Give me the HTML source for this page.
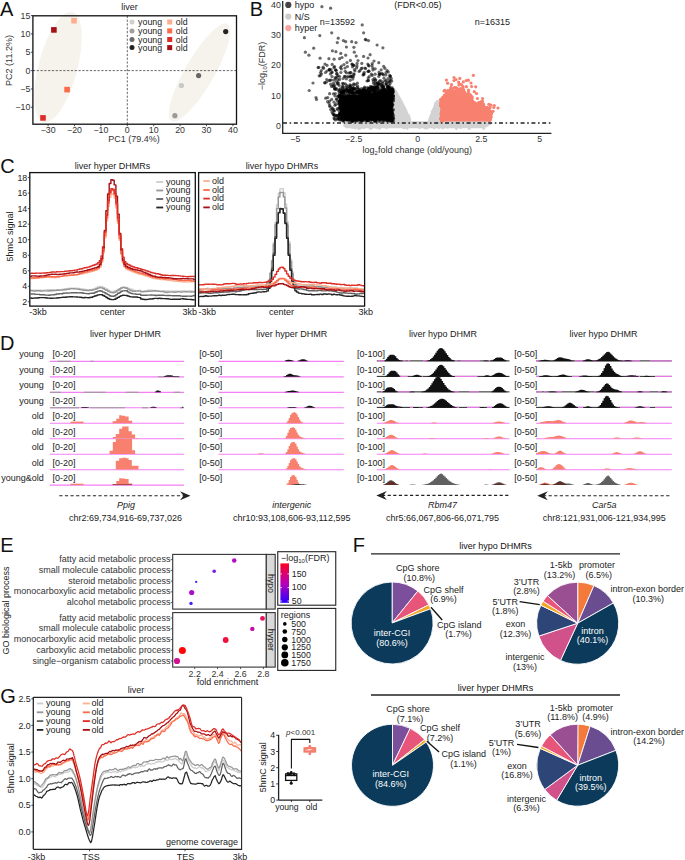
<!DOCTYPE html>
<html><head><meta charset="utf-8"><style>
html,body{margin:0;padding:0;background:#fff;}
svg{display:block;}
text{font-family:"Liberation Sans",sans-serif;}
</style></head><body>
<svg width="685" height="860" viewBox="0 0 685 860" font-family="Liberation Sans, sans-serif">
<rect width="685" height="860" fill="#fff"/>
<text x="0.00" y="15.50" font-size="20" text-anchor="start" fill="#111" >A</text>
<text x="129.60" y="10.10" font-size="9" text-anchor="middle" fill="#222" >liver</text>
<ellipse cx="58" cy="67" rx="19.4" ry="56.9" fill="#F6F2EC" transform="rotate(14.8 58 67)"/>
<ellipse cx="199.5" cy="72.5" rx="14.5" ry="55.9" fill="#F6F2EC" transform="rotate(30 199.5 72.5)"/>
<line x1="32.90" y1="70.60" x2="236.50" y2="70.60" stroke="#555" stroke-width="0.9" stroke-dasharray="2.2,1.6"/>
<line x1="127.30" y1="15.80" x2="127.30" y2="124.20" stroke="#555" stroke-width="0.9" stroke-dasharray="2.2,1.6"/>
<rect x="32.90" y="15.80" width="203.60" height="108.40" fill="none" stroke="#111" stroke-width="1.3" />
<line x1="30.90" y1="15.59" x2="32.90" y2="15.59" stroke="#222" stroke-width="0.8" />
<text x="30.30" y="18.70" font-size="8.8" text-anchor="end" fill="#333" >15</text>
<line x1="30.90" y1="33.93" x2="32.90" y2="33.93" stroke="#222" stroke-width="0.8" />
<text x="30.30" y="37.03" font-size="8.8" text-anchor="end" fill="#333" >10</text>
<line x1="30.90" y1="52.26" x2="32.90" y2="52.26" stroke="#222" stroke-width="0.8" />
<text x="30.30" y="55.36" font-size="8.8" text-anchor="end" fill="#333" >5</text>
<line x1="30.90" y1="70.60" x2="32.90" y2="70.60" stroke="#222" stroke-width="0.8" />
<text x="30.30" y="73.70" font-size="8.8" text-anchor="end" fill="#333" >0</text>
<line x1="30.90" y1="88.94" x2="32.90" y2="88.94" stroke="#222" stroke-width="0.8" />
<text x="30.30" y="92.03" font-size="8.8" text-anchor="end" fill="#333" >−5</text>
<line x1="30.90" y1="107.27" x2="32.90" y2="107.27" stroke="#222" stroke-width="0.8" />
<text x="30.30" y="110.37" font-size="8.8" text-anchor="end" fill="#333" >−10</text>
<line x1="48.10" y1="124.20" x2="48.10" y2="126.20" stroke="#222" stroke-width="0.8" />
<text x="48.10" y="133.00" font-size="8.8" text-anchor="middle" fill="#333" >−30</text>
<line x1="74.50" y1="124.20" x2="74.50" y2="126.20" stroke="#222" stroke-width="0.8" />
<text x="74.50" y="133.00" font-size="8.8" text-anchor="middle" fill="#333" >−20</text>
<line x1="100.90" y1="124.20" x2="100.90" y2="126.20" stroke="#222" stroke-width="0.8" />
<text x="100.90" y="133.00" font-size="8.8" text-anchor="middle" fill="#333" >−10</text>
<line x1="127.30" y1="124.20" x2="127.30" y2="126.20" stroke="#222" stroke-width="0.8" />
<text x="127.30" y="133.00" font-size="8.8" text-anchor="middle" fill="#333" >0</text>
<line x1="153.70" y1="124.20" x2="153.70" y2="126.20" stroke="#222" stroke-width="0.8" />
<text x="153.70" y="133.00" font-size="8.8" text-anchor="middle" fill="#333" >10</text>
<line x1="180.10" y1="124.20" x2="180.10" y2="126.20" stroke="#222" stroke-width="0.8" />
<text x="180.10" y="133.00" font-size="8.8" text-anchor="middle" fill="#333" >20</text>
<line x1="206.50" y1="124.20" x2="206.50" y2="126.20" stroke="#222" stroke-width="0.8" />
<text x="206.50" y="133.00" font-size="8.8" text-anchor="middle" fill="#333" >30</text>
<line x1="232.90" y1="124.20" x2="232.90" y2="126.20" stroke="#222" stroke-width="0.8" />
<text x="232.90" y="133.00" font-size="8.8" text-anchor="middle" fill="#333" >40</text>
<text x="134.00" y="142.20" font-size="9" text-anchor="middle" fill="#333" >PC1 (79.4%)</text>
<text x="0" y="0" font-size="9" text-anchor="middle" fill="#333" transform="translate(12.2 60.5) rotate(-90)">PC2 (11.2%)</text>
<rect x="71.20" y="17.90" width="5.60" height="5.60" fill="#FCAE91" stroke="none" stroke-width="0" />
<rect x="51.10" y="27.10" width="5.60" height="5.60" fill="#A50F15" stroke="none" stroke-width="0" />
<rect x="64.30" y="86.80" width="5.60" height="5.60" fill="#FB6A4A" stroke="none" stroke-width="0" />
<rect x="40.20" y="115.10" width="5.60" height="5.60" fill="#DE2D26" stroke="none" stroke-width="0" />
<circle cx="225.70" cy="31.60" r="2.60" fill="#222" />
<circle cx="198.60" cy="75.60" r="2.60" fill="#666" />
<circle cx="181.40" cy="85.60" r="2.60" fill="#C8C8C8" />
<circle cx="174.90" cy="115.70" r="2.60" fill="#999" />
<circle cx="132.00" cy="22.00" r="2.50" fill="#CFCFCF" />
<text x="138.10" y="25.30" font-size="8.8" text-anchor="start" fill="#222" >young</text>
<rect x="167.20" y="19.50" width="5.00" height="5.00" fill="#FCAE91" stroke="none" stroke-width="0" />
<text x="175.80" y="25.30" font-size="8.8" text-anchor="start" fill="#222" >old</text>
<circle cx="132.00" cy="30.90" r="2.50" fill="#A0A0A0" />
<text x="138.10" y="34.20" font-size="8.8" text-anchor="start" fill="#222" >young</text>
<rect x="167.20" y="28.40" width="5.00" height="5.00" fill="#FB6A4A" stroke="none" stroke-width="0" />
<text x="175.80" y="34.20" font-size="8.8" text-anchor="start" fill="#222" >old</text>
<circle cx="132.00" cy="39.50" r="2.50" fill="#6A6A6A" />
<text x="138.10" y="42.80" font-size="8.8" text-anchor="start" fill="#222" >young</text>
<rect x="167.20" y="37.00" width="5.00" height="5.00" fill="#DE2D26" stroke="none" stroke-width="0" />
<text x="175.80" y="42.80" font-size="8.8" text-anchor="start" fill="#222" >old</text>
<circle cx="132.00" cy="47.60" r="2.50" fill="#222" />
<text x="138.10" y="50.90" font-size="8.8" text-anchor="start" fill="#222" >young</text>
<rect x="167.20" y="45.10" width="5.00" height="5.00" fill="#A50F15" stroke="none" stroke-width="0" />
<text x="175.80" y="50.90" font-size="8.8" text-anchor="start" fill="#222" >old</text>
<text x="249.80" y="15.50" font-size="20" text-anchor="start" fill="#111" >B</text>
<polygon points="343.0,126.0 346.0,128.3 480.0,128.3 486.0,127.5 492.0,124.0 490.0,121.0 470.0,121.0 442.0,100.0 437.0,101.5 434.0,105.0 431.0,112.0 428.0,121.3 411.0,121.3 407.0,110.0 402.0,100.0 396.0,89.5 392.0,88.5 392.0,120.0 345.0,120.0" fill="#D3D3D3" />
<g fill="#D3D3D3">
<circle cx="396.5" cy="99.4" r="1.5"/>
<circle cx="402.3" cy="109.8" r="1.5"/>
<circle cx="401.0" cy="106.1" r="1.5"/>
<circle cx="392.7" cy="90.9" r="1.5"/>
<circle cx="392.1" cy="90.2" r="1.5"/>
<circle cx="391.6" cy="91.2" r="1.5"/>
<circle cx="400.4" cy="102.6" r="1.5"/>
<circle cx="393.0" cy="93.0" r="1.5"/>
<circle cx="404.5" cy="109.1" r="1.5"/>
<circle cx="401.9" cy="107.5" r="1.5"/>
<circle cx="408.2" cy="120.2" r="1.5"/>
<circle cx="406.8" cy="116.5" r="1.5"/>
<circle cx="393.1" cy="93.6" r="1.5"/>
<circle cx="398.2" cy="98.9" r="1.5"/>
<circle cx="395.2" cy="94.8" r="1.5"/>
<circle cx="403.0" cy="109.4" r="1.5"/>
<circle cx="400.4" cy="106.5" r="1.5"/>
<circle cx="391.8" cy="90.9" r="1.5"/>
<circle cx="403.9" cy="110.8" r="1.5"/>
<circle cx="397.6" cy="99.1" r="1.5"/>
<circle cx="399.3" cy="103.5" r="1.5"/>
<circle cx="406.8" cy="114.4" r="1.5"/>
<circle cx="396.3" cy="96.8" r="1.5"/>
<circle cx="402.4" cy="105.8" r="1.5"/>
<circle cx="404.4" cy="112.3" r="1.5"/>
<circle cx="408.5" cy="120.4" r="1.5"/>
<circle cx="400.1" cy="102.4" r="1.5"/>
<circle cx="394.3" cy="93.9" r="1.5"/>
<circle cx="392.8" cy="90.3" r="1.5"/>
<circle cx="405.9" cy="113.5" r="1.5"/>
<circle cx="407.1" cy="117.0" r="1.5"/>
<circle cx="404.7" cy="111.2" r="1.5"/>
<circle cx="402.1" cy="107.6" r="1.5"/>
<circle cx="408.4" cy="115.9" r="1.5"/>
<circle cx="400.8" cy="104.2" r="1.5"/>
<circle cx="393.3" cy="90.9" r="1.5"/>
<circle cx="405.0" cy="109.7" r="1.5"/>
<circle cx="406.1" cy="115.3" r="1.5"/>
<circle cx="399.2" cy="101.3" r="1.5"/>
<circle cx="391.9" cy="89.7" r="1.5"/>
<circle cx="393.5" cy="94.4" r="1.5"/>
<circle cx="393.5" cy="90.9" r="1.5"/>
<circle cx="393.2" cy="93.1" r="1.5"/>
<circle cx="399.9" cy="101.5" r="1.5"/>
<circle cx="392.9" cy="91.6" r="1.5"/>
<circle cx="402.8" cy="106.6" r="1.5"/>
<circle cx="407.8" cy="115.2" r="1.5"/>
<circle cx="396.5" cy="97.9" r="1.5"/>
<circle cx="399.3" cy="100.5" r="1.5"/>
<circle cx="408.2" cy="119.6" r="1.5"/>
<circle cx="394.0" cy="94.6" r="1.5"/>
<circle cx="395.8" cy="96.5" r="1.5"/>
<circle cx="401.7" cy="107.9" r="1.5"/>
<circle cx="391.4" cy="89.1" r="1.5"/>
<circle cx="398.6" cy="100.8" r="1.5"/>
<circle cx="409.7" cy="119.5" r="1.5"/>
<circle cx="401.4" cy="105.5" r="1.5"/>
<circle cx="402.7" cy="110.6" r="1.5"/>
<circle cx="409.0" cy="117.8" r="1.5"/>
<circle cx="408.6" cy="117.0" r="1.5"/>
<circle cx="398.5" cy="101.6" r="1.5"/>
<circle cx="393.9" cy="92.3" r="1.5"/>
<circle cx="391.4" cy="91.0" r="1.5"/>
<circle cx="394.4" cy="95.7" r="1.5"/>
<circle cx="396.5" cy="99.9" r="1.5"/>
<circle cx="390.5" cy="89.0" r="1.5"/>
<circle cx="393.0" cy="92.2" r="1.5"/>
<circle cx="393.2" cy="89.8" r="1.5"/>
<circle cx="401.8" cy="108.7" r="1.5"/>
<circle cx="395.8" cy="97.1" r="1.5"/>
<circle cx="397.2" cy="100.7" r="1.5"/>
<circle cx="408.7" cy="116.2" r="1.5"/>
<circle cx="400.1" cy="103.9" r="1.5"/>
<circle cx="392.0" cy="91.7" r="1.5"/>
<circle cx="397.2" cy="100.0" r="1.5"/>
<circle cx="405.8" cy="115.5" r="1.5"/>
<circle cx="393.4" cy="89.7" r="1.5"/>
<circle cx="400.2" cy="105.9" r="1.5"/>
<circle cx="400.2" cy="106.4" r="1.5"/>
<circle cx="402.7" cy="105.9" r="1.5"/>
<circle cx="408.1" cy="116.6" r="1.5"/>
<circle cx="396.0" cy="97.4" r="1.5"/>
<circle cx="395.5" cy="94.3" r="1.5"/>
<circle cx="402.2" cy="106.0" r="1.5"/>
<circle cx="396.8" cy="99.5" r="1.5"/>
<circle cx="408.0" cy="115.0" r="1.5"/>
<circle cx="408.2" cy="116.3" r="1.5"/>
<circle cx="407.4" cy="115.2" r="1.5"/>
<circle cx="395.8" cy="96.3" r="1.5"/>
<circle cx="396.7" cy="100.4" r="1.5"/>
<circle cx="437.1" cy="101.6" r="1.5"/>
<circle cx="436.5" cy="106.2" r="1.5"/>
<circle cx="430.2" cy="120.1" r="1.5"/>
<circle cx="432.0" cy="119.7" r="1.5"/>
<circle cx="430.0" cy="120.1" r="1.5"/>
<circle cx="435.4" cy="105.4" r="1.5"/>
<circle cx="435.5" cy="104.9" r="1.5"/>
<circle cx="434.2" cy="113.5" r="1.5"/>
<circle cx="431.2" cy="117.8" r="1.5"/>
<circle cx="433.7" cy="114.1" r="1.5"/>
<circle cx="437.8" cy="102.7" r="1.5"/>
<circle cx="431.6" cy="119.2" r="1.5"/>
<circle cx="431.9" cy="116.0" r="1.5"/>
<circle cx="437.4" cy="104.6" r="1.5"/>
<circle cx="436.2" cy="107.7" r="1.5"/>
<circle cx="429.9" cy="120.4" r="1.5"/>
<circle cx="436.1" cy="109.0" r="1.5"/>
<circle cx="431.2" cy="115.5" r="1.5"/>
<circle cx="435.9" cy="103.5" r="1.5"/>
<circle cx="431.7" cy="119.1" r="1.5"/>
<circle cx="437.8" cy="103.9" r="1.5"/>
<circle cx="430.6" cy="120.6" r="1.5"/>
<circle cx="435.3" cy="108.0" r="1.5"/>
<circle cx="435.5" cy="103.6" r="1.5"/>
<circle cx="430.7" cy="120.4" r="1.5"/>
<circle cx="435.1" cy="111.5" r="1.5"/>
<circle cx="435.6" cy="109.7" r="1.5"/>
<circle cx="430.5" cy="117.5" r="1.5"/>
<circle cx="435.4" cy="106.0" r="1.5"/>
<circle cx="436.3" cy="105.8" r="1.5"/>
<circle cx="435.7" cy="106.2" r="1.5"/>
<circle cx="438.2" cy="103.6" r="1.5"/>
<circle cx="435.0" cy="108.1" r="1.5"/>
<circle cx="434.5" cy="112.7" r="1.5"/>
<circle cx="435.9" cy="109.4" r="1.5"/>
<circle cx="434.1" cy="111.0" r="1.5"/>
<circle cx="432.4" cy="111.5" r="1.5"/>
<circle cx="433.5" cy="109.8" r="1.5"/>
<circle cx="438.9" cy="101.1" r="1.5"/>
<circle cx="436.5" cy="104.4" r="1.5"/>
<circle cx="432.4" cy="115.5" r="1.5"/>
<circle cx="435.4" cy="107.5" r="1.5"/>
<circle cx="434.4" cy="112.1" r="1.5"/>
<circle cx="437.3" cy="103.1" r="1.5"/>
<circle cx="435.3" cy="106.0" r="1.5"/>
<circle cx="431.8" cy="116.4" r="1.5"/>
<circle cx="434.3" cy="112.2" r="1.5"/>
<circle cx="430.5" cy="119.2" r="1.5"/>
<circle cx="433.1" cy="113.3" r="1.5"/>
<circle cx="434.5" cy="111.2" r="1.5"/>
<circle cx="434.5" cy="110.0" r="1.5"/>
<circle cx="435.5" cy="110.6" r="1.5"/>
<circle cx="433.5" cy="115.0" r="1.5"/>
<circle cx="429.7" cy="119.8" r="1.5"/>
<circle cx="434.9" cy="112.2" r="1.5"/>
<circle cx="430.2" cy="117.8" r="1.5"/>
<circle cx="436.9" cy="103.4" r="1.5"/>
<circle cx="436.6" cy="102.5" r="1.5"/>
<circle cx="437.9" cy="102.5" r="1.5"/>
<circle cx="432.9" cy="116.7" r="1.5"/>
<circle cx="370.9" cy="128.1" r="1.5"/>
<circle cx="439.1" cy="127.4" r="1.5"/>
<circle cx="469.2" cy="128.4" r="1.5"/>
<circle cx="379.6" cy="128.3" r="1.5"/>
<circle cx="403.8" cy="127.8" r="1.5"/>
<circle cx="483.6" cy="128.2" r="1.5"/>
<circle cx="371.8" cy="127.7" r="1.5"/>
<circle cx="419.6" cy="127.6" r="1.5"/>
<circle cx="376.4" cy="127.6" r="1.5"/>
<circle cx="447.5" cy="127.2" r="1.5"/>
<circle cx="424.8" cy="127.7" r="1.5"/>
<circle cx="352.4" cy="127.6" r="1.5"/>
<circle cx="434.2" cy="127.8" r="1.5"/>
<circle cx="358.7" cy="128.4" r="1.5"/>
<circle cx="456.4" cy="128.4" r="1.5"/>
<circle cx="364.1" cy="127.5" r="1.5"/>
<circle cx="355.3" cy="128.1" r="1.5"/>
<circle cx="386.5" cy="127.4" r="1.5"/>
<circle cx="407.0" cy="128.3" r="1.5"/>
<circle cx="460.6" cy="127.5" r="1.5"/>
<circle cx="370.2" cy="128.3" r="1.5"/>
<circle cx="427.0" cy="128.0" r="1.5"/>
<circle cx="362.1" cy="127.3" r="1.5"/>
<circle cx="442.9" cy="127.7" r="1.5"/>
<circle cx="359.8" cy="128.3" r="1.5"/>
</g>
<polygon points="340.5,95.5 366.0,94.0 392.7,89.5 392.7,120.5 340.5,120.5" fill="#000" />
<g fill="#000" fill-opacity="0.58">
<circle cx="341.5" cy="111.2" r="1.6"/>
<circle cx="341.8" cy="109.1" r="1.6"/>
<circle cx="339.8" cy="96.3" r="1.6"/>
<circle cx="339.3" cy="103.8" r="1.6"/>
<circle cx="339.6" cy="118.8" r="1.6"/>
<circle cx="342.0" cy="112.5" r="1.6"/>
<circle cx="339.7" cy="96.4" r="1.6"/>
<circle cx="341.1" cy="117.2" r="1.6"/>
<circle cx="341.9" cy="101.7" r="1.6"/>
<circle cx="340.3" cy="95.0" r="1.6"/>
<circle cx="340.4" cy="97.3" r="1.6"/>
<circle cx="341.1" cy="114.1" r="1.6"/>
<circle cx="341.0" cy="113.5" r="1.6"/>
<circle cx="340.7" cy="98.6" r="1.6"/>
<circle cx="341.2" cy="112.4" r="1.6"/>
<circle cx="341.0" cy="109.2" r="1.6"/>
<circle cx="340.7" cy="107.8" r="1.6"/>
<circle cx="339.9" cy="113.6" r="1.6"/>
<circle cx="392.6" cy="113.9" r="1.6"/>
<circle cx="391.0" cy="107.5" r="1.6"/>
<circle cx="392.2" cy="105.8" r="1.6"/>
<circle cx="392.2" cy="89.6" r="1.6"/>
<circle cx="392.5" cy="95.8" r="1.6"/>
<circle cx="392.8" cy="117.8" r="1.6"/>
<circle cx="391.8" cy="103.6" r="1.6"/>
<circle cx="391.3" cy="116.3" r="1.6"/>
<circle cx="392.5" cy="121.5" r="1.6"/>
<circle cx="393.4" cy="98.3" r="1.6"/>
<circle cx="393.1" cy="117.7" r="1.6"/>
<circle cx="392.2" cy="112.8" r="1.6"/>
<circle cx="391.9" cy="104.3" r="1.6"/>
<circle cx="392.0" cy="107.1" r="1.6"/>
<circle cx="393.6" cy="118.5" r="1.6"/>
<circle cx="353.4" cy="120.0" r="1.6"/>
<circle cx="360.6" cy="120.1" r="1.6"/>
<circle cx="385.9" cy="119.9" r="1.6"/>
<circle cx="386.4" cy="119.5" r="1.6"/>
<circle cx="361.4" cy="121.2" r="1.6"/>
<circle cx="368.2" cy="120.7" r="1.6"/>
<circle cx="343.1" cy="120.9" r="1.6"/>
<circle cx="374.1" cy="120.8" r="1.6"/>
<circle cx="372.3" cy="119.5" r="1.6"/>
<circle cx="353.2" cy="119.9" r="1.6"/>
<circle cx="362.8" cy="120.0" r="1.6"/>
<circle cx="376.5" cy="119.9" r="1.6"/>
<circle cx="383.6" cy="119.9" r="1.6"/>
<circle cx="352.6" cy="120.3" r="1.6"/>
<circle cx="348.4" cy="119.6" r="1.6"/>
<circle cx="389.4" cy="120.1" r="1.6"/>
<circle cx="360.4" cy="120.1" r="1.6"/>
<circle cx="334.6" cy="66.7" r="1.6"/>
<circle cx="388.8" cy="91.0" r="1.6"/>
<circle cx="324.7" cy="82.6" r="1.6"/>
<circle cx="351.6" cy="91.5" r="1.6"/>
<circle cx="380.8" cy="95.0" r="1.6"/>
<circle cx="384.9" cy="68.3" r="1.6"/>
<circle cx="373.4" cy="81.2" r="1.6"/>
<circle cx="326.6" cy="82.0" r="1.6"/>
<circle cx="392.4" cy="91.6" r="1.6"/>
<circle cx="355.5" cy="84.5" r="1.6"/>
<circle cx="334.8" cy="85.7" r="1.6"/>
<circle cx="351.4" cy="92.6" r="1.6"/>
<circle cx="346.2" cy="89.0" r="1.6"/>
<circle cx="321.5" cy="74.1" r="1.6"/>
<circle cx="385.7" cy="91.0" r="1.6"/>
<circle cx="342.6" cy="86.8" r="1.6"/>
<circle cx="339.1" cy="93.1" r="1.6"/>
<circle cx="334.8" cy="88.2" r="1.6"/>
<circle cx="353.3" cy="84.9" r="1.6"/>
<circle cx="385.5" cy="90.4" r="1.6"/>
<circle cx="382.8" cy="90.3" r="1.6"/>
<circle cx="387.6" cy="86.3" r="1.6"/>
<circle cx="388.9" cy="88.7" r="1.6"/>
<circle cx="387.1" cy="70.6" r="1.6"/>
<circle cx="329.9" cy="80.2" r="1.6"/>
<circle cx="360.3" cy="92.9" r="1.6"/>
<circle cx="370.5" cy="94.6" r="1.6"/>
<circle cx="348.2" cy="86.6" r="1.6"/>
<circle cx="373.6" cy="94.8" r="1.6"/>
<circle cx="339.4" cy="89.6" r="1.6"/>
<circle cx="333.2" cy="86.4" r="1.6"/>
<circle cx="329.3" cy="69.4" r="1.6"/>
<circle cx="390.9" cy="89.2" r="1.6"/>
<circle cx="333.6" cy="83.0" r="1.6"/>
<circle cx="352.9" cy="93.0" r="1.6"/>
<circle cx="383.3" cy="74.8" r="1.6"/>
<circle cx="356.6" cy="67.9" r="1.6"/>
<circle cx="336.2" cy="70.6" r="1.6"/>
<circle cx="320.5" cy="72.6" r="1.6"/>
<circle cx="331.5" cy="86.4" r="1.6"/>
<circle cx="350.0" cy="90.8" r="1.6"/>
<circle cx="368.9" cy="88.7" r="1.6"/>
<circle cx="342.7" cy="88.2" r="1.6"/>
<circle cx="374.5" cy="92.9" r="1.6"/>
<circle cx="387.7" cy="88.1" r="1.6"/>
<circle cx="369.4" cy="92.9" r="1.6"/>
<circle cx="329.6" cy="70.1" r="1.6"/>
<circle cx="385.2" cy="93.0" r="1.6"/>
<circle cx="336.5" cy="88.5" r="1.6"/>
<circle cx="352.8" cy="79.1" r="1.6"/>
<circle cx="318.1" cy="67.6" r="1.6"/>
<circle cx="340.4" cy="67.6" r="1.6"/>
<circle cx="382.6" cy="81.8" r="1.6"/>
<circle cx="371.4" cy="89.0" r="1.6"/>
<circle cx="339.2" cy="85.5" r="1.6"/>
<circle cx="371.1" cy="92.1" r="1.6"/>
<circle cx="383.7" cy="66.3" r="1.6"/>
<circle cx="378.8" cy="76.4" r="1.6"/>
<circle cx="357.6" cy="86.2" r="1.6"/>
<circle cx="352.2" cy="64.4" r="1.6"/>
<circle cx="374.8" cy="85.4" r="1.6"/>
<circle cx="350.8" cy="93.0" r="1.6"/>
<circle cx="364.3" cy="89.7" r="1.6"/>
<circle cx="353.8" cy="74.1" r="1.6"/>
<circle cx="344.7" cy="76.6" r="1.6"/>
<circle cx="350.4" cy="89.1" r="1.6"/>
<circle cx="375.8" cy="79.8" r="1.6"/>
<circle cx="372.2" cy="75.4" r="1.6"/>
<circle cx="333.9" cy="67.4" r="1.6"/>
<circle cx="353.2" cy="88.1" r="1.6"/>
<circle cx="391.4" cy="91.5" r="1.6"/>
<circle cx="372.4" cy="89.4" r="1.6"/>
<circle cx="354.0" cy="74.4" r="1.6"/>
<circle cx="347.4" cy="66.5" r="1.6"/>
<circle cx="367.9" cy="71.5" r="1.6"/>
<circle cx="361.3" cy="91.5" r="1.6"/>
<circle cx="348.8" cy="76.8" r="1.6"/>
<circle cx="391.8" cy="81.1" r="1.6"/>
<circle cx="369.9" cy="91.5" r="1.6"/>
<circle cx="390.1" cy="83.6" r="1.6"/>
<circle cx="333.4" cy="85.2" r="1.6"/>
<circle cx="346.8" cy="85.3" r="1.6"/>
<circle cx="361.4" cy="92.8" r="1.6"/>
<circle cx="352.8" cy="89.3" r="1.6"/>
<circle cx="369.5" cy="92.4" r="1.6"/>
<circle cx="363.2" cy="92.8" r="1.6"/>
<circle cx="363.3" cy="90.0" r="1.6"/>
<circle cx="388.1" cy="86.3" r="1.6"/>
<circle cx="375.1" cy="91.0" r="1.6"/>
<circle cx="388.0" cy="86.3" r="1.6"/>
<circle cx="382.0" cy="86.7" r="1.6"/>
<circle cx="369.9" cy="91.5" r="1.6"/>
<circle cx="366.6" cy="90.5" r="1.6"/>
<circle cx="375.6" cy="87.4" r="1.6"/>
<circle cx="342.5" cy="92.6" r="1.6"/>
<circle cx="387.7" cy="90.9" r="1.6"/>
<circle cx="368.3" cy="88.7" r="1.6"/>
<circle cx="384.0" cy="89.1" r="1.6"/>
<circle cx="358.2" cy="92.6" r="1.6"/>
<circle cx="387.1" cy="87.9" r="1.6"/>
<circle cx="375.2" cy="87.8" r="1.6"/>
<circle cx="376.4" cy="91.1" r="1.6"/>
<circle cx="381.3" cy="86.3" r="1.6"/>
<circle cx="356.7" cy="92.1" r="1.6"/>
<circle cx="343.0" cy="95.5" r="1.6"/>
<circle cx="371.8" cy="87.3" r="1.6"/>
<circle cx="348.9" cy="95.4" r="1.6"/>
<circle cx="347.7" cy="95.6" r="1.6"/>
<circle cx="378.1" cy="87.0" r="1.6"/>
<circle cx="354.2" cy="89.1" r="1.6"/>
<circle cx="335.9" cy="104.3" r="1.6"/>
<circle cx="331.9" cy="107.9" r="1.6"/>
<circle cx="333.5" cy="114.6" r="1.6"/>
<circle cx="327.6" cy="101.7" r="1.6"/>
<circle cx="332.8" cy="113.6" r="1.6"/>
<circle cx="329.8" cy="106.5" r="1.6"/>
<circle cx="335.6" cy="116.3" r="1.6"/>
<circle cx="327.7" cy="97.6" r="1.6"/>
<circle cx="325.7" cy="98.2" r="1.6"/>
<circle cx="329.8" cy="105.5" r="1.6"/>
<circle cx="336.7" cy="115.6" r="1.6"/>
<circle cx="338.0" cy="96.1" r="1.6"/>
<circle cx="330.6" cy="8.2" r="1.6"/>
<circle cx="319.8" cy="35.6" r="1.6"/>
<circle cx="368.5" cy="40.6" r="1.6"/>
<circle cx="345.7" cy="41.7" r="1.6"/>
<circle cx="382.9" cy="47.8" r="1.6"/>
<circle cx="305.4" cy="52.2" r="1.6"/>
<circle cx="340.8" cy="53.4" r="1.6"/>
<circle cx="363.6" cy="56.4" r="1.6"/>
<circle cx="334.1" cy="59.2" r="1.6"/>
<circle cx="378.8" cy="62.7" r="1.6"/>
<circle cx="313.0" cy="83.0" r="1.6"/>
<circle cx="336.0" cy="70.0" r="1.6"/>
<circle cx="352.0" cy="64.0" r="1.6"/>
<circle cx="373.0" cy="70.0" r="1.6"/>
<circle cx="390.0" cy="80.0" r="1.6"/>
<circle cx="374.0" cy="61.0" r="1.6"/>
<circle cx="368.0" cy="58.0" r="1.6"/>
</g>
<g fill="#000" fill-opacity="0.58">
<circle cx="341.6" cy="97.1" r="1.6"/>
<circle cx="339.6" cy="101.8" r="1.6"/>
<circle cx="340.1" cy="103.0" r="1.6"/>
<circle cx="339.3" cy="101.4" r="1.6"/>
<circle cx="340.5" cy="115.9" r="1.6"/>
<circle cx="341.5" cy="103.7" r="1.6"/>
<circle cx="341.3" cy="96.8" r="1.6"/>
<circle cx="340.0" cy="102.2" r="1.6"/>
<circle cx="340.8" cy="119.8" r="1.6"/>
<circle cx="340.7" cy="107.1" r="1.6"/>
<circle cx="339.4" cy="96.1" r="1.6"/>
<circle cx="341.7" cy="113.3" r="1.6"/>
<circle cx="341.6" cy="96.1" r="1.6"/>
<circle cx="341.6" cy="107.9" r="1.6"/>
<circle cx="339.4" cy="100.9" r="1.6"/>
<circle cx="341.1" cy="111.0" r="1.6"/>
<circle cx="339.5" cy="111.8" r="1.6"/>
<circle cx="341.9" cy="113.9" r="1.6"/>
<circle cx="391.2" cy="109.9" r="1.6"/>
<circle cx="391.7" cy="91.0" r="1.6"/>
<circle cx="391.3" cy="104.2" r="1.6"/>
<circle cx="393.5" cy="115.6" r="1.6"/>
<circle cx="392.4" cy="93.6" r="1.6"/>
<circle cx="393.3" cy="96.5" r="1.6"/>
<circle cx="391.9" cy="93.6" r="1.6"/>
<circle cx="392.9" cy="119.1" r="1.6"/>
<circle cx="392.1" cy="100.7" r="1.6"/>
<circle cx="391.7" cy="97.1" r="1.6"/>
<circle cx="393.4" cy="109.5" r="1.6"/>
<circle cx="392.7" cy="113.5" r="1.6"/>
<circle cx="392.9" cy="98.7" r="1.6"/>
<circle cx="391.4" cy="94.4" r="1.6"/>
<circle cx="391.4" cy="103.6" r="1.6"/>
<circle cx="370.6" cy="121.1" r="1.6"/>
<circle cx="344.2" cy="120.0" r="1.6"/>
<circle cx="355.1" cy="119.9" r="1.6"/>
<circle cx="342.7" cy="120.8" r="1.6"/>
<circle cx="383.9" cy="121.0" r="1.6"/>
<circle cx="390.0" cy="120.8" r="1.6"/>
<circle cx="353.1" cy="121.2" r="1.6"/>
<circle cx="346.8" cy="119.6" r="1.6"/>
<circle cx="356.7" cy="120.3" r="1.6"/>
<circle cx="391.0" cy="120.8" r="1.6"/>
<circle cx="375.7" cy="121.2" r="1.6"/>
<circle cx="382.4" cy="120.8" r="1.6"/>
<circle cx="352.5" cy="120.9" r="1.6"/>
<circle cx="375.6" cy="121.2" r="1.6"/>
<circle cx="344.1" cy="120.2" r="1.6"/>
<circle cx="350.6" cy="121.2" r="1.6"/>
<circle cx="349.8" cy="119.5" r="1.6"/>
<circle cx="383.2" cy="91.3" r="1.6"/>
<circle cx="358.7" cy="93.2" r="1.6"/>
<circle cx="344.4" cy="94.7" r="1.6"/>
<circle cx="362.1" cy="68.1" r="1.6"/>
<circle cx="363.9" cy="73.9" r="1.6"/>
<circle cx="349.7" cy="90.8" r="1.6"/>
<circle cx="375.4" cy="80.3" r="1.6"/>
<circle cx="379.9" cy="93.1" r="1.6"/>
<circle cx="390.1" cy="76.7" r="1.6"/>
<circle cx="361.1" cy="92.7" r="1.6"/>
<circle cx="339.7" cy="79.4" r="1.6"/>
<circle cx="387.2" cy="93.6" r="1.6"/>
<circle cx="367.0" cy="81.0" r="1.6"/>
<circle cx="343.6" cy="92.0" r="1.6"/>
<circle cx="349.1" cy="89.9" r="1.6"/>
<circle cx="343.6" cy="91.1" r="1.6"/>
<circle cx="375.1" cy="91.6" r="1.6"/>
<circle cx="361.2" cy="94.1" r="1.6"/>
<circle cx="354.4" cy="92.2" r="1.6"/>
<circle cx="346.9" cy="91.2" r="1.6"/>
<circle cx="386.6" cy="90.6" r="1.6"/>
<circle cx="373.4" cy="94.2" r="1.6"/>
<circle cx="366.3" cy="94.0" r="1.6"/>
<circle cx="335.9" cy="89.4" r="1.6"/>
<circle cx="336.7" cy="81.9" r="1.6"/>
<circle cx="355.4" cy="88.8" r="1.6"/>
<circle cx="325.0" cy="83.0" r="1.6"/>
<circle cx="368.7" cy="90.4" r="1.6"/>
<circle cx="346.8" cy="89.3" r="1.6"/>
<circle cx="362.9" cy="93.8" r="1.6"/>
<circle cx="377.9" cy="83.8" r="1.6"/>
<circle cx="391.3" cy="78.5" r="1.6"/>
<circle cx="330.4" cy="73.9" r="1.6"/>
<circle cx="338.0" cy="75.7" r="1.6"/>
<circle cx="351.6" cy="89.0" r="1.6"/>
<circle cx="381.2" cy="90.0" r="1.6"/>
<circle cx="384.0" cy="78.2" r="1.6"/>
<circle cx="357.1" cy="63.4" r="1.6"/>
<circle cx="335.3" cy="69.8" r="1.6"/>
<circle cx="347.6" cy="92.6" r="1.6"/>
<circle cx="319.2" cy="75.8" r="1.6"/>
<circle cx="335.1" cy="77.9" r="1.6"/>
<circle cx="373.5" cy="91.6" r="1.6"/>
<circle cx="346.4" cy="78.8" r="1.6"/>
<circle cx="368.1" cy="92.5" r="1.6"/>
<circle cx="327.0" cy="65.3" r="1.6"/>
<circle cx="350.1" cy="86.5" r="1.6"/>
<circle cx="351.0" cy="72.5" r="1.6"/>
<circle cx="377.7" cy="85.7" r="1.6"/>
<circle cx="354.9" cy="71.0" r="1.6"/>
<circle cx="347.5" cy="87.8" r="1.6"/>
<circle cx="388.0" cy="88.3" r="1.6"/>
<circle cx="380.3" cy="74.2" r="1.6"/>
<circle cx="388.6" cy="91.9" r="1.6"/>
<circle cx="341.9" cy="92.7" r="1.6"/>
<circle cx="381.8" cy="85.0" r="1.6"/>
<circle cx="349.3" cy="91.4" r="1.6"/>
<circle cx="339.6" cy="76.5" r="1.6"/>
<circle cx="353.5" cy="92.8" r="1.6"/>
<circle cx="361.2" cy="68.7" r="1.6"/>
<circle cx="337.8" cy="79.6" r="1.6"/>
<circle cx="388.3" cy="71.9" r="1.6"/>
<circle cx="382.8" cy="85.4" r="1.6"/>
<circle cx="373.3" cy="91.3" r="1.6"/>
<circle cx="353.9" cy="83.8" r="1.6"/>
<circle cx="352.5" cy="66.8" r="1.6"/>
<circle cx="364.2" cy="72.3" r="1.6"/>
<circle cx="361.3" cy="90.0" r="1.6"/>
<circle cx="353.0" cy="89.5" r="1.6"/>
<circle cx="334.5" cy="80.1" r="1.6"/>
<circle cx="359.3" cy="91.5" r="1.6"/>
<circle cx="349.4" cy="91.4" r="1.6"/>
<circle cx="352.4" cy="76.5" r="1.6"/>
<circle cx="374.5" cy="78.4" r="1.6"/>
<circle cx="365.6" cy="68.6" r="1.6"/>
<circle cx="368.8" cy="71.2" r="1.6"/>
<circle cx="385.9" cy="75.0" r="1.6"/>
<circle cx="368.8" cy="92.6" r="1.6"/>
<circle cx="373.0" cy="79.5" r="1.6"/>
<circle cx="375.0" cy="89.1" r="1.6"/>
<circle cx="357.0" cy="87.4" r="1.6"/>
<circle cx="378.2" cy="88.7" r="1.6"/>
<circle cx="347.7" cy="91.0" r="1.6"/>
<circle cx="359.4" cy="90.5" r="1.6"/>
<circle cx="384.4" cy="89.3" r="1.6"/>
<circle cx="341.1" cy="92.1" r="1.6"/>
<circle cx="375.3" cy="90.3" r="1.6"/>
<circle cx="348.3" cy="90.6" r="1.6"/>
<circle cx="346.3" cy="95.0" r="1.6"/>
<circle cx="349.7" cy="90.1" r="1.6"/>
<circle cx="351.3" cy="91.1" r="1.6"/>
<circle cx="353.2" cy="94.2" r="1.6"/>
<circle cx="369.1" cy="88.0" r="1.6"/>
<circle cx="360.5" cy="91.7" r="1.6"/>
<circle cx="376.5" cy="86.8" r="1.6"/>
<circle cx="378.3" cy="88.4" r="1.6"/>
<circle cx="352.0" cy="92.6" r="1.6"/>
<circle cx="367.2" cy="91.8" r="1.6"/>
<circle cx="356.6" cy="91.1" r="1.6"/>
<circle cx="343.6" cy="94.3" r="1.6"/>
<circle cx="388.3" cy="87.3" r="1.6"/>
<circle cx="375.7" cy="89.7" r="1.6"/>
<circle cx="375.1" cy="90.3" r="1.6"/>
<circle cx="357.6" cy="91.9" r="1.6"/>
<circle cx="383.1" cy="88.1" r="1.6"/>
<circle cx="392.0" cy="87.7" r="1.6"/>
<circle cx="341.2" cy="92.3" r="1.6"/>
<circle cx="378.4" cy="90.7" r="1.6"/>
<circle cx="378.9" cy="91.6" r="1.6"/>
<circle cx="378.3" cy="92.1" r="1.6"/>
<circle cx="334.2" cy="114.3" r="1.6"/>
<circle cx="337.8" cy="119.3" r="1.6"/>
<circle cx="331.7" cy="99.4" r="1.6"/>
<circle cx="334.0" cy="118.1" r="1.6"/>
<circle cx="339.1" cy="117.1" r="1.6"/>
<circle cx="335.5" cy="119.9" r="1.6"/>
<circle cx="336.8" cy="99.3" r="1.6"/>
<circle cx="333.4" cy="93.8" r="1.6"/>
<circle cx="337.5" cy="118.3" r="1.6"/>
<circle cx="335.0" cy="96.0" r="1.6"/>
<circle cx="337.6" cy="101.5" r="1.6"/>
<circle cx="329.1" cy="103.5" r="1.6"/>
<circle cx="362.2" cy="24.9" r="1.6"/>
<circle cx="304.4" cy="37.7" r="1.6"/>
<circle cx="338.2" cy="38.2" r="1.6"/>
<circle cx="351.7" cy="41.7" r="1.6"/>
<circle cx="346.4" cy="47.0" r="1.6"/>
<circle cx="308.9" cy="55.2" r="1.6"/>
<circle cx="345.7" cy="55.2" r="1.6"/>
<circle cx="370.1" cy="54.7" r="1.6"/>
<circle cx="339.6" cy="58.7" r="1.6"/>
<circle cx="309.2" cy="90.5" r="1.6"/>
<circle cx="325.5" cy="72.5" r="1.6"/>
<circle cx="341.5" cy="66.0" r="1.6"/>
<circle cx="357.0" cy="66.0" r="1.6"/>
<circle cx="379.0" cy="72.0" r="1.6"/>
<circle cx="385.0" cy="81.0" r="1.6"/>
<circle cx="358.0" cy="60.5" r="1.6"/>
<circle cx="372.0" cy="65.5" r="1.6"/>
</g>
<g fill="#000" fill-opacity="0.58">
<circle cx="341.6" cy="96.7" r="1.6"/>
<circle cx="339.9" cy="108.4" r="1.6"/>
<circle cx="340.1" cy="114.4" r="1.6"/>
<circle cx="340.8" cy="113.7" r="1.6"/>
<circle cx="341.6" cy="107.6" r="1.6"/>
<circle cx="341.0" cy="113.0" r="1.6"/>
<circle cx="339.7" cy="101.5" r="1.6"/>
<circle cx="340.5" cy="102.5" r="1.6"/>
<circle cx="341.9" cy="101.2" r="1.6"/>
<circle cx="340.7" cy="100.1" r="1.6"/>
<circle cx="339.9" cy="102.8" r="1.6"/>
<circle cx="340.2" cy="104.9" r="1.6"/>
<circle cx="341.0" cy="117.7" r="1.6"/>
<circle cx="341.5" cy="115.5" r="1.6"/>
<circle cx="340.3" cy="98.4" r="1.6"/>
<circle cx="339.3" cy="107.5" r="1.6"/>
<circle cx="340.0" cy="113.8" r="1.6"/>
<circle cx="392.0" cy="105.1" r="1.6"/>
<circle cx="391.7" cy="93.8" r="1.6"/>
<circle cx="392.8" cy="110.8" r="1.6"/>
<circle cx="391.5" cy="118.0" r="1.6"/>
<circle cx="391.7" cy="103.6" r="1.6"/>
<circle cx="391.3" cy="120.0" r="1.6"/>
<circle cx="391.1" cy="104.8" r="1.6"/>
<circle cx="393.2" cy="99.3" r="1.6"/>
<circle cx="391.8" cy="118.3" r="1.6"/>
<circle cx="391.1" cy="97.9" r="1.6"/>
<circle cx="391.5" cy="105.6" r="1.6"/>
<circle cx="392.4" cy="119.6" r="1.6"/>
<circle cx="391.1" cy="98.3" r="1.6"/>
<circle cx="391.7" cy="120.7" r="1.6"/>
<circle cx="393.4" cy="95.8" r="1.6"/>
<circle cx="351.0" cy="119.7" r="1.6"/>
<circle cx="380.0" cy="120.2" r="1.6"/>
<circle cx="391.3" cy="119.7" r="1.6"/>
<circle cx="361.8" cy="120.3" r="1.6"/>
<circle cx="387.6" cy="120.4" r="1.6"/>
<circle cx="391.6" cy="119.9" r="1.6"/>
<circle cx="374.7" cy="120.9" r="1.6"/>
<circle cx="374.6" cy="120.0" r="1.6"/>
<circle cx="368.3" cy="120.5" r="1.6"/>
<circle cx="390.9" cy="120.7" r="1.6"/>
<circle cx="357.0" cy="119.5" r="1.6"/>
<circle cx="352.8" cy="119.6" r="1.6"/>
<circle cx="367.3" cy="119.9" r="1.6"/>
<circle cx="356.3" cy="121.2" r="1.6"/>
<circle cx="348.6" cy="120.2" r="1.6"/>
<circle cx="387.7" cy="121.1" r="1.6"/>
<circle cx="379.8" cy="119.6" r="1.6"/>
<circle cx="355.5" cy="120.1" r="1.6"/>
<circle cx="350.2" cy="80.3" r="1.6"/>
<circle cx="320.3" cy="75.7" r="1.6"/>
<circle cx="337.0" cy="73.5" r="1.6"/>
<circle cx="377.6" cy="92.4" r="1.6"/>
<circle cx="321.3" cy="70.6" r="1.6"/>
<circle cx="363.3" cy="90.2" r="1.6"/>
<circle cx="350.1" cy="87.1" r="1.6"/>
<circle cx="341.3" cy="92.6" r="1.6"/>
<circle cx="342.1" cy="92.4" r="1.6"/>
<circle cx="372.3" cy="86.8" r="1.6"/>
<circle cx="353.8" cy="87.9" r="1.6"/>
<circle cx="350.6" cy="87.7" r="1.6"/>
<circle cx="365.5" cy="94.1" r="1.6"/>
<circle cx="392.0" cy="93.2" r="1.6"/>
<circle cx="389.0" cy="82.2" r="1.6"/>
<circle cx="352.5" cy="93.1" r="1.6"/>
<circle cx="355.9" cy="93.3" r="1.6"/>
<circle cx="370.9" cy="88.2" r="1.6"/>
<circle cx="341.4" cy="69.0" r="1.6"/>
<circle cx="338.1" cy="83.9" r="1.6"/>
<circle cx="343.0" cy="89.7" r="1.6"/>
<circle cx="364.7" cy="91.1" r="1.6"/>
<circle cx="390.1" cy="81.1" r="1.6"/>
<circle cx="346.4" cy="72.8" r="1.6"/>
<circle cx="384.4" cy="90.6" r="1.6"/>
<circle cx="353.1" cy="93.9" r="1.6"/>
<circle cx="326.7" cy="79.5" r="1.6"/>
<circle cx="373.2" cy="90.3" r="1.6"/>
<circle cx="377.4" cy="82.7" r="1.6"/>
<circle cx="363.8" cy="94.2" r="1.6"/>
<circle cx="335.2" cy="88.9" r="1.6"/>
<circle cx="380.5" cy="83.8" r="1.6"/>
<circle cx="387.7" cy="81.8" r="1.6"/>
<circle cx="329.2" cy="80.6" r="1.6"/>
<circle cx="349.3" cy="92.6" r="1.6"/>
<circle cx="367.3" cy="91.2" r="1.6"/>
<circle cx="393.1" cy="91.4" r="1.6"/>
<circle cx="378.5" cy="85.0" r="1.6"/>
<circle cx="390.4" cy="76.2" r="1.6"/>
<circle cx="350.6" cy="77.0" r="1.6"/>
<circle cx="359.0" cy="93.0" r="1.6"/>
<circle cx="353.5" cy="76.8" r="1.6"/>
<circle cx="372.7" cy="67.9" r="1.6"/>
<circle cx="350.6" cy="76.0" r="1.6"/>
<circle cx="343.5" cy="83.7" r="1.6"/>
<circle cx="370.7" cy="89.3" r="1.6"/>
<circle cx="387.5" cy="92.4" r="1.6"/>
<circle cx="350.1" cy="72.7" r="1.6"/>
<circle cx="379.4" cy="74.3" r="1.6"/>
<circle cx="371.9" cy="87.7" r="1.6"/>
<circle cx="386.1" cy="72.6" r="1.6"/>
<circle cx="369.2" cy="76.5" r="1.6"/>
<circle cx="375.1" cy="82.8" r="1.6"/>
<circle cx="338.4" cy="90.6" r="1.6"/>
<circle cx="363.8" cy="74.4" r="1.6"/>
<circle cx="381.2" cy="69.8" r="1.6"/>
<circle cx="339.7" cy="91.3" r="1.6"/>
<circle cx="343.5" cy="91.5" r="1.6"/>
<circle cx="376.1" cy="87.2" r="1.6"/>
<circle cx="361.8" cy="92.7" r="1.6"/>
<circle cx="323.5" cy="68.3" r="1.6"/>
<circle cx="366.2" cy="93.0" r="1.6"/>
<circle cx="390.1" cy="87.8" r="1.6"/>
<circle cx="381.8" cy="91.9" r="1.6"/>
<circle cx="323.1" cy="67.2" r="1.6"/>
<circle cx="386.0" cy="84.5" r="1.6"/>
<circle cx="350.8" cy="85.4" r="1.6"/>
<circle cx="359.1" cy="71.5" r="1.6"/>
<circle cx="379.2" cy="74.0" r="1.6"/>
<circle cx="342.7" cy="86.0" r="1.6"/>
<circle cx="372.3" cy="63.6" r="1.6"/>
<circle cx="330.8" cy="84.2" r="1.6"/>
<circle cx="371.1" cy="90.6" r="1.6"/>
<circle cx="342.5" cy="83.3" r="1.6"/>
<circle cx="351.4" cy="76.2" r="1.6"/>
<circle cx="336.9" cy="76.6" r="1.6"/>
<circle cx="373.5" cy="89.7" r="1.6"/>
<circle cx="381.0" cy="90.2" r="1.6"/>
<circle cx="368.2" cy="80.4" r="1.6"/>
<circle cx="378.1" cy="84.1" r="1.6"/>
<circle cx="362.3" cy="92.9" r="1.6"/>
<circle cx="354.0" cy="65.3" r="1.6"/>
<circle cx="383.1" cy="87.8" r="1.6"/>
<circle cx="383.6" cy="86.6" r="1.6"/>
<circle cx="385.2" cy="89.7" r="1.6"/>
<circle cx="355.6" cy="93.3" r="1.6"/>
<circle cx="389.3" cy="85.7" r="1.6"/>
<circle cx="373.9" cy="92.6" r="1.6"/>
<circle cx="353.1" cy="90.4" r="1.6"/>
<circle cx="372.6" cy="88.1" r="1.6"/>
<circle cx="368.6" cy="88.8" r="1.6"/>
<circle cx="366.6" cy="93.1" r="1.6"/>
<circle cx="341.3" cy="91.4" r="1.6"/>
<circle cx="391.0" cy="90.2" r="1.6"/>
<circle cx="358.2" cy="88.6" r="1.6"/>
<circle cx="358.6" cy="89.2" r="1.6"/>
<circle cx="363.0" cy="90.6" r="1.6"/>
<circle cx="367.3" cy="87.6" r="1.6"/>
<circle cx="374.0" cy="87.9" r="1.6"/>
<circle cx="341.3" cy="95.3" r="1.6"/>
<circle cx="373.1" cy="89.0" r="1.6"/>
<circle cx="380.7" cy="91.3" r="1.6"/>
<circle cx="383.8" cy="86.8" r="1.6"/>
<circle cx="374.4" cy="87.0" r="1.6"/>
<circle cx="388.8" cy="88.3" r="1.6"/>
<circle cx="362.4" cy="93.4" r="1.6"/>
<circle cx="347.3" cy="89.9" r="1.6"/>
<circle cx="379.1" cy="90.9" r="1.6"/>
<circle cx="373.7" cy="88.4" r="1.6"/>
<circle cx="337.9" cy="96.6" r="1.6"/>
<circle cx="333.7" cy="109.6" r="1.6"/>
<circle cx="336.5" cy="115.3" r="1.6"/>
<circle cx="339.0" cy="114.8" r="1.6"/>
<circle cx="334.5" cy="111.0" r="1.6"/>
<circle cx="334.9" cy="105.3" r="1.6"/>
<circle cx="337.7" cy="109.7" r="1.6"/>
<circle cx="338.2" cy="118.5" r="1.6"/>
<circle cx="339.4" cy="95.4" r="1.6"/>
<circle cx="337.3" cy="108.6" r="1.6"/>
<circle cx="332.0" cy="112.1" r="1.6"/>
<circle cx="330.7" cy="109.6" r="1.6"/>
<circle cx="334.2" cy="115.5" r="1.6"/>
<circle cx="363.6" cy="32.8" r="1.6"/>
<circle cx="365.3" cy="39.4" r="1.6"/>
<circle cx="337.3" cy="42.6" r="1.6"/>
<circle cx="356.0" cy="42.6" r="1.6"/>
<circle cx="353.9" cy="47.3" r="1.6"/>
<circle cx="332.4" cy="50.8" r="1.6"/>
<circle cx="354.3" cy="52.2" r="1.6"/>
<circle cx="320.1" cy="58.2" r="1.6"/>
<circle cx="350.4" cy="60.4" r="1.6"/>
<circle cx="316.0" cy="97.5" r="1.6"/>
<circle cx="327.0" cy="71.0" r="1.6"/>
<circle cx="344.0" cy="64.5" r="1.6"/>
<circle cx="365.0" cy="68.0" r="1.6"/>
<circle cx="383.0" cy="74.0" r="1.6"/>
<circle cx="332.0" cy="76.5" r="1.6"/>
<circle cx="342.0" cy="57.5" r="1.6"/>
<circle cx="345.0" cy="68.0" r="1.6"/>
</g>
<g fill="#000" fill-opacity="0.58">
<circle cx="340.2" cy="106.6" r="1.6"/>
<circle cx="339.7" cy="97.8" r="1.6"/>
<circle cx="339.8" cy="107.8" r="1.6"/>
<circle cx="340.6" cy="99.8" r="1.6"/>
<circle cx="340.7" cy="105.0" r="1.6"/>
<circle cx="340.2" cy="105.3" r="1.6"/>
<circle cx="341.6" cy="97.2" r="1.6"/>
<circle cx="340.5" cy="99.0" r="1.6"/>
<circle cx="340.3" cy="102.9" r="1.6"/>
<circle cx="340.0" cy="95.1" r="1.6"/>
<circle cx="340.7" cy="109.9" r="1.6"/>
<circle cx="339.7" cy="120.1" r="1.6"/>
<circle cx="341.5" cy="113.7" r="1.6"/>
<circle cx="341.7" cy="109.9" r="1.6"/>
<circle cx="341.6" cy="97.7" r="1.6"/>
<circle cx="341.3" cy="115.3" r="1.6"/>
<circle cx="340.0" cy="96.9" r="1.6"/>
<circle cx="392.8" cy="104.6" r="1.6"/>
<circle cx="391.8" cy="113.2" r="1.6"/>
<circle cx="391.8" cy="111.0" r="1.6"/>
<circle cx="393.4" cy="120.8" r="1.6"/>
<circle cx="393.5" cy="95.8" r="1.6"/>
<circle cx="392.3" cy="115.7" r="1.6"/>
<circle cx="392.3" cy="89.1" r="1.6"/>
<circle cx="393.0" cy="89.1" r="1.6"/>
<circle cx="392.0" cy="101.1" r="1.6"/>
<circle cx="393.2" cy="92.3" r="1.6"/>
<circle cx="393.5" cy="101.1" r="1.6"/>
<circle cx="391.1" cy="112.4" r="1.6"/>
<circle cx="391.3" cy="119.1" r="1.6"/>
<circle cx="391.8" cy="110.3" r="1.6"/>
<circle cx="391.6" cy="105.2" r="1.6"/>
<circle cx="358.8" cy="119.7" r="1.6"/>
<circle cx="362.5" cy="120.4" r="1.6"/>
<circle cx="367.2" cy="120.6" r="1.6"/>
<circle cx="390.6" cy="121.0" r="1.6"/>
<circle cx="371.5" cy="119.5" r="1.6"/>
<circle cx="346.7" cy="119.8" r="1.6"/>
<circle cx="364.8" cy="120.5" r="1.6"/>
<circle cx="347.7" cy="120.0" r="1.6"/>
<circle cx="361.2" cy="119.9" r="1.6"/>
<circle cx="387.0" cy="120.4" r="1.6"/>
<circle cx="366.9" cy="120.7" r="1.6"/>
<circle cx="358.6" cy="120.3" r="1.6"/>
<circle cx="391.4" cy="120.1" r="1.6"/>
<circle cx="366.8" cy="119.8" r="1.6"/>
<circle cx="352.1" cy="121.3" r="1.6"/>
<circle cx="379.1" cy="121.3" r="1.6"/>
<circle cx="375.6" cy="120.2" r="1.6"/>
<circle cx="390.7" cy="119.7" r="1.6"/>
<circle cx="365.8" cy="94.6" r="1.6"/>
<circle cx="382.4" cy="90.5" r="1.6"/>
<circle cx="386.1" cy="83.3" r="1.6"/>
<circle cx="352.2" cy="91.8" r="1.6"/>
<circle cx="364.4" cy="92.7" r="1.6"/>
<circle cx="331.9" cy="72.6" r="1.6"/>
<circle cx="357.0" cy="91.7" r="1.6"/>
<circle cx="370.1" cy="94.7" r="1.6"/>
<circle cx="366.8" cy="94.1" r="1.6"/>
<circle cx="382.5" cy="83.3" r="1.6"/>
<circle cx="337.3" cy="83.6" r="1.6"/>
<circle cx="393.1" cy="90.7" r="1.6"/>
<circle cx="380.5" cy="80.5" r="1.6"/>
<circle cx="389.0" cy="87.6" r="1.6"/>
<circle cx="371.9" cy="94.0" r="1.6"/>
<circle cx="371.1" cy="87.2" r="1.6"/>
<circle cx="382.2" cy="93.1" r="1.6"/>
<circle cx="349.0" cy="94.2" r="1.6"/>
<circle cx="352.8" cy="87.9" r="1.6"/>
<circle cx="388.4" cy="94.9" r="1.6"/>
<circle cx="370.1" cy="94.9" r="1.6"/>
<circle cx="354.8" cy="93.7" r="1.6"/>
<circle cx="345.6" cy="93.1" r="1.6"/>
<circle cx="363.0" cy="75.1" r="1.6"/>
<circle cx="331.6" cy="80.0" r="1.6"/>
<circle cx="386.4" cy="84.0" r="1.6"/>
<circle cx="364.5" cy="87.2" r="1.6"/>
<circle cx="359.8" cy="90.0" r="1.6"/>
<circle cx="344.1" cy="89.8" r="1.6"/>
<circle cx="334.4" cy="88.9" r="1.6"/>
<circle cx="355.3" cy="89.0" r="1.6"/>
<circle cx="392.5" cy="93.2" r="1.6"/>
<circle cx="359.2" cy="94.4" r="1.6"/>
<circle cx="388.6" cy="89.1" r="1.6"/>
<circle cx="389.9" cy="90.2" r="1.6"/>
<circle cx="344.7" cy="76.3" r="1.6"/>
<circle cx="347.4" cy="76.6" r="1.6"/>
<circle cx="338.3" cy="82.6" r="1.6"/>
<circle cx="368.2" cy="78.0" r="1.6"/>
<circle cx="386.0" cy="80.4" r="1.6"/>
<circle cx="357.7" cy="91.4" r="1.6"/>
<circle cx="389.9" cy="90.8" r="1.6"/>
<circle cx="345.4" cy="83.8" r="1.6"/>
<circle cx="368.5" cy="65.4" r="1.6"/>
<circle cx="381.5" cy="92.3" r="1.6"/>
<circle cx="368.4" cy="80.6" r="1.6"/>
<circle cx="368.9" cy="71.2" r="1.6"/>
<circle cx="340.6" cy="88.7" r="1.6"/>
<circle cx="336.6" cy="73.7" r="1.6"/>
<circle cx="332.2" cy="64.4" r="1.6"/>
<circle cx="340.9" cy="72.5" r="1.6"/>
<circle cx="389.7" cy="75.3" r="1.6"/>
<circle cx="343.2" cy="78.5" r="1.6"/>
<circle cx="389.5" cy="91.4" r="1.6"/>
<circle cx="371.4" cy="74.2" r="1.6"/>
<circle cx="386.3" cy="92.1" r="1.6"/>
<circle cx="375.2" cy="68.8" r="1.6"/>
<circle cx="332.0" cy="72.1" r="1.6"/>
<circle cx="349.9" cy="84.8" r="1.6"/>
<circle cx="378.3" cy="82.8" r="1.6"/>
<circle cx="329.3" cy="69.8" r="1.6"/>
<circle cx="379.5" cy="81.1" r="1.6"/>
<circle cx="345.5" cy="87.2" r="1.6"/>
<circle cx="375.1" cy="74.2" r="1.6"/>
<circle cx="318.8" cy="67.3" r="1.6"/>
<circle cx="361.5" cy="88.5" r="1.6"/>
<circle cx="384.6" cy="90.3" r="1.6"/>
<circle cx="363.3" cy="91.0" r="1.6"/>
<circle cx="345.4" cy="90.4" r="1.6"/>
<circle cx="367.8" cy="64.0" r="1.6"/>
<circle cx="348.9" cy="73.0" r="1.6"/>
<circle cx="379.8" cy="83.9" r="1.6"/>
<circle cx="376.5" cy="83.7" r="1.6"/>
<circle cx="381.6" cy="73.3" r="1.6"/>
<circle cx="370.4" cy="86.4" r="1.6"/>
<circle cx="357.4" cy="83.2" r="1.6"/>
<circle cx="345.2" cy="71.3" r="1.6"/>
<circle cx="353.5" cy="65.3" r="1.6"/>
<circle cx="354.5" cy="69.5" r="1.6"/>
<circle cx="392.6" cy="91.0" r="1.6"/>
<circle cx="373.5" cy="83.3" r="1.6"/>
<circle cx="381.8" cy="88.8" r="1.6"/>
<circle cx="365.4" cy="90.3" r="1.6"/>
<circle cx="365.3" cy="91.9" r="1.6"/>
<circle cx="360.6" cy="92.7" r="1.6"/>
<circle cx="356.7" cy="91.8" r="1.6"/>
<circle cx="344.0" cy="91.1" r="1.6"/>
<circle cx="341.6" cy="90.7" r="1.6"/>
<circle cx="359.0" cy="93.4" r="1.6"/>
<circle cx="375.8" cy="87.1" r="1.6"/>
<circle cx="363.8" cy="88.5" r="1.6"/>
<circle cx="365.3" cy="92.8" r="1.6"/>
<circle cx="365.3" cy="90.3" r="1.6"/>
<circle cx="374.1" cy="88.8" r="1.6"/>
<circle cx="367.6" cy="90.5" r="1.6"/>
<circle cx="360.0" cy="91.4" r="1.6"/>
<circle cx="384.0" cy="89.7" r="1.6"/>
<circle cx="375.0" cy="87.8" r="1.6"/>
<circle cx="343.1" cy="91.9" r="1.6"/>
<circle cx="388.9" cy="87.3" r="1.6"/>
<circle cx="377.2" cy="88.7" r="1.6"/>
<circle cx="350.4" cy="95.1" r="1.6"/>
<circle cx="370.2" cy="91.5" r="1.6"/>
<circle cx="343.8" cy="92.7" r="1.6"/>
<circle cx="341.7" cy="94.0" r="1.6"/>
<circle cx="374.5" cy="91.3" r="1.6"/>
<circle cx="345.6" cy="90.7" r="1.6"/>
<circle cx="343.6" cy="91.5" r="1.6"/>
<circle cx="365.0" cy="88.1" r="1.6"/>
<circle cx="329.6" cy="93.7" r="1.6"/>
<circle cx="339.5" cy="114.0" r="1.6"/>
<circle cx="338.6" cy="104.0" r="1.6"/>
<circle cx="338.3" cy="115.3" r="1.6"/>
<circle cx="336.4" cy="99.1" r="1.6"/>
<circle cx="334.1" cy="102.2" r="1.6"/>
<circle cx="332.7" cy="108.7" r="1.6"/>
<circle cx="334.4" cy="119.0" r="1.6"/>
<circle cx="333.7" cy="110.8" r="1.6"/>
<circle cx="329.7" cy="101.1" r="1.6"/>
<circle cx="339.1" cy="116.3" r="1.6"/>
<circle cx="335.3" cy="93.6" r="1.6"/>
<circle cx="321.9" cy="6.7" r="1.6"/>
<circle cx="331.7" cy="32.8" r="1.6"/>
<circle cx="366.0" cy="39.8" r="1.6"/>
<circle cx="343.4" cy="40.6" r="1.6"/>
<circle cx="377.1" cy="45.0" r="1.6"/>
<circle cx="313.7" cy="48.2" r="1.6"/>
<circle cx="335.9" cy="51.7" r="1.6"/>
<circle cx="356.2" cy="56.1" r="1.6"/>
<circle cx="328.9" cy="58.7" r="1.6"/>
<circle cx="361.8" cy="63.4" r="1.6"/>
<circle cx="316.5" cy="99.5" r="1.6"/>
<circle cx="331.0" cy="69.5" r="1.6"/>
<circle cx="347.0" cy="62.5" r="1.6"/>
<circle cx="369.0" cy="66.0" r="1.6"/>
<circle cx="388.0" cy="78.5" r="1.6"/>
<circle cx="336.0" cy="78.0" r="1.6"/>
<circle cx="325.0" cy="64.0" r="1.6"/>
<circle cx="360.0" cy="70.5" r="1.6"/>
</g>
<polygon points="441.7,100.5 445.2,95.6 450.0,91.8 460.0,91.5 465.0,93.5 468.0,98.0 472.0,101.5 477.0,105.5 484.0,109.5 490.3,112.0 490.3,121.5 441.7,121.5" fill="#F8806F" />
<g fill="#F8806F">
<circle cx="447.6" cy="83.2" r="1.6"/>
<circle cx="444.8" cy="90.4" r="1.6"/>
<circle cx="474.7" cy="104.0" r="1.6"/>
<circle cx="465.4" cy="94.1" r="1.6"/>
<circle cx="454.6" cy="92.0" r="1.6"/>
<circle cx="459.8" cy="78.4" r="1.6"/>
<circle cx="490.9" cy="105.2" r="1.6"/>
<circle cx="446.8" cy="94.3" r="1.6"/>
<circle cx="485.9" cy="111.1" r="1.6"/>
<circle cx="477.6" cy="105.8" r="1.6"/>
<circle cx="490.0" cy="112.8" r="1.6"/>
<circle cx="481.5" cy="107.8" r="1.6"/>
<circle cx="448.9" cy="93.7" r="1.6"/>
<circle cx="482.8" cy="107.6" r="1.6"/>
<circle cx="451.1" cy="91.1" r="1.6"/>
<circle cx="486.7" cy="110.8" r="1.6"/>
<circle cx="470.0" cy="100.3" r="1.6"/>
<circle cx="450.8" cy="88.4" r="1.6"/>
<circle cx="476.9" cy="105.7" r="1.6"/>
<circle cx="445.9" cy="95.8" r="1.6"/>
<circle cx="471.8" cy="100.3" r="1.6"/>
<circle cx="455.4" cy="91.9" r="1.6"/>
<circle cx="472.0" cy="98.8" r="1.6"/>
<circle cx="481.8" cy="106.6" r="1.6"/>
<circle cx="451.9" cy="92.5" r="1.6"/>
<circle cx="477.9" cy="105.4" r="1.6"/>
<circle cx="477.4" cy="106.5" r="1.6"/>
<circle cx="481.7" cy="108.0" r="1.6"/>
<circle cx="483.3" cy="104.1" r="1.6"/>
<circle cx="466.2" cy="96.2" r="1.6"/>
<circle cx="486.6" cy="109.6" r="1.6"/>
<circle cx="484.7" cy="109.9" r="1.6"/>
<circle cx="451.1" cy="87.4" r="1.6"/>
<circle cx="460.0" cy="92.0" r="1.6"/>
<circle cx="460.2" cy="89.9" r="1.6"/>
<circle cx="442.2" cy="98.6" r="1.6"/>
<circle cx="463.8" cy="91.9" r="1.6"/>
<circle cx="447.9" cy="90.7" r="1.6"/>
<circle cx="482.0" cy="103.3" r="1.6"/>
<circle cx="457.7" cy="88.8" r="1.6"/>
<circle cx="460.7" cy="88.6" r="1.6"/>
<circle cx="445.0" cy="90.7" r="1.6"/>
<circle cx="488.7" cy="110.3" r="1.6"/>
<circle cx="467.2" cy="95.5" r="1.6"/>
<circle cx="468.3" cy="99.2" r="1.6"/>
<circle cx="489.4" cy="111.9" r="1.6"/>
<circle cx="450.9" cy="92.4" r="1.6"/>
<circle cx="454.3" cy="87.6" r="1.6"/>
<circle cx="443.5" cy="98.7" r="1.6"/>
<circle cx="476.2" cy="105.2" r="1.6"/>
<circle cx="442.9" cy="97.1" r="1.6"/>
<circle cx="470.2" cy="98.7" r="1.6"/>
<circle cx="476.4" cy="105.7" r="1.6"/>
<circle cx="484.6" cy="107.0" r="1.6"/>
<circle cx="444.2" cy="97.6" r="1.6"/>
<circle cx="466.2" cy="94.2" r="1.6"/>
<circle cx="455.7" cy="92.2" r="1.6"/>
<circle cx="461.9" cy="92.8" r="1.6"/>
<circle cx="471.0" cy="95.7" r="1.6"/>
<circle cx="449.2" cy="90.9" r="1.6"/>
<circle cx="478.6" cy="106.9" r="1.6"/>
<circle cx="482.5" cy="101.3" r="1.6"/>
<circle cx="461.0" cy="91.3" r="1.6"/>
<circle cx="483.1" cy="107.8" r="1.6"/>
<circle cx="461.4" cy="84.5" r="1.6"/>
<circle cx="480.1" cy="107.0" r="1.6"/>
<circle cx="453.8" cy="91.5" r="1.6"/>
<circle cx="463.3" cy="81.9" r="1.6"/>
<circle cx="481.4" cy="101.7" r="1.6"/>
<circle cx="481.9" cy="103.7" r="1.6"/>
<circle cx="444.6" cy="95.2" r="1.6"/>
<circle cx="488.9" cy="104.3" r="1.6"/>
<circle cx="454.2" cy="91.0" r="1.6"/>
<circle cx="473.0" cy="101.9" r="1.6"/>
<circle cx="468.0" cy="98.8" r="1.6"/>
<circle cx="463.2" cy="91.7" r="1.6"/>
<circle cx="443.0" cy="99.2" r="1.6"/>
<circle cx="489.5" cy="108.2" r="1.6"/>
<circle cx="487.9" cy="109.0" r="1.6"/>
<circle cx="481.7" cy="102.7" r="1.6"/>
<circle cx="485.3" cy="110.9" r="1.6"/>
<circle cx="473.4" cy="102.7" r="1.6"/>
<circle cx="475.2" cy="104.1" r="1.6"/>
<circle cx="468.6" cy="91.8" r="1.6"/>
<circle cx="472.4" cy="102.0" r="1.6"/>
<circle cx="467.5" cy="96.5" r="1.6"/>
<circle cx="488.6" cy="111.3" r="1.6"/>
<circle cx="457.0" cy="89.5" r="1.6"/>
<circle cx="447.9" cy="91.8" r="1.6"/>
<circle cx="488.8" cy="110.3" r="1.6"/>
<circle cx="455.2" cy="90.8" r="1.6"/>
<circle cx="468.2" cy="98.7" r="1.6"/>
<circle cx="448.1" cy="93.9" r="1.6"/>
<circle cx="456.4" cy="91.0" r="1.6"/>
<circle cx="456.1" cy="91.8" r="1.6"/>
<circle cx="446.3" cy="93.4" r="1.6"/>
<circle cx="483.1" cy="107.2" r="1.6"/>
<circle cx="469.9" cy="97.5" r="1.6"/>
<circle cx="451.9" cy="89.0" r="1.6"/>
<circle cx="464.6" cy="92.0" r="1.6"/>
<circle cx="472.0" cy="100.6" r="1.6"/>
<circle cx="457.2" cy="91.8" r="1.6"/>
<circle cx="452.9" cy="90.6" r="1.6"/>
<circle cx="460.8" cy="90.2" r="1.6"/>
<circle cx="442.6" cy="99.0" r="1.6"/>
<circle cx="484.2" cy="109.8" r="1.6"/>
<circle cx="469.3" cy="98.1" r="1.6"/>
<circle cx="456.0" cy="79.5" r="1.6"/>
<circle cx="456.5" cy="88.2" r="1.6"/>
<circle cx="449.8" cy="92.8" r="1.6"/>
<circle cx="484.7" cy="109.0" r="1.6"/>
<circle cx="445.0" cy="95.4" r="1.6"/>
<circle cx="463.6" cy="89.9" r="1.6"/>
<circle cx="447.4" cy="94.1" r="1.6"/>
<circle cx="489.0" cy="108.5" r="1.6"/>
<circle cx="449.6" cy="91.9" r="1.6"/>
<circle cx="459.3" cy="89.1" r="1.6"/>
<circle cx="472.2" cy="97.0" r="1.6"/>
<circle cx="482.2" cy="107.3" r="1.6"/>
<circle cx="478.2" cy="103.1" r="1.6"/>
<circle cx="479.2" cy="105.8" r="1.6"/>
<circle cx="480.5" cy="104.8" r="1.6"/>
<circle cx="486.8" cy="111.2" r="1.6"/>
<circle cx="484.7" cy="110.8" r="1.6"/>
<circle cx="479.5" cy="105.3" r="1.6"/>
<circle cx="466.4" cy="86.7" r="1.6"/>
<circle cx="470.0" cy="99.1" r="1.6"/>
<circle cx="480.4" cy="102.3" r="1.6"/>
<circle cx="471.8" cy="100.9" r="1.6"/>
<circle cx="464.2" cy="92.3" r="1.6"/>
<circle cx="477.4" cy="105.7" r="1.6"/>
<circle cx="461.1" cy="90.5" r="1.6"/>
<circle cx="460.8" cy="91.7" r="1.6"/>
<circle cx="480.6" cy="102.9" r="1.6"/>
<circle cx="466.5" cy="95.0" r="1.6"/>
<circle cx="451.0" cy="91.7" r="1.6"/>
<circle cx="449.1" cy="90.9" r="1.6"/>
<circle cx="470.5" cy="100.9" r="1.6"/>
<circle cx="487.1" cy="110.6" r="1.6"/>
<circle cx="483.3" cy="104.7" r="1.6"/>
<circle cx="489.0" cy="111.8" r="1.6"/>
<circle cx="462.9" cy="86.4" r="1.6"/>
<circle cx="442.5" cy="100.2" r="1.6"/>
<circle cx="469.7" cy="98.4" r="1.6"/>
<circle cx="487.1" cy="107.3" r="1.6"/>
<circle cx="468.4" cy="80.2" r="1.6"/>
<circle cx="467.4" cy="95.8" r="1.6"/>
<circle cx="475.6" cy="103.9" r="1.6"/>
<circle cx="459.5" cy="89.8" r="1.6"/>
<circle cx="459.2" cy="83.7" r="1.6"/>
<circle cx="475.1" cy="102.8" r="1.6"/>
<circle cx="446.8" cy="93.9" r="1.6"/>
<circle cx="461.6" cy="90.7" r="1.6"/>
<circle cx="470.1" cy="94.5" r="1.6"/>
<circle cx="489.3" cy="110.6" r="1.6"/>
<circle cx="463.6" cy="91.0" r="1.6"/>
<circle cx="490.8" cy="111.7" r="1.6"/>
<circle cx="468.0" cy="93.9" r="1.6"/>
<circle cx="450.4" cy="91.6" r="1.6"/>
<circle cx="489.9" cy="107.6" r="1.6"/>
<circle cx="441.8" cy="101.4" r="1.6"/>
<circle cx="442.7" cy="114.2" r="1.6"/>
<circle cx="442.6" cy="120.8" r="1.6"/>
<circle cx="442.7" cy="108.3" r="1.6"/>
<circle cx="440.9" cy="105.4" r="1.6"/>
<circle cx="441.8" cy="110.1" r="1.6"/>
<circle cx="441.0" cy="103.0" r="1.6"/>
<circle cx="442.1" cy="112.3" r="1.6"/>
<circle cx="441.4" cy="120.9" r="1.6"/>
<circle cx="442.1" cy="99.9" r="1.6"/>
<circle cx="441.5" cy="116.3" r="1.6"/>
<circle cx="441.3" cy="114.2" r="1.6"/>
<circle cx="440.5" cy="105.7" r="1.6"/>
<circle cx="442.6" cy="111.9" r="1.6"/>
<circle cx="442.2" cy="103.3" r="1.6"/>
<circle cx="441.7" cy="111.2" r="1.6"/>
<circle cx="441.2" cy="113.2" r="1.6"/>
<circle cx="441.8" cy="120.9" r="1.6"/>
<circle cx="441.9" cy="108.0" r="1.6"/>
<circle cx="440.8" cy="102.4" r="1.6"/>
<circle cx="442.4" cy="101.3" r="1.6"/>
<circle cx="440.8" cy="102.8" r="1.6"/>
<circle cx="441.8" cy="117.1" r="1.6"/>
<circle cx="442.0" cy="116.7" r="1.6"/>
<circle cx="440.7" cy="99.3" r="1.6"/>
<circle cx="442.4" cy="106.1" r="1.6"/>
<circle cx="442.3" cy="106.8" r="1.6"/>
<circle cx="440.9" cy="104.9" r="1.6"/>
<circle cx="440.7" cy="118.9" r="1.6"/>
<circle cx="442.0" cy="106.7" r="1.6"/>
<circle cx="441.6" cy="107.5" r="1.6"/>
<circle cx="440.6" cy="118.6" r="1.6"/>
<circle cx="442.0" cy="120.1" r="1.6"/>
<circle cx="441.6" cy="112.6" r="1.6"/>
<circle cx="441.1" cy="100.0" r="1.6"/>
<circle cx="442.8" cy="117.8" r="1.6"/>
<circle cx="441.3" cy="118.8" r="1.6"/>
<circle cx="442.5" cy="105.7" r="1.6"/>
<circle cx="442.0" cy="120.1" r="1.6"/>
<circle cx="441.7" cy="119.9" r="1.6"/>
<circle cx="489.6" cy="114.9" r="1.6"/>
<circle cx="490.8" cy="113.2" r="1.6"/>
<circle cx="489.8" cy="119.8" r="1.6"/>
<circle cx="490.2" cy="118.9" r="1.6"/>
<circle cx="489.6" cy="112.7" r="1.6"/>
<circle cx="489.9" cy="112.9" r="1.6"/>
<circle cx="491.4" cy="113.9" r="1.6"/>
<circle cx="490.4" cy="112.1" r="1.6"/>
<circle cx="490.3" cy="114.9" r="1.6"/>
<circle cx="490.0" cy="111.7" r="1.6"/>
<circle cx="489.3" cy="119.3" r="1.6"/>
<circle cx="489.9" cy="113.4" r="1.6"/>
<circle cx="489.5" cy="113.8" r="1.6"/>
<circle cx="489.6" cy="111.3" r="1.6"/>
<circle cx="490.7" cy="114.4" r="1.6"/>
<circle cx="489.4" cy="118.1" r="1.6"/>
<circle cx="489.2" cy="113.7" r="1.6"/>
<circle cx="491.1" cy="112.3" r="1.6"/>
<circle cx="490.1" cy="119.4" r="1.6"/>
<circle cx="491.0" cy="112.6" r="1.6"/>
<circle cx="489.9" cy="118.2" r="1.6"/>
<circle cx="489.9" cy="120.6" r="1.6"/>
<circle cx="489.5" cy="120.5" r="1.6"/>
<circle cx="490.3" cy="113.3" r="1.6"/>
<circle cx="490.1" cy="112.3" r="1.6"/>
<circle cx="490.8" cy="113.6" r="1.6"/>
<circle cx="491.2" cy="116.9" r="1.6"/>
<circle cx="489.9" cy="113.5" r="1.6"/>
<circle cx="490.5" cy="113.1" r="1.6"/>
<circle cx="491.2" cy="112.2" r="1.6"/>
<circle cx="490.3" cy="116.4" r="1.6"/>
<circle cx="489.7" cy="118.7" r="1.6"/>
<circle cx="490.0" cy="117.6" r="1.6"/>
<circle cx="490.4" cy="114.1" r="1.6"/>
<circle cx="490.0" cy="111.9" r="1.6"/>
<circle cx="489.4" cy="119.5" r="1.6"/>
<circle cx="489.8" cy="117.6" r="1.6"/>
<circle cx="489.3" cy="116.6" r="1.6"/>
<circle cx="489.9" cy="116.0" r="1.6"/>
<circle cx="489.7" cy="111.7" r="1.6"/>
<circle cx="473.4" cy="75.3" r="1.6"/>
<circle cx="446.4" cy="80.0" r="1.6"/>
<circle cx="454.0" cy="77.5" r="1.6"/>
<circle cx="454.0" cy="80.5" r="1.6"/>
<circle cx="458.6" cy="82.1" r="1.6"/>
<circle cx="451.5" cy="84.7" r="1.6"/>
<circle cx="466.2" cy="80.5" r="1.6"/>
<circle cx="471.0" cy="83.0" r="1.6"/>
<circle cx="471.6" cy="86.5" r="1.6"/>
<circle cx="475.7" cy="86.8" r="1.6"/>
<circle cx="459.0" cy="85.0" r="1.6"/>
<circle cx="474.3" cy="91.7" r="1.6"/>
<circle cx="476.5" cy="93.5" r="1.6"/>
<circle cx="444.0" cy="91.0" r="1.6"/>
<circle cx="447.0" cy="92.0" r="1.6"/>
<circle cx="477.4" cy="98.5" r="1.6"/>
<circle cx="482.6" cy="98.5" r="1.6"/>
<circle cx="478.8" cy="102.5" r="1.6"/>
<circle cx="483.7" cy="104.8" r="1.6"/>
<circle cx="486.0" cy="108.0" r="1.6"/>
<circle cx="493.7" cy="107.5" r="1.6"/>
<circle cx="494.3" cy="105.5" r="1.6"/>
<circle cx="498.0" cy="108.0" r="1.6"/>
<circle cx="493.0" cy="111.3" r="1.6"/>
<circle cx="490.0" cy="113.0" r="1.6"/>
<circle cx="463.0" cy="88.0" r="1.6"/>
<circle cx="456.0" cy="87.5" r="1.6"/>
<circle cx="468.5" cy="90.0" r="1.6"/>
</g>
<line x1="282.70" y1="1.00" x2="282.70" y2="133.40" stroke="#222" stroke-width="1.3" />
<line x1="282.10" y1="133.40" x2="551.40" y2="133.40" stroke="#222" stroke-width="1.3" />
<line x1="283.00" y1="123.00" x2="551.40" y2="123.00" stroke="#222" stroke-width="1.35" stroke-dasharray="4,2.6,1.6,2.6"/>
<text x="280.80" y="7.70" font-size="8.8" text-anchor="end" fill="#333" >40</text>
<text x="280.80" y="38.00" font-size="8.8" text-anchor="end" fill="#333" >30</text>
<text x="280.80" y="68.30" font-size="8.8" text-anchor="end" fill="#333" >20</text>
<text x="280.80" y="98.60" font-size="8.8" text-anchor="end" fill="#333" >10</text>
<text x="280.80" y="128.90" font-size="8.8" text-anchor="end" fill="#333" >0</text>
<text x="295.30" y="142.40" font-size="8.8" text-anchor="middle" fill="#333" >−5</text>
<text x="353.60" y="142.40" font-size="8.8" text-anchor="middle" fill="#333" >−2.5</text>
<text x="417.60" y="142.40" font-size="8.8" text-anchor="middle" fill="#333" >0</text>
<text x="481.30" y="142.40" font-size="8.8" text-anchor="middle" fill="#333" >2.5</text>
<text x="539.70" y="142.40" font-size="8.8" text-anchor="middle" fill="#333" >5</text>
<text x="417.3" y="153" font-size="9" text-anchor="middle" fill="#333">log<tspan font-size="6" dy="2">2</tspan><tspan dy="-2">fold change (old/young)</tspan></text>
<text font-size="9" text-anchor="middle" fill="#333" transform="translate(265.2 66) rotate(-90)">−log<tspan font-size="6" dy="2">10</tspan><tspan dy="-2">(FDR)</tspan></text>
<text x="441.60" y="7.80" font-size="9" text-anchor="end" fill="#222" >(FDR&lt;0.05)</text>
<text x="319.80" y="25.00" font-size="9" text-anchor="start" fill="#222" >n=13592</text>
<text x="474.80" y="25.00" font-size="9" text-anchor="start" fill="#222" >n=16315</text>
<circle cx="288.30" cy="4.90" r="3.10" fill="#444" />
<text x="294.80" y="8.00" font-size="9" text-anchor="start" fill="#222" >hypo</text>
<circle cx="288.30" cy="16.60" r="3.10" fill="#CCCCCC" />
<text x="294.80" y="19.70" font-size="9" text-anchor="start" fill="#222" >N/S</text>
<circle cx="288.30" cy="28.10" r="3.10" fill="#F9A3A0" />
<text x="294.80" y="31.20" font-size="9" text-anchor="start" fill="#222" >hyper</text>
<text x="0.20" y="173.00" font-size="20" text-anchor="start" fill="#111" >C</text>
<clipPath id="clipC1"><rect x="30.3" y="173.2" width="164.5" height="132.4"/></clipPath>
<g clip-path="url(#clipC1)">
<polyline points="29.8,290.0 31.5,290.0 31.5,290.3 33.1,290.3 33.1,290.2 34.8,290.2 34.8,290.3 36.4,290.3 36.4,290.3 38.1,290.3 38.1,290.1 39.7,290.1 39.7,290.2 41.4,290.2 41.4,290.4 43.0,290.4 43.0,290.1 44.7,290.1 44.7,290.1 46.4,290.1 46.4,290.0 48.0,290.0 48.0,289.6 49.7,289.6 49.7,289.7 51.3,289.7 51.3,289.8 53.0,289.8 53.0,289.9 54.6,289.9 54.6,289.9 56.3,289.9 56.3,289.7 57.9,289.7 57.9,289.8 59.6,289.8 59.6,289.6 61.2,289.6 61.2,289.4 62.9,289.4 62.9,289.1 64.6,289.1 64.6,288.8 66.2,288.8 66.2,288.6 67.9,288.6 67.9,288.4 69.5,288.4 69.5,288.2 71.2,288.2 71.2,288.1 72.8,288.1 72.8,288.2 74.5,288.2 74.5,288.2 76.1,288.2 76.1,288.2 77.8,288.2 77.8,288.4 79.5,288.4 79.5,288.7 81.1,288.7 81.1,288.9 82.8,288.9 82.8,289.2 84.4,289.2 84.4,289.4 86.1,289.4 86.1,289.6 87.7,289.6 87.7,289.9 89.4,289.9 89.4,289.8 91.0,289.8 91.0,289.5 92.7,289.5 92.7,289.1 94.3,289.1 94.3,288.5 96.0,288.5 96.0,287.7 97.7,287.7 97.7,286.8 99.3,286.8 99.3,286.5 101.0,286.5 101.0,286.8 102.6,286.8 102.6,287.5 104.3,287.5 104.3,288.1 105.9,288.1 105.9,289.0 107.6,289.0 107.6,290.3 109.2,290.3 109.2,291.1 110.9,291.1 110.9,291.5 112.5,291.5 112.5,291.4 114.2,291.4 114.2,290.9 115.9,290.9 115.9,290.4 117.5,290.4 117.5,289.5 119.2,289.5 119.2,288.7 120.8,288.7 120.8,287.8 122.5,287.8 122.5,287.1 124.1,287.1 124.1,287.1 125.8,287.1 125.8,287.5 127.4,287.5 127.4,288.1 129.1,288.1 129.1,288.9 130.8,288.9 130.8,289.3 132.4,289.3 132.4,289.9 134.1,289.9 134.1,290.4 135.7,290.4 135.7,290.6 137.4,290.6 137.4,290.6 139.0,290.6 139.0,290.4 140.7,290.4 140.7,291.4 142.3,291.4 142.3,291.1 144.0,291.1 144.0,290.9 145.7,290.9 145.7,290.6 147.3,290.6 147.3,290.2 149.0,290.2 149.0,290.2 150.6,290.2 150.6,290.3 152.3,290.3 152.3,290.4 153.9,290.4 153.9,290.5 155.6,290.5 155.6,290.7 157.2,290.7 157.2,290.8 158.9,290.8 158.9,290.9 160.5,290.9 160.5,291.0 162.2,291.0 162.2,291.0 163.9,291.0 163.9,290.9 165.5,290.9 165.5,291.0 167.2,291.0 167.2,291.0 168.8,291.0 168.8,291.1 170.5,291.1 170.5,291.2 172.1,291.2 172.1,291.2 173.8,291.2 173.8,291.2 175.4,291.2 175.4,291.3 177.1,291.3 177.1,291.2 178.8,291.2 178.8,291.3 180.4,291.3 180.4,291.2 182.1,291.2 182.1,291.0 183.7,291.0 183.7,291.0 185.4,291.0 185.4,291.1 187.0,291.1 187.0,291.1 188.7,291.1 188.7,291.0 190.3,291.0 190.3,291.0 192.0,291.0 192.0,291.1 193.6,291.1 193.6,291.1 195.3,291.1" fill="none" stroke="#CCCCCC" stroke-width="1.4" stroke-linejoin="round" stroke-linejoin="miter"/>
<polyline points="29.8,290.6 31.5,290.6 31.5,290.8 33.1,290.8 33.1,291.0 34.8,291.0 34.8,291.0 36.4,291.0 36.4,290.7 38.1,290.7 38.1,290.8 39.7,290.8 39.7,291.0 41.4,291.0 41.4,291.1 43.0,291.1 43.0,290.9 44.7,290.9 44.7,290.9 46.4,290.9 46.4,290.9 48.0,290.9 48.0,291.0 49.7,291.0 49.7,290.8 51.3,290.8 51.3,290.7 53.0,290.7 53.0,290.5 54.6,290.5 54.6,290.6 56.3,290.6 56.3,290.3 57.9,290.3 57.9,290.2 59.6,290.2 59.6,290.1 61.2,290.1 61.2,290.1 62.9,290.1 62.9,289.8 64.6,289.8 64.6,289.8 66.2,289.8 66.2,289.4 67.9,289.4 67.9,289.2 69.5,289.2 69.5,288.9 71.2,288.9 71.2,288.6 72.8,288.6 72.8,288.8 74.5,288.8 74.5,288.9 76.1,288.9 76.1,289.1 77.8,289.1 77.8,289.2 79.5,289.2 79.5,289.6 81.1,289.6 81.1,289.9 82.8,289.9 82.8,290.2 84.4,290.2 84.4,290.3 86.1,290.3 86.1,290.5 87.7,290.5 87.7,290.5 89.4,290.5 89.4,290.3 91.0,290.3 91.0,290.2 92.7,290.2 92.7,289.8 94.3,289.8 94.3,289.4 96.0,289.4 96.0,288.7 97.7,288.7 97.7,288.1 99.3,288.1 99.3,287.6 101.0,287.6 101.0,287.9 102.6,287.9 102.6,288.5 104.3,288.5 104.3,289.6 105.9,289.6 105.9,290.2 107.6,290.2 107.6,291.2 109.2,291.2 109.2,292.1 110.9,292.1 110.9,292.6 112.5,292.6 112.5,292.8 114.2,292.8 114.2,292.2 115.9,292.2 115.9,291.1 117.5,291.1 117.5,290.3 119.2,290.3 119.2,289.0 120.8,289.0 120.8,288.0 122.5,288.0 122.5,287.5 124.1,287.5 124.1,287.7 125.8,287.7 125.8,288.3 127.4,288.3 127.4,289.1 129.1,289.1 129.1,290.1 130.8,290.1 130.8,290.9 132.4,290.9 132.4,291.3 134.1,291.3 134.1,291.2 135.7,291.2 135.7,291.1 137.4,291.1 137.4,291.0 139.0,291.0 139.0,290.9 140.7,290.9 140.7,291.7 142.3,291.7 142.3,291.7 144.0,291.7 144.0,291.5 145.7,291.5 145.7,291.6 147.3,291.6 147.3,291.3 149.0,291.3 149.0,291.2 150.6,291.2 150.6,291.1 152.3,291.1 152.3,291.0 153.9,291.0 153.9,290.8 155.6,290.8 155.6,291.0 157.2,291.0 157.2,291.1 158.9,291.1 158.9,291.4 160.5,291.4 160.5,291.6 162.2,291.6 162.2,291.5 163.9,291.5 163.9,292.0 165.5,292.0 165.5,292.5 167.2,292.5 167.2,292.3 168.8,292.3 168.8,292.1 170.5,292.1 170.5,292.1 172.1,292.1 172.1,291.9 173.8,291.9 173.8,292.2 175.4,292.2 175.4,292.1 177.1,292.1 177.1,291.8 178.8,291.8 178.8,291.9 180.4,291.9 180.4,292.1 182.1,292.1 182.1,291.9 183.7,291.9 183.7,291.9 185.4,291.9 185.4,291.8 187.0,291.8 187.0,291.9 188.7,291.9 188.7,291.9 190.3,291.9 190.3,292.0 192.0,292.0 192.0,291.9 193.6,291.9 193.6,292.0 195.3,292.0" fill="none" stroke="#969696" stroke-width="1.4" stroke-linejoin="round" stroke-linejoin="miter"/>
<polyline points="29.8,293.9 31.5,293.9 31.5,294.0 33.1,294.0 33.1,293.9 34.8,293.9 34.8,294.4 36.4,294.4 36.4,294.4 38.1,294.4 38.1,294.4 39.7,294.4 39.7,294.7 41.4,294.7 41.4,294.8 43.0,294.8 43.0,294.8 44.7,294.8 44.7,295.1 46.4,295.1 46.4,295.1 48.0,295.1 48.0,295.2 49.7,295.2 49.7,295.0 51.3,295.0 51.3,294.9 53.0,294.9 53.0,294.7 54.6,294.7 54.6,294.5 56.3,294.5 56.3,294.0 57.9,294.0 57.9,294.0 59.6,294.0 59.6,293.6 61.2,293.6 61.2,293.7 62.9,293.7 62.9,293.2 64.6,293.2 64.6,293.1 66.2,293.1 66.2,293.0 67.9,293.0 67.9,293.1 69.5,293.1 69.5,292.9 71.2,292.9 71.2,292.8 72.8,292.8 72.8,292.8 74.5,292.8 74.5,292.8 76.1,292.8 76.1,292.7 77.8,292.7 77.8,292.9 79.5,292.9 79.5,292.8 81.1,292.8 81.1,292.8 82.8,292.8 82.8,293.3 84.4,293.3 84.4,293.4 86.1,293.4 86.1,293.6 87.7,293.6 87.7,293.8 89.4,293.8 89.4,293.4 91.0,293.4 91.0,293.3 92.7,293.3 92.7,293.2 94.3,293.2 94.3,292.5 96.0,292.5 96.0,291.7 97.7,291.7 97.7,291.1 99.3,291.1 99.3,290.7 101.0,290.7 101.0,291.2 102.6,291.2 102.6,292.1 104.3,292.1 104.3,292.8 105.9,292.8 105.9,293.9 107.6,293.9 107.6,294.6 109.2,294.6 109.2,295.7 110.9,295.7 110.9,296.3 112.5,296.3 112.5,296.3 114.2,296.3 114.2,295.7 115.9,295.7 115.9,294.6 117.5,294.6 117.5,293.3 119.2,293.3 119.2,292.5 120.8,292.5 120.8,291.3 122.5,291.3 122.5,290.9 124.1,290.9 124.1,290.6 125.8,290.6 125.8,290.7 127.4,290.7 127.4,291.9 129.1,291.9 129.1,292.9 130.8,292.9 130.8,293.4 132.4,293.4 132.4,293.9 134.1,293.9 134.1,293.9 135.7,293.9 135.7,294.2 137.4,294.2 137.4,294.4 139.0,294.4 139.0,294.3 140.7,294.3 140.7,295.3 142.3,295.3 142.3,295.2 144.0,295.2 144.0,295.2 145.7,295.2 145.7,295.2 147.3,295.2 147.3,295.1 149.0,295.1 149.0,295.1 150.6,295.1 150.6,295.0 152.3,295.0 152.3,295.1 153.9,295.1 153.9,295.2 155.6,295.2 155.6,295.5 157.2,295.5 157.2,295.2 158.9,295.2 158.9,295.2 160.5,295.2 160.5,295.3 162.2,295.3 162.2,295.2 163.9,295.2 163.9,295.4 165.5,295.4 165.5,295.6 167.2,295.6 167.2,295.5 168.8,295.5 168.8,295.5 170.5,295.5 170.5,295.6 172.1,295.6 172.1,295.8 173.8,295.8 173.8,295.8 175.4,295.8 175.4,295.8 177.1,295.8 177.1,295.7 178.8,295.7 178.8,295.7 180.4,295.7 180.4,296.1 182.1,296.1 182.1,296.3 183.7,296.3 183.7,296.3 185.4,296.3 185.4,296.2 187.0,296.2 187.0,296.1 188.7,296.1 188.7,296.1 190.3,296.1 190.3,296.2 192.0,296.2 192.0,295.9 193.6,295.9 193.6,295.5 195.3,295.5" fill="none" stroke="#636363" stroke-width="1.4" stroke-linejoin="round" stroke-linejoin="miter"/>
<polyline points="29.8,298.0 31.5,298.0 31.5,298.3 33.1,298.3 33.1,298.1 34.8,298.1 34.8,298.0 36.4,298.0 36.4,298.0 38.1,298.0 38.1,297.7 39.7,297.7 39.7,297.6 41.4,297.6 41.4,297.6 43.0,297.6 43.0,297.6 44.7,297.6 44.7,297.7 46.4,297.7 46.4,298.0 48.0,298.0 48.0,298.1 49.7,298.1 49.7,298.2 51.3,298.2 51.3,298.2 53.0,298.2 53.0,298.1 54.6,298.1 54.6,298.1 56.3,298.1 56.3,298.0 57.9,298.0 57.9,297.8 59.6,297.8 59.6,297.6 61.2,297.6 61.2,297.4 62.9,297.4 62.9,297.2 64.6,297.2 64.6,297.2 66.2,297.2 66.2,297.0 67.9,297.0 67.9,296.9 69.5,296.9 69.5,296.7 71.2,296.7 71.2,296.7 72.8,296.7 72.8,296.9 74.5,296.9 74.5,296.9 76.1,296.9 76.1,297.0 77.8,297.0 77.8,297.1 79.5,297.1 79.5,297.3 81.1,297.3 81.1,297.5 82.8,297.5 82.8,297.7 84.4,297.7 84.4,297.5 86.1,297.5 86.1,297.6 87.7,297.6 87.7,297.7 89.4,297.7 89.4,297.5 91.0,297.5 91.0,297.2 92.7,297.2 92.7,296.6 94.3,296.6 94.3,296.0 96.0,296.0 96.0,295.5 97.7,295.5 97.7,294.9 99.3,294.9 99.3,294.6 101.0,294.6 101.0,294.7 102.6,294.7 102.6,295.5 104.3,295.5 104.3,296.4 105.9,296.4 105.9,297.5 107.6,297.5 107.6,298.5 109.2,298.5 109.2,299.2 110.9,299.2 110.9,299.6 112.5,299.6 112.5,299.6 114.2,299.6 114.2,299.2 115.9,299.2 115.9,298.3 117.5,298.3 117.5,297.4 119.2,297.4 119.2,296.4 120.8,296.4 120.8,295.6 122.5,295.6 122.5,295.3 124.1,295.3 124.1,295.4 125.8,295.4 125.8,295.5 127.4,295.5 127.4,296.0 129.1,296.0 129.1,296.6 130.8,296.6 130.8,296.9 132.4,296.9 132.4,297.0 134.1,297.0 134.1,297.0 135.7,297.0 135.7,297.0 137.4,297.0 137.4,297.4 139.0,297.4 139.0,297.6 140.7,297.6 140.7,299.0 142.3,299.0 142.3,299.3 144.0,299.3 144.0,299.5 145.7,299.5 145.7,299.5 147.3,299.5 147.3,299.4 149.0,299.4 149.0,298.9 150.6,298.9 150.6,299.0 152.3,299.0 152.3,298.7 153.9,298.7 153.9,298.4 155.6,298.4 155.6,298.4 157.2,298.4 157.2,298.5 158.9,298.5 158.9,298.2 160.5,298.2 160.5,298.5 162.2,298.5 162.2,298.6 163.9,298.6 163.9,298.6 165.5,298.6 165.5,298.8 167.2,298.8 167.2,298.8 168.8,298.8 168.8,299.1 170.5,299.1 170.5,299.4 172.1,299.4 172.1,299.3 173.8,299.3 173.8,299.2 175.4,299.2 175.4,299.2 177.1,299.2 177.1,299.2 178.8,299.2 178.8,299.3 180.4,299.3 180.4,298.9 182.1,298.9 182.1,298.8 183.7,298.8 183.7,299.0 185.4,299.0 185.4,299.2 187.0,299.2 187.0,299.4 188.7,299.4 188.7,299.4 190.3,299.4 190.3,299.5 192.0,299.5 192.0,299.7 193.6,299.7 193.6,299.9 195.3,299.9" fill="none" stroke="#252525" stroke-width="1.4" stroke-linejoin="round" stroke-linejoin="miter"/>
<polyline points="29.8,278.6 31.5,278.6 31.5,278.5 33.1,278.5 33.1,278.5 34.8,278.5 34.8,278.4 36.4,278.4 36.4,278.3 38.1,278.3 38.1,278.0 39.7,278.0 39.7,277.8 41.4,277.8 41.4,277.7 43.0,277.7 43.0,277.4 44.7,277.4 44.7,277.4 46.4,277.4 46.4,277.4 48.0,277.4 48.0,277.2 49.7,277.2 49.7,277.5 51.3,277.5 51.3,277.5 53.0,277.5 53.0,277.5 54.6,277.5 54.6,277.7 56.3,277.7 56.3,277.3 57.9,277.3 57.9,276.9 59.6,276.9 59.6,276.6 61.2,276.6 61.2,276.4 62.9,276.4 62.9,276.1 64.6,276.1 64.6,275.9 66.2,275.9 66.2,275.5 67.9,275.5 67.9,275.5 69.5,275.5 69.5,275.3 71.2,275.3 71.2,275.4 72.8,275.4 72.8,275.3 74.5,275.3 74.5,274.9 76.1,274.9 76.1,274.6 77.8,274.6 77.8,274.3 79.5,274.3 79.5,274.0 81.1,274.0 81.1,273.7 82.8,273.7 82.8,273.5 84.4,273.5 84.4,273.1 86.1,273.1 86.1,272.8 87.7,272.8 87.7,272.3 89.4,272.3 89.4,272.0 91.0,272.0 91.0,271.4 92.7,271.4 92.7,271.1 94.3,271.1 94.3,270.4 96.0,270.4 96.0,269.7 97.7,269.7 97.7,268.9 99.3,268.9 99.3,267.0 101.0,267.0 101.0,262.3 102.6,262.3 102.6,252.8 104.3,252.8 104.3,237.8 105.9,237.8 105.9,220.8 107.6,220.8 107.6,206.2 109.2,206.2 109.2,197.3 110.9,197.3 110.9,194.0 112.5,194.0 112.5,194.2 114.2,194.2 114.2,198.1 115.9,198.1 115.9,207.9 117.5,207.9 117.5,223.2 119.2,223.2 119.2,240.2 120.8,240.2 120.8,254.3 122.5,254.3 122.5,262.9 124.1,262.9 124.1,267.0 125.8,267.0 125.8,268.8 127.4,268.8 127.4,269.8 129.1,269.8 129.1,270.5 130.8,270.5 130.8,271.0 132.4,271.0 132.4,271.7 134.1,271.7 134.1,272.4 135.7,272.4 135.7,273.0 137.4,273.0 137.4,273.6 139.0,273.6 139.0,274.2 140.7,274.2 140.7,274.4 142.3,274.4 142.3,274.9 144.0,274.9 144.0,275.5 145.7,275.5 145.7,276.0 147.3,276.0 147.3,276.6 149.0,276.6 149.0,277.1 150.6,277.1 150.6,277.6 152.3,277.6 152.3,278.2 153.9,278.2 153.9,278.6 155.6,278.6 155.6,278.8 157.2,278.8 157.2,279.1 158.9,279.1 158.9,279.4 160.5,279.4 160.5,279.5 162.2,279.5 162.2,279.6 163.9,279.6 163.9,279.8 165.5,279.8 165.5,279.9 167.2,279.9 167.2,280.2 168.8,280.2 168.8,280.4 170.5,280.4 170.5,280.5 172.1,280.5 172.1,280.9 173.8,280.9 173.8,281.1 175.4,281.1 175.4,281.2 177.1,281.2 177.1,281.4 178.8,281.4 178.8,281.5 180.4,281.5 180.4,281.5 182.1,281.5 182.1,281.9 183.7,281.9 183.7,281.8 185.4,281.8 185.4,282.0 187.0,282.0 187.0,281.9 188.7,281.9 188.7,281.8 190.3,281.8 190.3,281.8 192.0,281.8 192.0,281.8 193.6,281.8 193.6,281.5 195.3,281.5" fill="none" stroke="#FCAE91" stroke-width="1.4" stroke-linejoin="round" stroke-linejoin="miter"/>
<polyline points="29.8,277.9 31.5,277.9 31.5,277.6 33.1,277.6 33.1,277.7 34.8,277.7 34.8,277.9 36.4,277.9 36.4,277.7 38.1,277.7 38.1,277.5 39.7,277.5 39.7,277.2 41.4,277.2 41.4,277.1 43.0,277.1 43.0,277.2 44.7,277.2 44.7,277.0 46.4,277.0 46.4,276.4 48.0,276.4 48.0,276.5 49.7,276.5 49.7,276.5 51.3,276.5 51.3,276.7 53.0,276.7 53.0,276.7 54.6,276.7 54.6,276.6 56.3,276.6 56.3,276.5 57.9,276.5 57.9,276.7 59.6,276.7 59.6,276.4 61.2,276.4 61.2,276.1 62.9,276.1 62.9,275.7 64.6,275.7 64.6,275.5 66.2,275.5 66.2,275.5 67.9,275.5 67.9,275.2 69.5,275.2 69.5,275.2 71.2,275.2 71.2,275.0 72.8,275.0 72.8,275.0 74.5,275.0 74.5,274.9 76.1,274.9 76.1,274.7 77.8,274.7 77.8,274.2 79.5,274.2 79.5,273.5 81.1,273.5 81.1,273.0 82.8,273.0 82.8,272.5 84.4,272.5 84.4,272.1 86.1,272.1 86.1,271.7 87.7,271.7 87.7,271.1 89.4,271.1 89.4,270.7 91.0,270.7 91.0,270.5 92.7,270.5 92.7,270.0 94.3,270.0 94.3,269.6 96.0,269.6 96.0,268.7 97.7,268.7 97.7,267.8 99.3,267.8 99.3,265.6 101.0,265.6 101.0,260.8 102.6,260.8 102.6,250.8 104.3,250.8 104.3,235.6 105.9,235.6 105.9,217.8 107.6,217.8 107.6,203.0 109.2,203.0 109.2,193.7 110.9,193.7 110.9,190.4 112.5,190.4 112.5,190.5 114.2,190.5 114.2,194.9 115.9,194.9 115.9,205.1 117.5,205.1 117.5,221.1 119.2,221.1 119.2,238.5 120.8,238.5 120.8,253.0 122.5,253.0 122.5,261.7 124.1,261.7 124.1,266.2 125.8,266.2 125.8,267.9 127.4,267.9 127.4,268.8 129.1,268.8 129.1,269.3 130.8,269.3 130.8,270.0 132.4,270.0 132.4,270.6 134.1,270.6 134.1,271.4 135.7,271.4 135.7,271.9 137.4,271.9 137.4,272.5 139.0,272.5 139.0,272.9 140.7,272.9 140.7,273.2 142.3,273.2 142.3,273.8 144.0,273.8 144.0,274.4 145.7,274.4 145.7,274.9 147.3,274.9 147.3,275.4 149.0,275.4 149.0,276.0 150.6,276.0 150.6,276.6 152.3,276.6 152.3,277.0 153.9,277.0 153.9,277.4 155.6,277.4 155.6,277.8 157.2,277.8 157.2,277.9 158.9,277.9 158.9,278.2 160.5,278.2 160.5,278.3 162.2,278.3 162.2,278.4 163.9,278.4 163.9,279.0 165.5,279.0 165.5,278.8 167.2,278.8 167.2,278.7 168.8,278.7 168.8,279.0 170.5,279.0 170.5,279.1 172.1,279.1 172.1,279.3 173.8,279.3 173.8,279.6 175.4,279.6 175.4,279.6 177.1,279.6 177.1,280.0 178.8,280.0 178.8,280.2 180.4,280.2 180.4,280.2 182.1,280.2 182.1,280.4 183.7,280.4 183.7,280.3 185.4,280.3 185.4,280.4 187.0,280.4 187.0,280.4 188.7,280.4 188.7,280.4 190.3,280.4 190.3,280.6 192.0,280.6 192.0,280.9 193.6,280.9 193.6,281.1 195.3,281.1" fill="none" stroke="#FB6A4A" stroke-width="1.4" stroke-linejoin="round" stroke-linejoin="miter"/>
<polyline points="29.8,276.3 31.5,276.3 31.5,275.9 33.1,275.9 33.1,275.9 34.8,275.9 34.8,276.0 36.4,276.0 36.4,276.1 38.1,276.1 38.1,276.2 39.7,276.2 39.7,276.0 41.4,276.0 41.4,275.9 43.0,275.9 43.0,275.9 44.7,275.9 44.7,275.5 46.4,275.5 46.4,275.1 48.0,275.1 48.0,274.8 49.7,274.8 49.7,274.4 51.3,274.4 51.3,274.3 53.0,274.3 53.0,274.4 54.6,274.4 54.6,274.3 56.3,274.3 56.3,274.4 57.9,274.4 57.9,274.5 59.6,274.5 59.6,274.2 61.2,274.2 61.2,274.1 62.9,274.1 62.9,274.0 64.6,274.0 64.6,273.8 66.2,273.8 66.2,273.4 67.9,273.4 67.9,273.3 69.5,273.3 69.5,272.9 71.2,272.9 71.2,272.9 72.8,272.9 72.8,272.7 74.5,272.7 74.5,272.3 76.1,272.3 76.1,272.0 77.8,272.0 77.8,272.1 79.5,272.1 79.5,271.7 81.1,271.7 81.1,271.5 82.8,271.5 82.8,271.1 84.4,271.1 84.4,270.6 86.1,270.6 86.1,270.4 87.7,270.4 87.7,269.8 89.4,269.8 89.4,269.4 91.0,269.4 91.0,268.9 92.7,268.9 92.7,268.4 94.3,268.4 94.3,267.9 96.0,267.9 96.0,267.4 97.7,267.4 97.7,266.7 99.3,266.7 99.3,264.3 101.0,264.3 101.0,258.8 102.6,258.8 102.6,247.7 104.3,247.7 104.3,230.4 105.9,230.4 105.9,210.7 107.6,210.7 107.6,194.0 109.2,194.0 109.2,183.5 110.9,183.5 110.9,179.8 112.5,179.8 112.5,180.2 114.2,180.2 114.2,184.9 115.9,184.9 115.9,196.3 117.5,196.3 117.5,214.1 119.2,214.1 119.2,233.5 120.8,233.5 120.8,249.8 122.5,249.8 122.5,260.0 124.1,260.0 124.1,264.5 125.8,264.5 125.8,266.5 127.4,266.5 127.4,267.3 129.1,267.3 129.1,268.0 130.8,268.0 130.8,268.7 132.4,268.7 132.4,269.2 134.1,269.2 134.1,269.5 135.7,269.5 135.7,270.0 137.4,270.0 137.4,270.3 139.0,270.3 139.0,270.8 140.7,270.8 140.7,271.0 142.3,271.0 142.3,271.9 144.0,271.9 144.0,272.6 145.7,272.6 145.7,273.2 147.3,273.2 147.3,274.0 149.0,274.0 149.0,274.8 150.6,274.8 150.6,275.4 152.3,275.4 152.3,276.1 153.9,276.1 153.9,276.2 155.6,276.2 155.6,276.9 157.2,276.9 157.2,277.2 158.9,277.2 158.9,277.3 160.5,277.3 160.5,277.3 162.2,277.3 162.2,277.6 163.9,277.6 163.9,277.5 165.5,277.5 165.5,277.7 167.2,277.7 167.2,277.8 168.8,277.8 168.8,277.9 170.5,277.9 170.5,278.1 172.1,278.1 172.1,278.5 173.8,278.5 173.8,278.7 175.4,278.7 175.4,278.8 177.1,278.8 177.1,278.9 178.8,278.9 178.8,278.6 180.4,278.6 180.4,278.8 182.1,278.8 182.1,278.4 183.7,278.4 183.7,278.6 185.4,278.6 185.4,278.6 187.0,278.6 187.0,278.7 188.7,278.7 188.7,278.9 190.3,278.9 190.3,278.9 192.0,278.9 192.0,278.9 193.6,278.9 193.6,279.5 195.3,279.5" fill="none" stroke="#A50F15" stroke-width="1.4" stroke-linejoin="round" stroke-linejoin="miter"/>
<polyline points="29.8,273.4 31.5,273.4 31.5,273.3 33.1,273.3 33.1,273.4 34.8,273.4 34.8,273.3 36.4,273.3 36.4,273.1 38.1,273.1 38.1,273.1 39.7,273.1 39.7,273.2 41.4,273.2 41.4,273.1 43.0,273.1 43.0,273.0 44.7,273.0 44.7,273.0 46.4,273.0 46.4,272.8 48.0,272.8 48.0,272.6 49.7,272.6 49.7,272.4 51.3,272.4 51.3,272.0 53.0,272.0 53.0,272.0 54.6,272.0 54.6,272.1 56.3,272.1 56.3,271.8 57.9,271.8 57.9,271.9 59.6,271.9 59.6,271.6 61.2,271.6 61.2,271.6 62.9,271.6 62.9,271.6 64.6,271.6 64.6,271.3 66.2,271.3 66.2,271.1 67.9,271.1 67.9,271.0 69.5,271.0 69.5,270.7 71.2,270.7 71.2,270.7 72.8,270.7 72.8,270.4 74.5,270.4 74.5,270.1 76.1,270.1 76.1,270.0 77.8,270.0 77.8,269.4 79.5,269.4 79.5,269.0 81.1,269.0 81.1,268.8 82.8,268.8 82.8,268.1 84.4,268.1 84.4,267.7 86.1,267.7 86.1,267.5 87.7,267.5 87.7,267.1 89.4,267.1 89.4,266.5 91.0,266.5 91.0,265.9 92.7,265.9 92.7,265.2 94.3,265.2 94.3,264.7 96.0,264.7 96.0,264.0 97.7,264.0 97.7,262.7 99.3,262.7 99.3,260.6 101.0,260.6 101.0,255.9 102.6,255.9 102.6,246.6 104.3,246.6 104.3,232.1 105.9,232.1 105.9,215.3 107.6,215.3 107.6,200.9 109.2,200.9 109.2,192.3 110.9,192.3 110.9,188.8 112.5,188.8 112.5,189.2 114.2,189.2 114.2,193.3 115.9,193.3 115.9,202.9 117.5,202.9 117.5,218.0 119.2,218.0 119.2,234.7 120.8,234.7 120.8,248.6 122.5,248.6 122.5,257.2 124.1,257.2 124.1,261.7 125.8,261.7 125.8,263.5 127.4,263.5 127.4,264.5 129.1,264.5 129.1,265.2 130.8,265.2 130.8,266.2 132.4,266.2 132.4,266.8 134.1,266.8 134.1,267.4 135.7,267.4 135.7,267.8 137.4,267.8 137.4,268.3 139.0,268.3 139.0,268.6 140.7,268.6 140.7,269.2 142.3,269.2 142.3,269.6 144.0,269.6 144.0,270.1 145.7,270.1 145.7,270.9 147.3,270.9 147.3,271.3 149.0,271.3 149.0,271.9 150.6,271.9 150.6,272.5 152.3,272.5 152.3,272.9 153.9,272.9 153.9,273.3 155.6,273.3 155.6,273.8 157.2,273.8 157.2,273.7 158.9,273.7 158.9,274.2 160.5,274.2 160.5,274.7 162.2,274.7 162.2,275.3 163.9,275.3 163.9,275.2 165.5,275.2 165.5,275.3 167.2,275.3 167.2,275.4 168.8,275.4 168.8,275.6 170.5,275.6 170.5,275.5 172.1,275.5 172.1,275.5 173.8,275.5 173.8,275.5 175.4,275.5 175.4,275.6 177.1,275.6 177.1,275.6 178.8,275.6 178.8,275.9 180.4,275.9 180.4,276.1 182.1,276.1 182.1,276.3 183.7,276.3 183.7,276.4 185.4,276.4 185.4,276.6 187.0,276.6 187.0,276.8 188.7,276.8 188.7,276.5 190.3,276.5 190.3,276.5 192.0,276.5 192.0,276.4 193.6,276.4 193.6,276.5 195.3,276.5" fill="none" stroke="#DE2D26" stroke-width="1.4" stroke-linejoin="round" stroke-linejoin="miter"/>
</g>
<rect x="29.80" y="172.60" width="165.50" height="133.50" fill="none" stroke="#111" stroke-width="1.3" />
<line x1="27.80" y1="301.80" x2="29.80" y2="301.80" stroke="#222" stroke-width="0.8" />
<text x="27.20" y="304.90" font-size="8.8" text-anchor="end" fill="#222" >2</text>
<line x1="27.80" y1="286.27" x2="29.80" y2="286.27" stroke="#222" stroke-width="0.8" />
<text x="27.20" y="289.37" font-size="8.8" text-anchor="end" fill="#222" >4</text>
<line x1="27.80" y1="270.74" x2="29.80" y2="270.74" stroke="#222" stroke-width="0.8" />
<text x="27.20" y="273.84" font-size="8.8" text-anchor="end" fill="#222" >6</text>
<line x1="27.80" y1="255.21" x2="29.80" y2="255.21" stroke="#222" stroke-width="0.8" />
<text x="27.20" y="258.31" font-size="8.8" text-anchor="end" fill="#222" >8</text>
<line x1="27.80" y1="239.68" x2="29.80" y2="239.68" stroke="#222" stroke-width="0.8" />
<text x="27.20" y="242.78" font-size="8.8" text-anchor="end" fill="#222" >10</text>
<line x1="27.80" y1="224.15" x2="29.80" y2="224.15" stroke="#222" stroke-width="0.8" />
<text x="27.20" y="227.25" font-size="8.8" text-anchor="end" fill="#222" >12</text>
<line x1="27.80" y1="208.62" x2="29.80" y2="208.62" stroke="#222" stroke-width="0.8" />
<text x="27.20" y="211.72" font-size="8.8" text-anchor="end" fill="#222" >14</text>
<line x1="27.80" y1="193.09" x2="29.80" y2="193.09" stroke="#222" stroke-width="0.8" />
<text x="27.20" y="196.19" font-size="8.8" text-anchor="end" fill="#222" >16</text>
<line x1="27.80" y1="177.56" x2="29.80" y2="177.56" stroke="#222" stroke-width="0.8" />
<text x="27.20" y="180.66" font-size="8.8" text-anchor="end" fill="#222" >18</text>
<text x="112.50" y="168.60" font-size="9" text-anchor="middle" fill="#222" >liver hyper DHMRs</text>
<text x="29.20" y="314.70" font-size="9" text-anchor="start" fill="#222" >-3kb</text>
<text x="112.60" y="314.70" font-size="9" text-anchor="middle" fill="#222" >center</text>
<text x="196.90" y="314.70" font-size="9" text-anchor="end" fill="#222" >3kb</text>
<text font-size="9" text-anchor="middle" fill="#222" transform="translate(12.5 236.5) rotate(-90)">5hmC signal</text>
<line x1="156.30" y1="182.00" x2="163.20" y2="182.00" stroke="#CCCCCC" stroke-width="1.8" />
<text x="166.00" y="184.70" font-size="9" text-anchor="start" fill="#222" >young</text>
<line x1="156.30" y1="190.50" x2="163.20" y2="190.50" stroke="#969696" stroke-width="1.8" />
<text x="166.00" y="193.20" font-size="9" text-anchor="start" fill="#222" >young</text>
<line x1="156.30" y1="199.00" x2="163.20" y2="199.00" stroke="#636363" stroke-width="1.8" />
<text x="166.00" y="201.70" font-size="9" text-anchor="start" fill="#222" >young</text>
<line x1="156.30" y1="207.50" x2="163.20" y2="207.50" stroke="#252525" stroke-width="1.8" />
<text x="166.00" y="210.20" font-size="9" text-anchor="start" fill="#222" >young</text>
<clipPath id="clipC2"><rect x="199.1" y="173.2" width="165" height="132.4"/></clipPath>
<g clip-path="url(#clipC2)">
<polyline points="198.6,288.9 200.3,288.9 200.3,289.3 201.9,289.3 201.9,289.3 203.6,289.3 203.6,289.0 205.2,289.0 205.2,289.3 206.9,289.3 206.9,289.0 208.6,289.0 208.6,289.2 210.2,289.2 210.2,289.2 211.9,289.2 211.9,288.9 213.5,288.9 213.5,288.5 215.2,288.5 215.2,288.7 216.9,288.7 216.9,288.1 218.5,288.1 218.5,287.9 220.2,287.9 220.2,287.6 221.8,287.6 221.8,287.4 223.5,287.4 223.5,287.4 225.2,287.4 225.2,287.1 226.8,287.1 226.8,286.8 228.5,286.8 228.5,286.8 230.1,286.8 230.1,286.7 231.8,286.7 231.8,286.9 233.5,286.9 233.5,286.4 235.1,286.4 235.1,286.2 236.8,286.2 236.8,286.7 238.4,286.7 238.4,286.6 240.1,286.6 240.1,286.5 241.8,286.5 241.8,286.6 243.4,286.6 243.4,286.3 245.1,286.3 245.1,286.5 246.7,286.5 246.7,286.3 248.4,286.3 248.4,286.3 250.1,286.3 250.1,286.2 251.7,286.2 251.7,286.0 253.4,286.0 253.4,286.0 255.0,286.0 255.0,285.9 256.7,285.9 256.7,285.8 258.4,285.8 258.4,285.7 260.0,285.7 260.0,285.1 261.7,285.1 261.7,285.2 263.3,285.2 263.3,285.1 265.0,285.1 265.0,284.7 266.7,284.7 266.7,283.4 268.3,283.4 268.3,279.7 270.0,279.7 270.0,272.6 271.6,272.6 271.6,260.5 273.3,260.5 273.3,242.6 275.0,242.6 275.0,222.5 276.6,222.5 276.6,205.0 278.3,205.0 278.3,193.2 279.9,193.2 279.9,188.9 281.6,188.9 281.6,188.6 283.3,188.6 283.3,192.6 284.9,192.6 284.9,204.3 286.6,204.3 286.6,222.0 288.2,222.0 288.2,241.6 289.9,241.6 289.9,259.4 291.6,259.4 291.6,271.9 293.2,271.9 293.2,279.3 294.9,279.3 294.9,283.1 296.5,283.1 296.5,284.6 298.2,284.6 298.2,285.1 299.9,285.1 299.9,285.2 301.5,285.2 301.5,284.7 303.2,284.7 303.2,284.8 304.8,284.8 304.8,285.4 306.5,285.4 306.5,285.1 308.2,285.1 308.2,285.1 309.8,285.1 309.8,285.1 311.5,285.1 311.5,285.4 313.1,285.4 313.1,286.4 314.8,286.4 314.8,286.4 316.5,286.4 316.5,286.2 318.1,286.2 318.1,286.3 319.8,286.3 319.8,286.7 321.4,286.7 321.4,287.0 323.1,287.0 323.1,286.9 324.8,286.9 324.8,286.7 326.4,286.7 326.4,286.8 328.1,286.8 328.1,286.8 329.7,286.8 329.7,287.2 331.4,287.2 331.4,286.9 333.1,286.9 333.1,286.9 334.7,286.9 334.7,287.0 336.4,287.0 336.4,287.4 338.0,287.4 338.0,287.7 339.7,287.7 339.7,287.5 341.4,287.5 341.4,287.6 343.0,287.6 343.0,287.9 344.7,287.9 344.7,288.1 346.3,288.1 346.3,288.0 348.0,288.0 348.0,287.8 349.7,287.8 349.7,287.7 351.3,287.7 351.3,288.0 353.0,288.0 353.0,288.1 354.6,288.1 354.6,288.0 356.3,288.0 356.3,288.0 358.0,288.0 358.0,288.6 359.6,288.6 359.6,288.7 361.3,288.7 361.3,288.8 362.9,288.8 362.9,289.0 364.6,289.0" fill="none" stroke="#CCCCCC" stroke-width="1.4" stroke-linejoin="round" stroke-linejoin="miter"/>
<polyline points="198.6,289.7 200.3,289.7 200.3,289.7 201.9,289.7 201.9,289.5 203.6,289.5 203.6,289.0 205.2,289.0 205.2,288.6 206.9,288.6 206.9,288.5 208.6,288.5 208.6,288.7 210.2,288.7 210.2,288.6 211.9,288.6 211.9,288.7 213.5,288.7 213.5,288.7 215.2,288.7 215.2,288.8 216.9,288.8 216.9,288.6 218.5,288.6 218.5,288.6 220.2,288.6 220.2,288.2 221.8,288.2 221.8,288.6 223.5,288.6 223.5,288.5 225.2,288.5 225.2,288.7 226.8,288.7 226.8,288.7 228.5,288.7 228.5,288.8 230.1,288.8 230.1,288.7 231.8,288.7 231.8,288.7 233.5,288.7 233.5,288.0 235.1,288.0 235.1,287.9 236.8,287.9 236.8,287.7 238.4,287.7 238.4,287.7 240.1,287.7 240.1,287.8 241.8,287.8 241.8,287.6 243.4,287.6 243.4,287.0 245.1,287.0 245.1,287.4 246.7,287.4 246.7,287.1 248.4,287.1 248.4,286.6 250.1,286.6 250.1,286.0 251.7,286.0 251.7,285.7 253.4,285.7 253.4,286.2 255.0,286.2 255.0,286.6 256.7,286.6 256.7,286.2 258.4,286.2 258.4,286.3 260.0,286.3 260.0,286.6 261.7,286.6 261.7,286.4 263.3,286.4 263.3,286.2 265.0,286.2 265.0,285.2 266.7,285.2 266.7,283.8 268.3,283.8 268.3,280.7 270.0,280.7 270.0,273.5 271.6,273.5 271.6,260.9 273.3,260.9 273.3,244.4 275.0,244.4 275.0,225.0 276.6,225.0 276.6,208.6 278.3,208.6 278.3,197.1 279.9,197.1 279.9,192.5 281.6,192.5 281.6,192.4 283.3,192.4 283.3,196.9 284.9,196.9 284.9,208.0 286.6,208.0 286.6,225.1 288.2,225.1 288.2,244.3 289.9,244.3 289.9,261.6 291.6,261.6 291.6,274.0 293.2,274.0 293.2,280.9 294.9,280.9 294.9,284.6 296.5,284.6 296.5,286.0 298.2,286.0 298.2,286.7 299.9,286.7 299.9,286.8 301.5,286.8 301.5,286.6 303.2,286.6 303.2,286.3 304.8,286.3 304.8,286.4 306.5,286.4 306.5,286.2 308.2,286.2 308.2,286.4 309.8,286.4 309.8,285.9 311.5,285.9 311.5,285.7 313.1,285.7 313.1,286.2 314.8,286.2 314.8,286.6 316.5,286.6 316.5,286.6 318.1,286.6 318.1,286.7 319.8,286.7 319.8,286.6 321.4,286.6 321.4,287.3 323.1,287.3 323.1,287.4 324.8,287.4 324.8,287.4 326.4,287.4 326.4,287.8 328.1,287.8 328.1,288.1 329.7,288.1 329.7,288.8 331.4,288.8 331.4,288.7 333.1,288.7 333.1,289.0 334.7,289.0 334.7,288.9 336.4,288.9 336.4,289.2 338.0,289.2 338.0,289.0 339.7,289.0 339.7,288.9 341.4,288.9 341.4,288.6 343.0,288.6 343.0,289.0 344.7,289.0 344.7,288.8 346.3,288.8 346.3,289.2 348.0,289.2 348.0,289.0 349.7,289.0 349.7,289.0 351.3,289.0 351.3,289.4 353.0,289.4 353.0,289.7 354.6,289.7 354.6,289.8 356.3,289.8 356.3,289.9 358.0,289.9 358.0,289.9 359.6,289.9 359.6,290.3 361.3,290.3 361.3,290.9 362.9,290.9 362.9,291.4 364.6,291.4" fill="none" stroke="#969696" stroke-width="1.4" stroke-linejoin="round" stroke-linejoin="miter"/>
<polyline points="198.6,293.1 200.3,293.1 200.3,293.0 201.9,293.0 201.9,292.9 203.6,292.9 203.6,292.9 205.2,292.9 205.2,292.8 206.9,292.8 206.9,293.0 208.6,293.0 208.6,293.3 210.2,293.3 210.2,293.2 211.9,293.2 211.9,293.0 213.5,293.0 213.5,292.8 215.2,292.8 215.2,292.7 216.9,292.7 216.9,292.8 218.5,292.8 218.5,292.5 220.2,292.5 220.2,292.3 221.8,292.3 221.8,292.3 223.5,292.3 223.5,292.0 225.2,292.0 225.2,292.1 226.8,292.1 226.8,292.0 228.5,292.0 228.5,291.8 230.1,291.8 230.1,291.6 231.8,291.6 231.8,291.6 233.5,291.6 233.5,291.4 235.1,291.4 235.1,291.7 236.8,291.7 236.8,291.4 238.4,291.4 238.4,291.3 240.1,291.3 240.1,290.7 241.8,290.7 241.8,290.2 243.4,290.2 243.4,289.8 245.1,289.8 245.1,289.5 246.7,289.5 246.7,289.4 248.4,289.4 248.4,289.6 250.1,289.6 250.1,289.1 251.7,289.1 251.7,289.5 253.4,289.5 253.4,289.6 255.0,289.6 255.0,289.6 256.7,289.6 256.7,289.6 258.4,289.6 258.4,289.4 260.0,289.4 260.0,289.3 261.7,289.3 261.7,289.5 263.3,289.5 263.3,289.3 265.0,289.3 265.0,289.2 266.7,289.2 266.7,288.2 268.3,288.2 268.3,285.2 270.0,285.2 270.0,278.9 271.6,278.9 271.6,268.1 273.3,268.1 273.3,253.3 275.0,253.3 275.0,236.7 276.6,236.7 276.6,222.3 278.3,222.3 278.3,212.4 279.9,212.4 279.9,208.5 281.6,208.5 281.6,208.8 283.3,208.8 283.3,212.9 284.9,212.9 284.9,222.6 286.6,222.6 286.6,237.5 288.2,237.5 288.2,253.9 289.9,253.9 289.9,268.7 291.6,268.7 291.6,279.2 293.2,279.2 293.2,285.1 294.9,285.1 294.9,288.0 296.5,288.0 296.5,288.7 298.2,288.7 298.2,289.0 299.9,289.0 299.9,288.9 301.5,288.9 301.5,289.0 303.2,289.0 303.2,289.5 304.8,289.5 304.8,289.8 306.5,289.8 306.5,290.2 308.2,290.2 308.2,290.7 309.8,290.7 309.8,290.7 311.5,290.7 311.5,290.7 313.1,290.7 313.1,290.7 314.8,290.7 314.8,290.9 316.5,290.9 316.5,290.8 318.1,290.8 318.1,290.4 319.8,290.4 319.8,290.6 321.4,290.6 321.4,290.7 323.1,290.7 323.1,290.9 324.8,290.9 324.8,290.8 326.4,290.8 326.4,290.6 328.1,290.6 328.1,290.7 329.7,290.7 329.7,290.9 331.4,290.9 331.4,291.1 333.1,291.1 333.1,291.4 334.7,291.4 334.7,291.6 336.4,291.6 336.4,292.1 338.0,292.1 338.0,292.6 339.7,292.6 339.7,293.0 341.4,293.0 341.4,293.0 343.0,293.0 343.0,292.7 344.7,292.7 344.7,293.0 346.3,293.0 346.3,293.1 348.0,293.1 348.0,293.4 349.7,293.4 349.7,293.3 351.3,293.3 351.3,293.5 353.0,293.5 353.0,293.5 354.6,293.5 354.6,294.0 356.3,294.0 356.3,294.0 358.0,294.0 358.0,293.9 359.6,293.9 359.6,293.5 361.3,293.5 361.3,293.5 362.9,293.5 362.9,293.4 364.6,293.4" fill="none" stroke="#636363" stroke-width="1.4" stroke-linejoin="round" stroke-linejoin="miter"/>
<polyline points="198.6,296.6 200.3,296.6 200.3,296.4 201.9,296.4 201.9,296.5 203.6,296.5 203.6,296.3 205.2,296.3 205.2,295.8 206.9,295.8 206.9,296.2 208.6,296.2 208.6,296.1 210.2,296.1 210.2,296.1 211.9,296.1 211.9,295.9 213.5,295.9 213.5,295.7 215.2,295.7 215.2,295.8 216.9,295.8 216.9,295.6 218.5,295.6 218.5,295.2 220.2,295.2 220.2,295.5 221.8,295.5 221.8,295.3 223.5,295.3 223.5,295.2 225.2,295.2 225.2,295.1 226.8,295.1 226.8,294.6 228.5,294.6 228.5,294.5 230.1,294.5 230.1,294.4 231.8,294.4 231.8,294.2 233.5,294.2 233.5,294.3 235.1,294.3 235.1,294.6 236.8,294.6 236.8,294.6 238.4,294.6 238.4,294.8 240.1,294.8 240.1,294.8 241.8,294.8 241.8,294.9 243.4,294.9 243.4,294.7 245.1,294.7 245.1,294.8 246.7,294.8 246.7,294.5 248.4,294.5 248.4,293.8 250.1,293.8 250.1,293.4 251.7,293.4 251.7,293.3 253.4,293.3 253.4,293.0 255.0,293.0 255.0,292.8 256.7,292.8 256.7,292.1 258.4,292.1 258.4,291.9 260.0,291.9 260.0,292.1 261.7,292.1 261.7,291.9 263.3,291.9 263.3,291.7 265.0,291.7 265.0,291.6 266.7,291.6 266.7,290.9 268.3,290.9 268.3,288.2 270.0,288.2 270.0,281.6 271.6,281.6 271.6,270.5 273.3,270.5 273.3,255.3 275.0,255.3 275.0,238.3 276.6,238.3 276.6,223.0 278.3,223.0 278.3,212.9 279.9,212.9 279.9,208.8 281.6,208.8 281.6,209.0 283.3,209.0 283.3,213.3 284.9,213.3 284.9,223.6 286.6,223.6 286.6,238.3 288.2,238.3 288.2,255.3 289.9,255.3 289.9,270.3 291.6,270.3 291.6,281.7 293.2,281.7 293.2,287.9 294.9,287.9 294.9,290.8 296.5,290.8 296.5,292.0 298.2,292.0 298.2,293.1 299.9,293.1 299.9,293.4 301.5,293.4 301.5,293.8 303.2,293.8 303.2,293.9 304.8,293.9 304.8,294.2 306.5,294.2 306.5,294.4 308.2,294.4 308.2,294.4 309.8,294.4 309.8,294.3 311.5,294.3 311.5,294.7 313.1,294.7 313.1,294.7 314.8,294.7 314.8,294.6 316.5,294.6 316.5,294.5 318.1,294.5 318.1,294.5 319.8,294.5 319.8,294.1 321.4,294.1 321.4,294.5 323.1,294.5 323.1,294.0 324.8,294.0 324.8,294.0 326.4,294.0 326.4,294.3 328.1,294.3 328.1,293.9 329.7,293.9 329.7,294.1 331.4,294.1 331.4,294.7 333.1,294.7 333.1,294.2 334.7,294.2 334.7,294.6 336.4,294.6 336.4,294.7 338.0,294.7 338.0,294.6 339.7,294.6 339.7,295.0 341.4,295.0 341.4,295.3 343.0,295.3 343.0,295.9 344.7,295.9 344.7,296.1 346.3,296.1 346.3,296.2 348.0,296.2 348.0,296.3 349.7,296.3 349.7,296.4 351.3,296.4 351.3,296.2 353.0,296.2 353.0,295.9 354.6,295.9 354.6,295.4 356.3,295.4 356.3,295.9 358.0,295.9 358.0,295.9 359.6,295.9 359.6,296.1 361.3,296.1 361.3,296.4 362.9,296.4 362.9,296.6 364.6,296.6" fill="none" stroke="#252525" stroke-width="1.4" stroke-linejoin="round" stroke-linejoin="miter"/>
<polyline points="198.6,288.6 200.3,288.6 200.3,288.8 201.9,288.8 201.9,289.0 203.6,289.0 203.6,288.7 205.2,288.7 205.2,289.2 206.9,289.2 206.9,289.0 208.6,289.0 208.6,288.8 210.2,288.8 210.2,289.0 211.9,289.0 211.9,289.0 213.5,289.0 213.5,289.0 215.2,289.0 215.2,288.6 216.9,288.6 216.9,287.7 218.5,287.7 218.5,287.9 220.2,287.9 220.2,287.7 221.8,287.7 221.8,287.5 223.5,287.5 223.5,287.2 225.2,287.2 225.2,287.1 226.8,287.1 226.8,287.4 228.5,287.4 228.5,287.4 230.1,287.4 230.1,286.7 231.8,286.7 231.8,286.3 233.5,286.3 233.5,286.2 235.1,286.2 235.1,285.8 236.8,285.8 236.8,285.0 238.4,285.0 238.4,285.0 240.1,285.0 240.1,285.2 241.8,285.2 241.8,285.2 243.4,285.2 243.4,285.7 245.1,285.7 245.1,285.8 246.7,285.8 246.7,285.8 248.4,285.8 248.4,286.1 250.1,286.1 250.1,285.9 251.7,285.9 251.7,285.5 253.4,285.5 253.4,285.8 255.0,285.8 255.0,285.1 256.7,285.1 256.7,285.0 258.4,285.0 258.4,285.0 260.0,285.0 260.0,284.9 261.7,284.9 261.7,284.9 263.3,284.9 263.3,285.2 265.0,285.2 265.0,284.4 266.7,284.4 266.7,284.5 268.3,284.5 268.3,284.3 270.0,284.3 270.0,283.9 271.6,283.9 271.6,283.5 273.3,283.5 273.3,282.7 275.0,282.7 275.0,281.4 276.6,281.4 276.6,280.5 278.3,280.5 278.3,279.0 279.9,279.0 279.9,278.1 281.6,278.1 281.6,278.2 283.3,278.2 283.3,278.6 284.9,278.6 284.9,279.4 286.6,279.4 286.6,280.2 288.2,280.2 288.2,281.3 289.9,281.3 289.9,282.3 291.6,282.3 291.6,282.7 293.2,282.7 293.2,283.1 294.9,283.1 294.9,283.2 296.5,283.2 296.5,283.6 298.2,283.6 298.2,283.8 299.9,283.8 299.9,284.2 301.5,284.2 301.5,284.6 303.2,284.6 303.2,284.6 304.8,284.6 304.8,284.6 306.5,284.6 306.5,284.6 308.2,284.6 308.2,284.5 309.8,284.5 309.8,284.6 311.5,284.6 311.5,284.7 313.1,284.7 313.1,284.6 314.8,284.6 314.8,284.9 316.5,284.9 316.5,285.0 318.1,285.0 318.1,284.9 319.8,284.9 319.8,285.1 321.4,285.1 321.4,285.6 323.1,285.6 323.1,285.6 324.8,285.6 324.8,285.8 326.4,285.8 326.4,286.3 328.1,286.3 328.1,286.7 329.7,286.7 329.7,287.2 331.4,287.2 331.4,287.6 333.1,287.6 333.1,287.6 334.7,287.6 334.7,287.7 336.4,287.7 336.4,288.2 338.0,288.2 338.0,288.1 339.7,288.1 339.7,287.8 341.4,287.8 341.4,288.0 343.0,288.0 343.0,287.9 344.7,287.9 344.7,288.3 346.3,288.3 346.3,288.4 348.0,288.4 348.0,287.9 349.7,287.9 349.7,287.9 351.3,287.9 351.3,288.3 353.0,288.3 353.0,288.5 354.6,288.5 354.6,288.7 356.3,288.7 356.3,288.7 358.0,288.7 358.0,288.7 359.6,288.7 359.6,289.2 361.3,289.2 361.3,289.6 362.9,289.6 362.9,289.5 364.6,289.5" fill="none" stroke="#FCAE91" stroke-width="1.4" stroke-linejoin="round" stroke-linejoin="miter"/>
<polyline points="198.6,291.0 200.3,291.0 200.3,291.2 201.9,291.2 201.9,291.3 203.6,291.3 203.6,291.7 205.2,291.7 205.2,291.4 206.9,291.4 206.9,291.2 208.6,291.2 208.6,290.9 210.2,290.9 210.2,290.7 211.9,290.7 211.9,289.8 213.5,289.8 213.5,289.8 215.2,289.8 215.2,289.5 216.9,289.5 216.9,289.5 218.5,289.5 218.5,289.7 220.2,289.7 220.2,289.7 221.8,289.7 221.8,289.7 223.5,289.7 223.5,290.3 225.2,290.3 225.2,289.6 226.8,289.6 226.8,289.8 228.5,289.8 228.5,289.7 230.1,289.7 230.1,289.5 231.8,289.5 231.8,289.2 233.5,289.2 233.5,289.0 235.1,289.0 235.1,289.0 236.8,289.0 236.8,289.1 238.4,289.1 238.4,288.5 240.1,288.5 240.1,288.5 241.8,288.5 241.8,288.5 243.4,288.5 243.4,288.1 245.1,288.1 245.1,288.4 246.7,288.4 246.7,288.0 248.4,288.0 248.4,288.1 250.1,288.1 250.1,287.9 251.7,287.9 251.7,287.7 253.4,287.7 253.4,287.7 255.0,287.7 255.0,288.0 256.7,288.0 256.7,287.5 258.4,287.5 258.4,287.2 260.0,287.2 260.0,286.8 261.7,286.8 261.7,287.1 263.3,287.1 263.3,287.0 265.0,287.0 265.0,286.4 266.7,286.4 266.7,286.4 268.3,286.4 268.3,286.1 270.0,286.1 270.0,285.4 271.6,285.4 271.6,285.2 273.3,285.2 273.3,283.7 275.0,283.7 275.0,282.4 276.6,282.4 276.6,280.8 278.3,280.8 278.3,279.1 279.9,279.1 279.9,278.6 281.6,278.6 281.6,278.7 283.3,278.7 283.3,278.9 284.9,278.9 284.9,280.5 286.6,280.5 286.6,281.8 288.2,281.8 288.2,283.5 289.9,283.5 289.9,285.1 291.6,285.1 291.6,285.6 293.2,285.6 293.2,286.0 294.9,286.0 294.9,286.7 296.5,286.7 296.5,287.0 298.2,287.0 298.2,287.4 299.9,287.4 299.9,287.2 301.5,287.2 301.5,287.0 303.2,287.0 303.2,287.4 304.8,287.4 304.8,287.3 306.5,287.3 306.5,287.4 308.2,287.4 308.2,287.1 309.8,287.1 309.8,287.1 311.5,287.1 311.5,287.2 313.1,287.2 313.1,287.2 314.8,287.2 314.8,287.8 316.5,287.8 316.5,288.5 318.1,288.5 318.1,288.7 319.8,288.7 319.8,289.2 321.4,289.2 321.4,289.1 323.1,289.1 323.1,289.5 324.8,289.5 324.8,289.8 326.4,289.8 326.4,289.3 328.1,289.3 328.1,288.8 329.7,288.8 329.7,288.9 331.4,288.9 331.4,288.9 333.1,288.9 333.1,289.3 334.7,289.3 334.7,289.0 336.4,289.0 336.4,288.8 338.0,288.8 338.0,289.1 339.7,289.1 339.7,289.6 341.4,289.6 341.4,289.9 343.0,289.9 343.0,290.3 344.7,290.3 344.7,290.0 346.3,290.0 346.3,289.8 348.0,289.8 348.0,290.1 349.7,290.1 349.7,289.9 351.3,289.9 351.3,290.0 353.0,290.0 353.0,289.4 354.6,289.4 354.6,289.2 356.3,289.2 356.3,289.5 358.0,289.5 358.0,289.9 359.6,289.9 359.6,290.0 361.3,290.0 361.3,290.3 362.9,290.3 362.9,290.3 364.6,290.3" fill="none" stroke="#FB6A4A" stroke-width="1.4" stroke-linejoin="round" stroke-linejoin="miter"/>
<polyline points="198.6,292.1 200.3,292.1 200.3,292.0 201.9,292.0 201.9,292.1 203.6,292.1 203.6,291.9 205.2,291.9 205.2,291.9 206.9,291.9 206.9,292.0 208.6,292.0 208.6,291.9 210.2,291.9 210.2,291.6 211.9,291.6 211.9,291.4 213.5,291.4 213.5,291.1 215.2,291.1 215.2,291.5 216.9,291.5 216.9,291.1 218.5,291.1 218.5,291.3 220.2,291.3 220.2,290.9 221.8,290.9 221.8,291.0 223.5,291.0 223.5,290.8 225.2,290.8 225.2,290.9 226.8,290.9 226.8,290.5 228.5,290.5 228.5,290.5 230.1,290.5 230.1,290.2 231.8,290.2 231.8,290.4 233.5,290.4 233.5,290.1 235.1,290.1 235.1,290.1 236.8,290.1 236.8,289.9 238.4,289.9 238.4,289.7 240.1,289.7 240.1,289.5 241.8,289.5 241.8,289.3 243.4,289.3 243.4,289.5 245.1,289.5 245.1,289.5 246.7,289.5 246.7,289.6 248.4,289.6 248.4,289.5 250.1,289.5 250.1,289.2 251.7,289.2 251.7,288.7 253.4,288.7 253.4,288.6 255.0,288.6 255.0,287.9 256.7,287.9 256.7,287.6 258.4,287.6 258.4,287.1 260.0,287.1 260.0,287.1 261.7,287.1 261.7,286.8 263.3,286.8 263.3,287.4 265.0,287.4 265.0,287.3 266.7,287.3 266.7,287.3 268.3,287.3 268.3,286.9 270.0,286.9 270.0,286.7 271.6,286.7 271.6,285.9 273.3,285.9 273.3,285.9 275.0,285.9 275.0,285.0 276.6,285.0 276.6,284.4 278.3,284.4 278.3,283.8 279.9,283.8 279.9,283.7 281.6,283.7 281.6,283.6 283.3,283.6 283.3,284.4 284.9,284.4 284.9,284.9 286.6,284.9 286.6,285.5 288.2,285.5 288.2,286.6 289.9,286.6 289.9,287.2 291.6,287.2 291.6,287.5 293.2,287.5 293.2,287.4 294.9,287.4 294.9,287.0 296.5,287.0 296.5,287.1 298.2,287.1 298.2,287.4 299.9,287.4 299.9,286.8 301.5,286.8 301.5,286.7 303.2,286.7 303.2,286.9 304.8,286.9 304.8,287.5 306.5,287.5 306.5,288.2 308.2,288.2 308.2,288.3 309.8,288.3 309.8,288.1 311.5,288.1 311.5,288.6 313.1,288.6 313.1,288.7 314.8,288.7 314.8,288.6 316.5,288.6 316.5,288.5 318.1,288.5 318.1,288.4 319.8,288.4 319.8,288.5 321.4,288.5 321.4,288.7 323.1,288.7 323.1,288.7 324.8,288.7 324.8,289.5 326.4,289.5 326.4,290.0 328.1,290.0 328.1,289.9 329.7,289.9 329.7,289.8 331.4,289.8 331.4,290.0 333.1,290.0 333.1,290.0 334.7,290.0 334.7,290.5 336.4,290.5 336.4,290.1 338.0,290.1 338.0,290.0 339.7,290.0 339.7,290.6 341.4,290.6 341.4,290.9 343.0,290.9 343.0,291.1 344.7,291.1 344.7,291.3 346.3,291.3 346.3,291.0 348.0,291.0 348.0,291.1 349.7,291.1 349.7,290.7 351.3,290.7 351.3,290.8 353.0,290.8 353.0,291.3 354.6,291.3 354.6,291.1 356.3,291.1 356.3,291.1 358.0,291.1 358.0,291.2 359.6,291.2 359.6,291.3 361.3,291.3 361.3,291.9 362.9,291.9 362.9,291.8 364.6,291.8" fill="none" stroke="#A50F15" stroke-width="1.4" stroke-linejoin="round" stroke-linejoin="miter"/>
<polyline points="198.6,284.8 200.3,284.8 200.3,284.9 201.9,284.9 201.9,284.8 203.6,284.8 203.6,284.5 205.2,284.5 205.2,284.1 206.9,284.1 206.9,284.2 208.6,284.2 208.6,284.3 210.2,284.3 210.2,284.1 211.9,284.1 211.9,284.3 213.5,284.3 213.5,284.3 215.2,284.3 215.2,284.4 216.9,284.4 216.9,284.9 218.5,284.9 218.5,284.8 220.2,284.8 220.2,284.9 221.8,284.9 221.8,284.6 223.5,284.6 223.5,284.0 225.2,284.0 225.2,283.7 226.8,283.7 226.8,283.8 228.5,283.8 228.5,283.7 230.1,283.7 230.1,283.6 231.8,283.6 231.8,283.4 233.5,283.4 233.5,283.4 235.1,283.4 235.1,284.0 236.8,284.0 236.8,284.4 238.4,284.4 238.4,284.1 240.1,284.1 240.1,283.9 241.8,283.9 241.8,284.1 243.4,284.1 243.4,283.8 245.1,283.8 245.1,283.9 246.7,283.9 246.7,283.4 248.4,283.4 248.4,283.1 250.1,283.1 250.1,283.1 251.7,283.1 251.7,283.1 253.4,283.1 253.4,282.7 255.0,282.7 255.0,282.8 256.7,282.8 256.7,282.7 258.4,282.7 258.4,282.5 260.0,282.5 260.0,282.5 261.7,282.5 261.7,282.6 263.3,282.6 263.3,282.4 265.0,282.4 265.0,282.2 266.7,282.2 266.7,281.8 268.3,281.8 268.3,281.3 270.0,281.3 270.0,280.6 271.6,280.6 271.6,279.4 273.3,279.4 273.3,277.1 275.0,277.1 275.0,274.4 276.6,274.4 276.6,271.4 278.3,271.4 278.3,269.0 279.9,269.0 279.9,267.4 281.6,267.4 281.6,267.2 283.3,267.2 283.3,268.5 284.9,268.5 284.9,271.0 286.6,271.0 286.6,273.9 288.2,273.9 288.2,276.3 289.9,276.3 289.9,278.2 291.6,278.2 291.6,279.3 293.2,279.3 293.2,280.2 294.9,280.2 294.9,280.6 296.5,280.6 296.5,281.0 298.2,281.0 298.2,281.2 299.9,281.2 299.9,281.5 301.5,281.5 301.5,281.7 303.2,281.7 303.2,281.8 304.8,281.8 304.8,281.6 306.5,281.6 306.5,281.9 308.2,281.9 308.2,281.8 309.8,281.8 309.8,282.3 311.5,282.3 311.5,282.5 313.1,282.5 313.1,282.5 314.8,282.5 314.8,282.3 316.5,282.3 316.5,282.7 318.1,282.7 318.1,282.9 319.8,282.9 319.8,283.2 321.4,283.2 321.4,282.8 323.1,282.8 323.1,282.7 324.8,282.7 324.8,282.8 326.4,282.8 326.4,283.2 328.1,283.2 328.1,283.2 329.7,283.2 329.7,283.2 331.4,283.2 331.4,283.7 333.1,283.7 333.1,283.7 334.7,283.7 334.7,284.0 336.4,284.0 336.4,284.3 338.0,284.3 338.0,284.1 339.7,284.1 339.7,284.5 341.4,284.5 341.4,284.6 343.0,284.6 343.0,284.4 344.7,284.4 344.7,285.0 346.3,285.0 346.3,285.4 348.0,285.4 348.0,285.3 349.7,285.3 349.7,285.6 351.3,285.6 351.3,285.2 353.0,285.2 353.0,285.1 354.6,285.1 354.6,285.4 356.3,285.4 356.3,285.3 358.0,285.3 358.0,284.8 359.6,284.8 359.6,285.1 361.3,285.1 361.3,285.6 362.9,285.6 362.9,285.7 364.6,285.7" fill="none" stroke="#DE2D26" stroke-width="1.4" stroke-linejoin="round" stroke-linejoin="miter"/>
</g>
<rect x="198.60" y="172.60" width="166.00" height="133.50" fill="none" stroke="#111" stroke-width="1.3" />
<text x="281.90" y="168.60" font-size="9" text-anchor="middle" fill="#222" >liver hypo DHMRs</text>
<text x="198.60" y="314.70" font-size="9" text-anchor="start" fill="#222" >-3kb</text>
<text x="281.60" y="314.70" font-size="9" text-anchor="middle" fill="#222" >center</text>
<text x="372.90" y="314.70" font-size="9" text-anchor="end" fill="#222" >3kb</text>
<line x1="203.30" y1="181.00" x2="209.80" y2="181.00" stroke="#FCAE91" stroke-width="1.8" />
<text x="212.00" y="183.70" font-size="9" text-anchor="start" fill="#222" >old</text>
<line x1="203.30" y1="190.00" x2="209.80" y2="190.00" stroke="#FB6A4A" stroke-width="1.8" />
<text x="212.00" y="192.70" font-size="9" text-anchor="start" fill="#222" >old</text>
<line x1="203.30" y1="198.60" x2="209.80" y2="198.60" stroke="#DE2D26" stroke-width="1.8" />
<text x="212.00" y="201.30" font-size="9" text-anchor="start" fill="#222" >old</text>
<line x1="203.30" y1="207.40" x2="209.80" y2="207.40" stroke="#A50F15" stroke-width="1.8" />
<text x="212.00" y="210.10" font-size="9" text-anchor="start" fill="#222" >old</text>
<text x="0.10" y="349.80" font-size="20" text-anchor="start" fill="#111" >D</text>
<text x="43.80" y="357.20" font-size="9" text-anchor="end" fill="#222" >young</text>
<text x="43.80" y="372.69" font-size="9" text-anchor="end" fill="#222" >young</text>
<text x="43.80" y="388.18" font-size="9" text-anchor="end" fill="#222" >young</text>
<text x="43.80" y="403.67" font-size="9" text-anchor="end" fill="#222" >young</text>
<text x="43.80" y="419.16" font-size="9" text-anchor="end" fill="#222" >old</text>
<text x="43.80" y="434.65" font-size="9" text-anchor="end" fill="#222" >old</text>
<text x="43.80" y="450.14" font-size="9" text-anchor="end" fill="#222" >old</text>
<text x="43.80" y="465.63" font-size="9" text-anchor="end" fill="#222" >old</text>
<text x="43.80" y="481.12" font-size="9" text-anchor="end" fill="#222" >young&amp;old</text>
<text x="125.50" y="337.30" font-size="9" text-anchor="middle" fill="#222" >liver hyper DHMR</text>
<text x="52.60" y="357.20" font-size="9" text-anchor="start" fill="#222" >[0-20]</text>
<text x="52.60" y="372.69" font-size="9" text-anchor="start" fill="#222" >[0-20]</text>
<text x="52.60" y="388.18" font-size="9" text-anchor="start" fill="#222" >[0-20]</text>
<text x="52.60" y="403.67" font-size="9" text-anchor="start" fill="#222" >[0-20]</text>
<text x="52.60" y="419.16" font-size="9" text-anchor="start" fill="#222" >[0-20]</text>
<text x="52.60" y="434.65" font-size="9" text-anchor="start" fill="#222" >[0-20]</text>
<text x="52.60" y="450.14" font-size="9" text-anchor="start" fill="#222" >[0-20]</text>
<text x="52.60" y="465.63" font-size="9" text-anchor="start" fill="#222" >[0-20]</text>
<text x="52.60" y="481.12" font-size="9" text-anchor="start" fill="#222" >[0-20]</text>
<text x="291.70" y="337.30" font-size="9" text-anchor="middle" fill="#222" >liver hyper DHMR</text>
<text x="199.20" y="357.20" font-size="9" text-anchor="start" fill="#222" >[0-50]</text>
<text x="199.20" y="372.69" font-size="9" text-anchor="start" fill="#222" >[0-50]</text>
<text x="199.20" y="388.18" font-size="9" text-anchor="start" fill="#222" >[0-50]</text>
<text x="199.20" y="403.67" font-size="9" text-anchor="start" fill="#222" >[0-50]</text>
<text x="199.20" y="419.16" font-size="9" text-anchor="start" fill="#222" >[0-50]</text>
<text x="199.20" y="434.65" font-size="9" text-anchor="start" fill="#222" >[0-50]</text>
<text x="199.20" y="450.14" font-size="9" text-anchor="start" fill="#222" >[0-50]</text>
<text x="199.20" y="465.63" font-size="9" text-anchor="start" fill="#222" >[0-50]</text>
<text x="199.20" y="481.12" font-size="9" text-anchor="start" fill="#222" >[0-50]</text>
<text x="443.00" y="337.30" font-size="9" text-anchor="middle" fill="#222" >liver hypo DHMR</text>
<text x="357.00" y="357.20" font-size="9" text-anchor="start" fill="#222" >[0-100]</text>
<text x="357.00" y="372.69" font-size="9" text-anchor="start" fill="#222" >[0-100]</text>
<text x="357.00" y="388.18" font-size="9" text-anchor="start" fill="#222" >[0-100]</text>
<text x="357.00" y="403.67" font-size="9" text-anchor="start" fill="#222" >[0-100]</text>
<text x="357.00" y="419.16" font-size="9" text-anchor="start" fill="#222" >[0-100]</text>
<text x="357.00" y="434.65" font-size="9" text-anchor="start" fill="#222" >[0-100]</text>
<text x="357.00" y="450.14" font-size="9" text-anchor="start" fill="#222" >[0-100]</text>
<text x="357.00" y="465.63" font-size="9" text-anchor="start" fill="#222" >[0-100]</text>
<text x="357.00" y="481.12" font-size="9" text-anchor="start" fill="#222" >[0-100]</text>
<text x="603.50" y="337.30" font-size="9" text-anchor="middle" fill="#222" >liver hypo DHMR</text>
<text x="514.20" y="357.20" font-size="9" text-anchor="start" fill="#222" >[0-50]</text>
<text x="514.20" y="372.69" font-size="9" text-anchor="start" fill="#222" >[0-50]</text>
<text x="514.20" y="388.18" font-size="9" text-anchor="start" fill="#222" >[0-50]</text>
<text x="514.20" y="403.67" font-size="9" text-anchor="start" fill="#222" >[0-50]</text>
<text x="514.20" y="419.16" font-size="9" text-anchor="start" fill="#222" >[0-50]</text>
<text x="514.20" y="434.65" font-size="9" text-anchor="start" fill="#222" >[0-50]</text>
<text x="514.20" y="450.14" font-size="9" text-anchor="start" fill="#222" >[0-50]</text>
<text x="514.20" y="465.63" font-size="9" text-anchor="start" fill="#222" >[0-50]</text>
<text x="514.20" y="481.12" font-size="9" text-anchor="start" fill="#222" >[0-50]</text>
<line x1="49.90" y1="361.30" x2="184.00" y2="361.30" stroke="#F67EF6" stroke-width="1.2" />
<line x1="57.50" y1="361.30" x2="70.70" y2="361.30" stroke="#9A9A9A" stroke-width="1.1" />
<line x1="90.40" y1="361.30" x2="93.60" y2="361.30" stroke="#9A9A9A" stroke-width="1.1" />
<line x1="49.90" y1="376.79" x2="184.00" y2="376.79" stroke="#F67EF6" stroke-width="1.2" />
<line x1="157.90" y1="376.79" x2="164.00" y2="376.79" stroke="#9A9A9A" stroke-width="1.1" />
<line x1="174.00" y1="376.79" x2="180.00" y2="376.79" stroke="#9A9A9A" stroke-width="1.1" />
<polygon points="163.9,376.7 163.9,376.1 165.4,376.1 165.4,375.5 166.9,375.5 166.9,375.2 168.4,375.2 168.4,375.2 169.9,375.2 169.9,375.3 171.4,375.3 171.4,375.6 172.9,375.6 172.9,376.0 174.4,376.0 174.4,376.2 175.9,376.2 175.9,376.2 177.4,376.2 177.4,376.3 178.9,376.3 178.9,376.7" fill="#111" />
<line x1="49.90" y1="392.28" x2="184.00" y2="392.28" stroke="#F67EF6" stroke-width="1.2" />
<line x1="49.90" y1="392.28" x2="60.80" y2="392.28" stroke="#9A9A9A" stroke-width="1.1" />
<line x1="84.00" y1="392.28" x2="105.70" y2="392.28" stroke="#9A9A9A" stroke-width="1.1" />
<line x1="125.80" y1="392.28" x2="138.50" y2="392.28" stroke="#9A9A9A" stroke-width="1.1" />
<line x1="174.00" y1="392.28" x2="180.00" y2="392.28" stroke="#9A9A9A" stroke-width="1.1" />
<polygon points="154.9,392.2 154.9,391.4 156.4,391.4 156.4,390.5 157.9,390.5 157.9,390.5 159.4,390.5 159.4,391.3 160.9,391.3 160.9,392.2" fill="#111" />
<line x1="49.90" y1="407.77" x2="184.00" y2="407.77" stroke="#F67EF6" stroke-width="1.2" />
<line x1="49.90" y1="407.77" x2="79.00" y2="407.77" stroke="#9A9A9A" stroke-width="1.1" />
<line x1="90.00" y1="407.77" x2="125.00" y2="407.77" stroke="#9A9A9A" stroke-width="1.1" />
<line x1="142.00" y1="407.77" x2="148.00" y2="407.77" stroke="#9A9A9A" stroke-width="1.1" />
<line x1="180.00" y1="407.77" x2="183.00" y2="407.77" stroke="#9A9A9A" stroke-width="1.1" />
<polygon points="81.4,407.7 81.4,407.0 82.9,407.0 82.9,406.9 84.4,406.9 84.4,406.9 85.9,406.9 85.9,407.0 87.4,407.0 87.4,407.3 88.9,407.3 88.9,407.7" fill="#111" />
<polygon points="150.4,407.7 150.4,407.1 151.9,407.1 151.9,406.7 153.4,406.7 153.4,406.7 154.9,406.7 154.9,407.1 156.4,407.1 156.4,407.7" fill="#111" />
<polygon points="181.9,407.7 181.9,406.8 183.4,406.8 183.4,407.7" fill="#111" />
<line x1="49.90" y1="423.26" x2="184.00" y2="423.26" stroke="#F67EF6" stroke-width="1.2" />
<polygon points="70.5,423.2 70.5,421.6 83.5,421.6 83.5,423.2" fill="#F7806E" />
<polygon points="112.6,423.2 112.6,421.2 116.3,421.2 116.3,418.7 119.2,418.7 119.2,415.3 121.7,415.3 121.7,415.7 125.0,415.7 125.0,416.4 128.6,416.4 128.6,420.7 132.1,420.7 132.1,423.2" fill="#F7806E" />
<line x1="49.90" y1="438.75" x2="184.00" y2="438.75" stroke="#F67EF6" stroke-width="1.2" />
<polygon points="112.8,438.6 112.8,437.1 115.8,437.1 115.8,434.1 119.2,434.1 119.2,428.8 122.2,428.8 122.2,426.4 128.6,426.4 128.6,431.2 131.8,431.2 131.8,434.6 135.1,434.6 135.1,437.9 138.0,437.9 138.0,438.6" fill="#F7806E" />
<line x1="49.90" y1="454.24" x2="184.00" y2="454.24" stroke="#F67EF6" stroke-width="1.2" />
<polygon points="109.6,454.1 109.6,450.8 112.8,450.8 112.8,441.9 115.8,441.9 115.8,438.9 132.1,438.9 132.1,450.3 135.1,450.3 135.1,454.1" fill="#F7806E" />
<line x1="49.90" y1="469.73" x2="184.00" y2="469.73" stroke="#F67EF6" stroke-width="1.2" />
<polygon points="115.8,469.6 115.8,460.7 119.2,460.7 119.2,458.2 122.5,458.2 122.5,457.8 126.0,457.8 126.0,458.2 128.6,458.2 128.6,459.9 131.8,459.9 131.8,465.8 138.5,465.8 138.5,469.6" fill="#F7806E" />
<line x1="49.90" y1="485.22" x2="184.00" y2="485.22" stroke="#F67EF6" stroke-width="1.2" />
<polygon points="70.5,485.1 70.5,483.7 83.5,483.7 83.5,485.1" fill="#F7806E" />
<polygon points="112.6,485.1 112.6,483.9 116.3,483.9 116.3,481.1 119.2,481.1 119.2,478.2 121.7,478.2 121.7,478.5 125.0,478.5 125.0,479.1 128.6,479.1 128.6,483.6 132.1,483.6 132.1,485.1" fill="#F7806E" />
<g opacity="0.45">
<polygon points="112.6,485.1 112.6,484.1 132.1,484.1 132.1,485.1" fill="#300" />
</g>
<line x1="218.50" y1="361.30" x2="343.80" y2="361.30" stroke="#F67EF6" stroke-width="1.2" />
<polygon points="284.8,361.2 284.8,360.5 286.1,360.5 286.1,360.1 287.4,360.1 287.4,359.8 288.7,359.8 288.7,359.7 290.0,359.7 290.0,359.9 291.3,359.9 291.3,360.3 292.6,360.3 292.6,360.7 293.9,360.7 293.9,361.2" fill="#111" />
<polygon points="297.8,361.2 297.8,360.6 299.1,360.6 299.1,360.2 300.4,360.2 300.4,359.6 301.7,359.6 301.7,359.3 303.0,359.3 303.0,359.3 304.3,359.3 304.3,359.6 305.6,359.6 305.6,360.2 306.9,360.2 306.9,360.7 308.2,360.7 308.2,361.2" fill="#111" />
<line x1="218.50" y1="376.79" x2="343.80" y2="376.79" stroke="#F67EF6" stroke-width="1.2" />
<polygon points="283.5,376.7 283.5,376.3 284.8,376.3 284.8,375.9 286.1,375.9 286.1,375.1 287.4,375.1 287.4,374.3 288.7,374.3 288.7,373.8 290.0,373.8 290.0,373.8 291.3,373.8 291.3,374.3 292.6,374.3 292.6,374.9 293.9,374.9 293.9,375.3 295.2,375.3 295.2,375.3 296.5,375.3 296.5,375.4 297.8,375.4 297.8,375.7 299.1,375.7 299.1,376.2 300.4,376.2 300.4,376.7" fill="#111" />
<line x1="218.50" y1="392.28" x2="343.80" y2="392.28" stroke="#F67EF6" stroke-width="1.2" />
<polygon points="284.8,392.2 284.8,391.7 286.1,391.7 286.1,391.4 287.4,391.4 287.4,391.1 288.7,391.1 288.7,390.9 290.0,390.9 290.0,390.7 291.3,390.7 291.3,390.6 292.6,390.6 292.6,390.6 293.9,390.6 293.9,390.8 295.2,390.8 295.2,391.1 296.5,391.1 296.5,391.4 297.8,391.4 297.8,391.7 299.1,391.7 299.1,392.2" fill="#111" />
<line x1="218.50" y1="407.77" x2="343.80" y2="407.77" stroke="#F67EF6" stroke-width="1.2" />
<polygon points="287.4,407.7 287.4,407.2 288.7,407.2 288.7,407.1 290.0,407.1 290.0,406.9 291.3,406.9 291.3,406.9 292.6,406.9 292.6,406.9 293.9,406.9 293.9,407.1 295.2,407.1 295.2,407.2 296.5,407.2 296.5,407.7" fill="#111" />
<polygon points="304.3,407.7 304.3,407.3 305.6,407.3 305.6,406.8 306.9,406.8 306.9,406.3 308.2,406.3 308.2,405.8 309.5,405.8 309.5,405.7 310.8,405.7 310.8,405.9 312.1,405.9 312.1,406.4 313.4,406.4 313.4,407.0 314.7,407.0 314.7,407.7" fill="#111" />
<line x1="218.50" y1="423.26" x2="343.80" y2="423.26" stroke="#F67EF6" stroke-width="1.2" />
<polygon points="286.1,423.2 286.1,422.4 287.4,422.4 287.4,420.7 288.7,420.7 288.7,418.0 290.0,418.0 290.0,415.1 291.3,415.1 291.3,413.2 292.6,413.2 292.6,412.5 293.9,412.5 293.9,412.3 295.2,412.3 295.2,412.7 296.5,412.7 296.5,414.4 297.8,414.4 297.8,417.0 299.1,417.0 299.1,419.6 300.4,419.6 300.4,421.5 301.7,421.5 301.7,422.4 303.0,422.4 303.0,423.2" fill="#F7806E" />
<line x1="218.50" y1="438.75" x2="343.80" y2="438.75" stroke="#F67EF6" stroke-width="1.2" />
<polygon points="284.8,438.6 284.8,437.7 286.1,437.7 286.1,435.8 287.4,435.8 287.4,432.8 288.7,432.8 288.7,429.8 290.0,429.8 290.0,428.0 291.3,428.0 291.3,427.4 292.6,427.4 292.6,427.2 293.9,427.2 293.9,427.9 295.2,427.9 295.2,429.8 296.5,429.8 296.5,432.5 297.8,432.5 297.8,434.8 299.1,434.8 299.1,436.2 300.4,436.2 300.4,436.9 301.7,436.9 301.7,437.4 303.0,437.4 303.0,437.8 304.3,437.8 304.3,438.2 305.6,438.2 305.6,438.6" fill="#F7806E" />
<line x1="218.50" y1="454.24" x2="343.80" y2="454.24" stroke="#F67EF6" stroke-width="1.2" />
<polygon points="257.5,454.1 257.5,453.7 258.8,453.7 258.8,453.5 260.1,453.5 260.1,453.3 261.4,453.3 261.4,453.4 262.7,453.4 262.7,453.6 264.0,453.6 264.0,454.1" fill="#F7806E" />
<polygon points="284.8,454.1 284.8,453.5 286.1,453.5 286.1,452.0 287.4,452.0 287.4,449.2 288.7,449.2 288.7,445.9 290.0,445.9 290.0,443.5 291.3,443.5 291.3,442.3 292.6,442.3 292.6,442.0 293.9,442.0 293.9,442.2 295.2,442.2 295.2,443.8 296.5,443.8 296.5,446.5 297.8,446.5 297.8,449.3 299.1,449.3 299.1,451.2 300.4,451.2 300.4,452.3 301.7,452.3 301.7,452.8 303.0,452.8 303.0,453.3 304.3,453.3 304.3,453.7 305.6,453.7 305.6,454.1" fill="#F7806E" />
<line x1="218.50" y1="469.73" x2="343.80" y2="469.73" stroke="#F67EF6" stroke-width="1.2" />
<polygon points="286.1,469.6 286.1,468.3 287.4,468.3 287.4,466.1 288.7,466.1 288.7,463.0 290.0,463.0 290.0,460.3 291.3,460.3 291.3,458.8 292.6,458.8 292.6,458.3 293.9,458.3 293.9,458.2 295.2,458.2 295.2,459.2 296.5,459.2 296.5,461.4 297.8,461.4 297.8,464.1 299.1,464.1 299.1,466.2 300.4,466.2 300.4,467.4 301.7,467.4 301.7,468.0 303.0,468.0 303.0,468.5 304.3,468.5 304.3,468.9 305.6,468.9 305.6,469.2 306.9,469.2 306.9,469.6" fill="#F7806E" />
<polygon points="286.1,485.1 286.1,484.4 287.4,484.4 287.4,482.8 288.7,482.8 288.7,479.9 290.0,479.9 290.0,477.0 291.3,477.0 291.3,475.4 292.6,475.4 292.6,475.1 293.9,475.1 293.9,475.4 295.2,475.4 295.2,476.9 296.5,476.9 296.5,479.7 297.8,479.7 297.8,482.6 299.1,482.6 299.1,484.4 300.4,484.4 300.4,485.1" fill="#F7806E" />
<polygon points="291.3,485.1 291.3,484.6 292.6,484.6 292.6,484.4 293.9,484.4 293.9,484.3 295.2,484.3 295.2,484.1 296.5,484.1 296.5,484.1 297.8,484.1 297.8,484.1 299.1,484.1 299.1,484.1 300.4,484.1 300.4,484.2 301.7,484.2 301.7,484.2 303.0,484.2 303.0,484.3 304.3,484.3 304.3,484.5 305.6,484.5 305.6,484.7 306.9,484.7 306.9,485.1" fill="#444" />
<line x1="376.80" y1="360.90" x2="509.50" y2="360.90" stroke="#222" stroke-width="1.0" />
<line x1="377.60" y1="360.90" x2="384.70" y2="360.90" stroke="#F67EF6" stroke-width="1.1" />
<line x1="403.10" y1="360.90" x2="405.50" y2="360.90" stroke="#F67EF6" stroke-width="1.1" />
<line x1="408.00" y1="360.90" x2="410.00" y2="360.90" stroke="#F67EF6" stroke-width="1.1" />
<line x1="423.00" y1="360.90" x2="428.00" y2="360.90" stroke="#F67EF6" stroke-width="1.1" />
<line x1="454.70" y1="360.90" x2="457.30" y2="360.90" stroke="#F67EF6" stroke-width="1.1" />
<line x1="460.50" y1="360.90" x2="480.40" y2="360.90" stroke="#F67EF6" stroke-width="1.1" />
<line x1="488.60" y1="360.90" x2="490.00" y2="360.90" stroke="#F67EF6" stroke-width="1.1" />
<polygon points="384.6,361.2 384.6,360.2 385.9,360.2 385.9,358.7 387.2,358.7 387.2,357.0 388.5,357.0 388.5,355.5 389.8,355.5 389.8,354.8 391.1,354.8 391.1,354.7 392.4,354.7 392.4,354.7 393.7,354.7 393.7,355.2 395.0,355.2 395.0,356.3 396.3,356.3 396.3,357.9 397.6,357.9 397.6,359.3 398.9,359.3 398.9,360.1 400.2,360.1 400.2,360.5 401.5,360.5 401.5,360.8 402.8,360.8 402.8,361.2" fill="#111" />
<polygon points="426.2,361.2 426.2,360.8 427.5,360.8 427.5,360.5 428.8,360.5 428.8,360.0 430.1,360.0 430.1,359.1 431.4,359.1 431.4,358.0 432.7,358.0 432.7,356.5 434.0,356.5 434.0,354.7 435.3,354.7 435.3,352.7 436.6,352.7 436.6,350.8 437.9,350.8 437.9,349.2 439.2,349.2 439.2,348.2 440.5,348.2 440.5,347.9 441.8,347.9 441.8,348.4 443.1,348.4 443.1,349.6 444.4,349.6 444.4,351.3 445.7,351.3 445.7,353.2 447.0,353.2 447.0,355.1 448.3,355.1 448.3,356.9 449.6,356.9 449.6,358.3 450.9,358.3 450.9,359.4 452.2,359.4 452.2,360.1 453.5,360.1 453.5,360.6 454.8,360.6 454.8,361.2" fill="#111" />
<polygon points="483.4,361.2 483.4,360.8 484.7,360.8 484.7,360.6 486.0,360.6 486.0,360.6 487.3,360.6 487.3,360.8 488.6,360.8 488.6,361.2" fill="#111" />
<polygon points="489.9,361.2 489.9,360.8 491.2,360.8 491.2,360.4 492.5,360.4 492.5,359.7 493.8,359.7 493.8,358.9 495.1,358.9 495.1,358.1 496.4,358.1 496.4,357.6 497.7,357.6 497.7,357.4 499.0,357.4 499.0,357.4 500.3,357.4 500.3,357.6 501.6,357.6 501.6,358.1 502.9,358.1 502.9,358.9 504.2,358.9 504.2,359.7 505.5,359.7 505.5,360.4 506.8,360.4 506.8,361.2" fill="#111" />
<line x1="376.80" y1="376.39" x2="509.50" y2="376.39" stroke="#222" stroke-width="1.0" />
<line x1="398.50" y1="376.39" x2="407.70" y2="376.39" stroke="#F67EF6" stroke-width="1.1" />
<line x1="421.70" y1="376.39" x2="423.00" y2="376.39" stroke="#F67EF6" stroke-width="1.1" />
<line x1="455.00" y1="376.39" x2="477.50" y2="376.39" stroke="#F67EF6" stroke-width="1.1" />
<polygon points="384.6,376.7 384.6,376.3 385.9,376.3 385.9,375.5 387.2,375.5 387.2,374.1 388.5,374.1 388.5,372.4 389.8,372.4 389.8,371.3 391.1,371.3 391.1,370.8 392.4,370.8 392.4,370.7 393.7,370.7 393.7,370.8 395.0,370.8 395.0,371.3 396.3,371.3 396.3,372.5 397.6,372.5 397.6,374.2 398.9,374.2 398.9,375.6 400.2,375.6 400.2,376.7" fill="#111" />
<polygon points="411.9,376.7 411.9,376.1 413.2,376.1 413.2,375.6 414.5,375.6 414.5,375.1 415.8,375.1 415.8,374.7 417.1,374.7 417.1,374.8 418.4,374.8 418.4,375.2 419.7,375.2 419.7,375.7 421.0,375.7 421.0,376.2 422.3,376.2 422.3,376.7" fill="#111" />
<polygon points="427.5,376.7 427.5,376.2 428.8,376.2 428.8,375.8 430.1,375.8 430.1,375.1 431.4,375.1 431.4,374.1 432.7,374.1 432.7,372.8 434.0,372.8 434.0,371.2 435.3,371.2 435.3,369.4 436.6,369.4 436.6,367.5 437.9,367.5 437.9,366.0 439.2,366.0 439.2,365.0 440.5,365.0 440.5,364.7 441.8,364.7 441.8,365.2 443.1,365.2 443.1,366.3 444.4,366.3 444.4,367.9 445.7,367.9 445.7,369.8 447.0,369.8 447.0,371.6 448.3,371.6 448.3,373.1 449.6,373.1 449.6,374.4 450.9,374.4 450.9,375.3 452.2,375.3 452.2,375.9 453.5,375.9 453.5,376.3 454.8,376.3 454.8,376.7" fill="#111" />
<polygon points="483.4,376.7 483.4,376.1 484.7,376.1 484.7,375.6 486.0,375.6 486.0,375.2 487.3,375.2 487.3,375.3 488.6,375.3 488.6,375.7 489.9,375.7 489.9,376.0 491.2,376.0 491.2,375.8 492.5,375.8 492.5,375.1 493.8,375.1 493.8,374.2 495.1,374.2 495.1,373.4 496.4,373.4 496.4,372.9 497.7,372.9 497.7,372.7 499.0,372.7 499.0,372.7 500.3,372.7 500.3,372.9 501.6,372.9 501.6,373.4 502.9,373.4 502.9,374.2 504.2,374.2 504.2,375.1 505.5,375.1 505.5,375.9 506.8,375.9 506.8,376.3 508.1,376.3 508.1,376.7" fill="#111" />
<line x1="376.80" y1="391.88" x2="509.50" y2="391.88" stroke="#222" stroke-width="1.0" />
<line x1="381.00" y1="391.88" x2="383.00" y2="391.88" stroke="#F67EF6" stroke-width="1.1" />
<line x1="398.00" y1="391.88" x2="412.00" y2="391.88" stroke="#F67EF6" stroke-width="1.1" />
<line x1="452.60" y1="391.88" x2="459.00" y2="391.88" stroke="#F67EF6" stroke-width="1.1" />
<line x1="469.00" y1="391.88" x2="479.00" y2="391.88" stroke="#F67EF6" stroke-width="1.1" />
<polygon points="382.0,392.2 382.0,391.7 383.3,391.7 383.3,390.9 384.6,390.9 384.6,389.6 385.9,389.6 385.9,388.3 387.2,388.3 387.2,387.5 388.5,387.5 388.5,387.2 389.8,387.2 389.8,387.2 391.1,387.2 391.1,387.3 392.4,387.3 392.4,388.0 393.7,388.0 393.7,389.1 395.0,389.1 395.0,390.5 396.3,390.5 396.3,391.5 397.6,391.5 397.6,392.2" fill="#111" />
<polygon points="409.3,392.2 409.3,391.7 410.6,391.7 410.6,391.5 411.9,391.5 411.9,391.5 413.2,391.5 413.2,391.7 414.5,391.7 414.5,392.2" fill="#111" />
<polygon points="421.0,392.2 421.0,391.8 422.3,391.8 422.3,391.5 423.6,391.5 423.6,391.1 424.9,391.1 424.9,390.4 426.2,390.4 426.2,389.6 427.5,389.6 427.5,388.4 428.8,388.4 428.8,387.0 430.1,387.0 430.1,385.3 431.4,385.3 431.4,383.3 432.7,383.3 432.7,381.2 434.0,381.2 434.0,379.2 435.3,379.2 435.3,377.5 436.6,377.5 436.6,377.0 437.9,377.0 437.9,377.0 439.2,377.0 439.2,377.3 440.5,377.3 440.5,378.9 441.8,378.9 441.8,380.9 443.1,380.9 443.1,383.0 444.4,383.0 444.4,385.0 445.7,385.0 445.7,386.7 447.0,386.7 447.0,388.2 448.3,388.2 448.3,389.4 449.6,389.4 449.6,390.3 450.9,390.3 450.9,391.0 452.2,391.0 452.2,391.4 453.5,391.4 453.5,391.7 454.8,391.7 454.8,392.2" fill="#111" />
<polygon points="491.2,392.2 491.2,391.4 492.5,391.4 492.5,390.5 493.8,390.5 493.8,389.2 495.1,389.2 495.1,387.9 496.4,387.9 496.4,387.0 497.7,387.0 497.7,386.7 499.0,386.7 499.0,386.7 500.3,386.7 500.3,387.0 501.6,387.0 501.6,387.9 502.9,387.9 502.9,389.2 504.2,389.2 504.2,390.5 505.5,390.5 505.5,391.4 506.8,391.4 506.8,392.2" fill="#111" />
<line x1="376.80" y1="407.37" x2="509.50" y2="407.37" stroke="#222" stroke-width="1.0" />
<line x1="397.80" y1="407.37" x2="400.00" y2="407.37" stroke="#F67EF6" stroke-width="1.1" />
<line x1="410.00" y1="407.37" x2="413.00" y2="407.37" stroke="#F67EF6" stroke-width="1.1" />
<line x1="423.00" y1="407.37" x2="428.00" y2="407.37" stroke="#F67EF6" stroke-width="1.1" />
<line x1="452.00" y1="407.37" x2="459.00" y2="407.37" stroke="#F67EF6" stroke-width="1.1" />
<line x1="467.00" y1="407.37" x2="480.00" y2="407.37" stroke="#F67EF6" stroke-width="1.1" />
<line x1="487.00" y1="407.37" x2="492.00" y2="407.37" stroke="#F67EF6" stroke-width="1.1" />
<polygon points="383.3,407.7 383.3,407.0 384.6,407.0 384.6,406.2 385.9,406.2 385.9,405.3 387.2,405.3 387.2,404.6 388.5,404.6 388.5,404.3 389.8,404.3 389.8,404.2 391.1,404.2 391.1,404.2 392.4,404.2 392.4,404.3 393.7,404.3 393.7,404.7 395.0,404.7 395.0,405.4 396.3,405.4 396.3,406.0 397.6,406.0 397.6,406.4 398.9,406.4 398.9,406.5 400.2,406.5 400.2,406.7 401.5,406.7 401.5,407.1 402.8,407.1 402.8,407.7" fill="#111" />
<polygon points="413.2,407.7 413.2,407.2 414.5,407.2 414.5,406.9 415.8,406.9 415.8,406.9 417.1,406.9 417.1,407.1 418.4,407.1 418.4,407.7" fill="#111" />
<polygon points="426.2,407.7 426.2,407.3 427.5,407.3 427.5,407.0 428.8,407.0 428.8,406.7 430.1,406.7 430.1,406.1 431.4,406.1 431.4,405.4 432.7,405.4 432.7,404.5 434.0,404.5 434.0,403.4 435.3,403.4 435.3,402.2 436.6,402.2 436.6,401.1 437.9,401.1 437.9,400.0 439.2,400.0 439.2,399.2 440.5,399.2 440.5,398.8 441.8,398.8 441.8,398.7 443.1,398.7 443.1,399.0 444.4,399.0 444.4,399.8 445.7,399.8 445.7,400.7 447.0,400.7 447.0,401.9 448.3,401.9 448.3,403.1 449.6,403.1 449.6,404.2 450.9,404.2 450.9,405.1 452.2,405.1 452.2,405.9 453.5,405.9 453.5,406.5 454.8,406.5 454.8,406.9 456.1,406.9 456.1,407.2 457.4,407.2 457.4,407.7" fill="#111" />
<polygon points="479.5,407.7 479.5,407.3 480.8,407.3 480.8,407.1 482.1,407.1 482.1,407.1 483.4,407.1 483.4,407.3 484.7,407.3 484.7,407.7" fill="#111" />
<polygon points="492.5,407.7 492.5,406.9 493.8,406.9 493.8,406.1 495.1,406.1 495.1,405.0 496.4,405.0 496.4,404.1 497.7,404.1 497.7,403.5 499.0,403.5 499.0,403.3 500.3,403.3 500.3,403.3 501.6,403.3 501.6,403.7 502.9,403.7 502.9,404.5 504.2,404.5 504.2,405.5 505.5,405.5 505.5,406.5 506.8,406.5 506.8,407.2 508.1,407.2 508.1,407.7" fill="#111" />
<line x1="376.80" y1="423.26" x2="509.50" y2="423.26" stroke="#F67EF6" stroke-width="1.2" />
<polygon points="383.3,423.2 383.3,422.7 384.6,422.7 384.6,422.3 385.9,422.3 385.9,421.7 387.2,421.7 387.2,421.0 388.5,421.0 388.5,420.4 389.8,420.4 389.8,420.0 391.1,420.0 391.1,420.0 392.4,420.0 392.4,420.5 393.7,420.5 393.7,421.1 395.0,421.1 395.0,421.8 396.3,421.8 396.3,422.4 397.6,422.4 397.6,422.8 398.9,422.8 398.9,423.2" fill="#F7806E" />
<polygon points="431.4,423.2 431.4,422.7 432.7,422.7 432.7,422.6 434.0,422.6 434.0,422.6 435.3,422.6 435.3,422.7 436.6,422.7 436.6,423.2" fill="#F7806E" />
<polygon points="492.5,423.2 492.5,422.8 493.8,422.8 493.8,422.5 495.1,422.5 495.1,422.1 496.4,422.1 496.4,421.8 497.7,421.8 497.7,421.6 499.0,421.6 499.0,421.6 500.3,421.6 500.3,421.8 501.6,421.8 501.6,422.1 502.9,422.1 502.9,422.5 504.2,422.5 504.2,422.8 505.5,422.8 505.5,423.2" fill="#F7806E" />
<line x1="376.80" y1="438.75" x2="509.50" y2="438.75" stroke="#F67EF6" stroke-width="1.2" />
<polygon points="383.3,438.6 383.3,438.1 384.6,438.1 384.6,437.6 385.9,437.6 385.9,436.8 387.2,436.8 387.2,436.0 388.5,436.0 388.5,435.2 389.8,435.2 389.8,434.7 391.1,434.7 391.1,434.7 392.4,434.7 392.4,435.3 393.7,435.3 393.7,436.1 395.0,436.1 395.0,437.0 396.3,437.0 396.3,437.7 397.6,437.7 397.6,438.2 398.9,438.2 398.9,438.6" fill="#F7806E" />
<polygon points="428.8,438.6 428.8,438.1 430.1,438.1 430.1,437.9 431.4,437.9 431.4,437.9 432.7,437.9 432.7,437.9 434.0,437.9 434.0,438.1 435.3,438.1 435.3,438.6" fill="#F7806E" />
<polygon points="483.4,438.6 483.4,438.1 484.7,438.1 484.7,437.9 486.0,437.9 486.0,437.9 487.3,437.9 487.3,438.1 488.6,438.1 488.6,438.6" fill="#F7806E" />
<polygon points="492.5,438.6 492.5,438.1 493.8,438.1 493.8,437.7 495.1,437.7 495.1,437.2 496.4,437.2 496.4,436.8 497.7,436.8 497.7,436.5 499.0,436.5 499.0,436.5 500.3,436.5 500.3,436.8 501.6,436.8 501.6,437.2 502.9,437.2 502.9,437.7 504.2,437.7 504.2,438.1 505.5,438.1 505.5,438.6" fill="#F7806E" />
<line x1="376.80" y1="454.24" x2="509.50" y2="454.24" stroke="#F67EF6" stroke-width="1.2" />
<polygon points="384.6,454.1 384.6,453.5 385.9,453.5 385.9,452.9 387.2,452.9 387.2,452.1 388.5,452.1 388.5,451.2 389.8,451.2 389.8,450.5 391.1,450.5 391.1,450.1 392.4,450.1 392.4,450.3 393.7,450.3 393.7,450.9 395.0,450.9 395.0,451.8 396.3,451.8 396.3,452.6 397.6,452.6 397.6,453.3 398.9,453.3 398.9,453.7 400.2,453.7 400.2,454.1" fill="#F7806E" />
<polygon points="422.3,454.1 422.3,453.7 423.6,453.7 423.6,453.6 424.9,453.6 424.9,453.6 426.2,453.6 426.2,453.7 427.5,453.7 427.5,454.1" fill="#F7806E" />
<polygon points="491.2,454.1 491.2,453.7 492.5,453.7 492.5,453.3 493.8,453.3 493.8,452.8 495.1,452.8 495.1,452.3 496.4,452.3 496.4,452.0 497.7,452.0 497.7,452.0 499.0,452.0 499.0,452.2 500.3,452.2 500.3,452.6 501.6,452.6 501.6,453.1 502.9,453.1 502.9,453.5 504.2,453.5 504.2,454.1" fill="#F7806E" />
<line x1="376.80" y1="469.73" x2="509.50" y2="469.73" stroke="#F67EF6" stroke-width="1.2" />
<polygon points="384.6,469.6 384.6,468.9 385.9,468.9 385.9,468.3 387.2,468.3 387.2,467.4 388.5,467.4 388.5,466.4 389.8,466.4 389.8,465.5 391.1,465.5 391.1,465.1 392.4,465.1 392.4,465.3 393.7,465.3 393.7,466.0 395.0,466.0 395.0,467.0 396.3,467.0 396.3,467.9 397.6,467.9 397.6,468.7 398.9,468.7 398.9,469.2 400.2,469.2 400.2,469.6" fill="#F7806E" />
<polygon points="488.6,469.6 488.6,469.2 489.9,469.2 489.9,469.1 491.2,469.1 491.2,469.6" fill="#F7806E" />
<polygon points="383.3,485.1 383.3,484.6 384.6,484.6 384.6,484.1 385.9,484.1 385.9,483.3 387.2,483.3 387.2,482.4 388.5,482.4 388.5,481.6 389.8,481.6 389.8,481.2 391.1,481.2 391.1,481.2 392.4,481.2 392.4,481.7 393.7,481.7 393.7,482.6 395.0,482.6 395.0,483.4 396.3,483.4 396.3,484.1 397.6,484.1 397.6,484.6 398.9,484.6 398.9,485.1" fill="#F7806E" />
<polygon points="492.5,485.1 492.5,484.6 493.8,484.6 493.8,484.2 495.1,484.2 495.1,483.8 496.4,483.8 496.4,483.4 497.7,483.4 497.7,483.2 499.0,483.2 499.0,483.2 500.3,483.2 500.3,483.4 501.6,483.4 501.6,483.8 502.9,483.8 502.9,484.2 504.2,484.2 504.2,484.6 505.5,484.6 505.5,485.1" fill="#F7806E" />
<g opacity="0.62">
<polygon points="383.3,485.1 383.3,484.4 384.6,484.4 384.6,483.8 385.9,483.8 385.9,482.9 387.2,482.9 387.2,481.8 388.5,481.8 388.5,480.8 389.8,480.8 389.8,480.2 391.1,480.2 391.1,480.2 392.4,480.2 392.4,480.9 393.7,480.9 393.7,481.9 395.0,481.9 395.0,483.0 396.3,483.0 396.3,483.9 397.6,483.9 397.6,484.5 398.9,484.5 398.9,485.1" fill="#000" />
<polygon points="409.3,485.1 409.3,484.7 410.6,484.7 410.6,484.5 411.9,484.5 411.9,484.5 413.2,484.5 413.2,484.6 414.5,484.6 414.5,484.8 415.8,484.8 415.8,485.1" fill="#000" />
<polygon points="422.3,485.1 422.3,484.7 423.6,484.7 423.6,484.5 424.9,484.5 424.9,484.3 426.2,484.3 426.2,483.9 427.5,483.9 427.5,483.5 428.8,483.5 428.8,482.9 430.1,482.9 430.1,482.1 431.4,482.1 431.4,481.2 432.7,481.2 432.7,480.2 434.0,480.2 434.0,479.0 435.3,479.0 435.3,477.7 436.6,477.7 436.6,476.3 437.9,476.3 437.9,475.1 439.2,475.1 439.2,474.1 440.5,474.1 440.5,473.6 441.8,473.6 441.8,474.3 443.1,474.3 443.1,475.4 444.4,475.4 444.4,476.6 445.7,476.6 445.7,478.0 447.0,478.0 447.0,479.3 448.3,479.3 448.3,480.4 449.6,480.4 449.6,481.5 450.9,481.5 450.9,482.3 452.2,482.3 452.2,483.0 453.5,483.0 453.5,483.6 454.8,483.6 454.8,484.0 456.1,484.0 456.1,484.3 457.4,484.3 457.4,484.6 458.7,484.6 458.7,484.7 460.0,484.7 460.0,485.1" fill="#000" />
<polygon points="484.7,485.1 484.7,484.6 486.0,484.6 486.0,484.6 487.3,484.6 487.3,484.8 488.6,484.8 488.6,485.1" fill="#000" />
<polygon points="491.2,485.1 491.2,484.7 492.5,484.7 492.5,484.4 493.8,484.4 493.8,483.8 495.1,483.8 495.1,483.2 496.4,483.2 496.4,482.5 497.7,482.5 497.7,482.2 499.0,482.2 499.0,482.2 500.3,482.2 500.3,482.5 501.6,482.5 501.6,483.2 502.9,483.2 502.9,483.8 504.2,483.8 504.2,484.4 505.5,484.4 505.5,484.7 506.8,484.7 506.8,485.1" fill="#000" />
</g>
<line x1="536.00" y1="360.90" x2="671.80" y2="360.90" stroke="#222" stroke-width="1.0" />
<line x1="536.00" y1="360.90" x2="540.00" y2="360.90" stroke="#F67EF6" stroke-width="1.1" />
<line x1="575.00" y1="360.90" x2="585.00" y2="360.90" stroke="#F67EF6" stroke-width="1.1" />
<line x1="593.00" y1="360.90" x2="599.00" y2="360.90" stroke="#F67EF6" stroke-width="1.1" />
<line x1="622.00" y1="360.90" x2="640.00" y2="360.90" stroke="#F67EF6" stroke-width="1.1" />
<line x1="650.00" y1="360.90" x2="672.00" y2="360.90" stroke="#F67EF6" stroke-width="1.1" />
<polygon points="538.6,361.2 538.6,360.8 539.9,360.8 539.9,360.5 541.2,360.5 541.2,360.2 542.5,360.2 542.5,359.9 543.8,359.9 543.8,359.7 545.1,359.7 545.1,359.7 546.4,359.7 546.4,359.9 547.7,359.9 547.7,360.2 549.0,360.2 549.0,360.5 550.3,360.5 550.3,360.7 551.6,360.7 551.6,360.7 552.9,360.7 552.9,360.4 554.2,360.4 554.2,359.8 555.5,359.8 555.5,359.0 556.8,359.0 556.8,358.1 558.1,358.1 558.1,357.4 559.4,357.4 559.4,357.2 560.7,357.2 560.7,357.4 562.0,357.4 562.0,357.8 563.3,357.8 563.3,358.3 564.6,358.3 564.6,358.6 565.9,358.6 565.9,358.7 567.2,358.7 567.2,358.9 568.5,358.9 568.5,359.2 569.8,359.2 569.8,359.8 571.1,359.8 571.1,360.4 572.4,360.4 572.4,360.8 573.7,360.8 573.7,361.2" fill="#111" />
<polygon points="582.8,361.2 582.8,360.6 584.1,360.6 584.1,360.2 585.4,360.2 585.4,359.6 586.7,359.6 586.7,359.2 588.0,359.2 588.0,359.2 589.3,359.2 589.3,359.6 590.6,359.6 590.6,360.1 591.9,360.1 591.9,360.4 593.2,360.4 593.2,360.6 594.5,360.6 594.5,360.5 595.8,360.5 595.8,360.3 597.1,360.3 597.1,359.8 598.4,359.8 598.4,359.1 599.7,359.1 599.7,358.2 601.0,358.2 601.0,357.1 602.3,357.1 602.3,355.8 603.6,355.8 603.6,354.5 604.9,354.5 604.9,353.2 606.2,353.2 606.2,352.1 607.5,352.1 607.5,351.7 608.8,351.7 608.8,352.3 610.1,352.3 610.1,353.5 611.4,353.5 611.4,354.8 612.7,354.8 612.7,356.2 614.0,356.2 614.0,357.4 615.3,357.4 615.3,358.5 616.6,358.5 616.6,359.3 617.9,359.3 617.9,359.9 619.2,359.9 619.2,360.4 620.5,360.4 620.5,360.6 621.8,360.6 621.8,360.7 623.1,360.7 623.1,360.7 624.4,360.7 624.4,360.5 625.7,360.5 625.7,360.3 627.0,360.3 627.0,360.2 628.3,360.2 628.3,360.2 629.6,360.2 629.6,360.5 630.9,360.5 630.9,360.7 632.2,360.7 632.2,361.2" fill="#111" />
<line x1="536.00" y1="376.39" x2="671.80" y2="376.39" stroke="#222" stroke-width="1.0" />
<line x1="536.00" y1="376.39" x2="539.00" y2="376.39" stroke="#F67EF6" stroke-width="1.1" />
<line x1="572.00" y1="376.39" x2="583.00" y2="376.39" stroke="#F67EF6" stroke-width="1.1" />
<line x1="625.00" y1="376.39" x2="640.00" y2="376.39" stroke="#F67EF6" stroke-width="1.1" />
<line x1="655.00" y1="376.39" x2="672.00" y2="376.39" stroke="#F67EF6" stroke-width="1.1" />
<polygon points="539.9,376.7 539.9,376.2 541.2,376.2 541.2,375.9 542.5,375.9 542.5,375.6 543.8,375.6 543.8,375.3 545.1,375.3 545.1,375.2 546.4,375.2 546.4,375.3 547.7,375.3 547.7,375.5 549.0,375.5 549.0,375.8 550.3,375.8 550.3,376.1 551.6,376.1 551.6,376.7" fill="#111" />
<polygon points="555.5,376.7 555.5,376.3 556.8,376.3 556.8,376.0 558.1,376.0 558.1,375.6 559.4,375.6 559.4,375.1 560.7,375.1 560.7,374.7 562.0,374.7 562.0,374.5 563.3,374.5 563.3,374.6 564.6,374.6 564.6,374.9 565.9,374.9 565.9,375.4 567.2,375.4 567.2,375.8 568.5,375.8 568.5,376.2 569.8,376.2 569.8,376.7" fill="#111" />
<polygon points="578.9,376.7 578.9,376.2 580.2,376.2 580.2,375.9 581.5,375.9 581.5,375.7 582.8,375.7 582.8,375.6 584.1,375.6 584.1,375.5 585.4,375.5 585.4,375.5 586.7,375.5 586.7,375.7 588.0,375.7 588.0,375.9 589.3,375.9 589.3,376.1 590.6,376.1 590.6,376.3 591.9,376.3 591.9,376.7" fill="#111" />
<polygon points="597.1,376.7 597.1,376.3 598.4,376.3 598.4,375.7 599.7,375.7 599.7,374.7 601.0,374.7 601.0,373.1 602.3,373.1 602.3,370.9 603.6,370.9 603.6,368.2 604.9,368.2 604.9,365.6 606.2,365.6 606.2,363.8 607.5,363.8 607.5,363.2 608.8,363.2 608.8,364.0 610.1,364.0 610.1,366.0 611.4,366.0 611.4,368.4 612.7,368.4 612.7,370.6 614.0,370.6 614.0,372.1 615.3,372.1 615.3,373.2 616.6,373.2 616.6,373.9 617.9,373.9 617.9,374.6 619.2,374.6 619.2,375.3 620.5,375.3 620.5,375.9 621.8,375.9 621.8,376.2 623.1,376.2 623.1,376.7" fill="#111" />
<polygon points="624.4,376.7 624.4,376.3 625.7,376.3 625.7,376.1 627.0,376.1 627.0,375.8 628.3,375.8 628.3,375.5 629.6,375.5 629.6,375.3 630.9,375.3 630.9,375.2 632.2,375.2 632.2,375.2 633.5,375.2 633.5,375.4 634.8,375.4 634.8,375.6 636.1,375.6 636.1,375.9 637.4,375.9 637.4,376.1 638.7,376.1 638.7,376.7" fill="#111" />
<polygon points="643.9,376.7 643.9,376.2 645.2,376.2 645.2,375.8 646.5,375.8 646.5,375.7 647.8,375.7 647.8,375.9 649.1,375.9 649.1,376.3 650.4,376.3 650.4,376.7" fill="#111" />
<line x1="536.00" y1="391.88" x2="671.80" y2="391.88" stroke="#222" stroke-width="1.0" />
<line x1="536.00" y1="391.88" x2="542.00" y2="391.88" stroke="#F67EF6" stroke-width="1.1" />
<line x1="544.00" y1="391.88" x2="547.00" y2="391.88" stroke="#F67EF6" stroke-width="1.1" />
<line x1="554.00" y1="391.88" x2="562.00" y2="391.88" stroke="#F67EF6" stroke-width="1.1" />
<line x1="594.00" y1="391.88" x2="601.00" y2="391.88" stroke="#F67EF6" stroke-width="1.1" />
<line x1="622.00" y1="391.88" x2="650.00" y2="391.88" stroke="#F67EF6" stroke-width="1.1" />
<line x1="658.00" y1="391.88" x2="662.00" y2="391.88" stroke="#F67EF6" stroke-width="1.1" />
<line x1="667.00" y1="391.88" x2="672.00" y2="391.88" stroke="#F67EF6" stroke-width="1.1" />
<polygon points="549.0,392.2 549.0,391.8 550.3,391.8 550.3,391.6 551.6,391.6 551.6,391.4 552.9,391.4 552.9,391.4 554.2,391.4 554.2,391.5 555.5,391.5 555.5,391.7 556.8,391.7 556.8,392.2" fill="#111" />
<polygon points="575.0,392.2 575.0,391.7 576.3,391.7 576.3,391.3 577.6,391.3 577.6,390.8 578.9,390.8 578.9,390.2 580.2,390.2 580.2,389.8 581.5,389.8 581.5,389.7 582.8,389.7 582.8,389.9 584.1,389.9 584.1,390.3 585.4,390.3 585.4,390.9 586.7,390.9 586.7,391.4 588.0,391.4 588.0,391.8 589.3,391.8 589.3,392.2" fill="#111" />
<polygon points="595.8,392.2 595.8,391.8 597.1,391.8 597.1,391.5 598.4,391.5 598.4,390.9 599.7,390.9 599.7,390.0 601.0,390.0 601.0,388.7 602.3,388.7 602.3,387.1 603.6,387.1 603.6,385.4 604.9,385.4 604.9,384.0 606.2,384.0 606.2,383.2 607.5,383.2 607.5,383.7 608.8,383.7 608.8,385.0 610.1,385.0 610.1,386.6 611.4,386.6 611.4,387.9 612.7,387.9 612.7,388.8 614.0,388.8 614.0,389.3 615.3,389.3 615.3,389.5 616.6,389.5 616.6,389.8 617.9,389.8 617.9,390.3 619.2,390.3 619.2,390.9 620.5,390.9 620.5,391.5 621.8,391.5 621.8,392.2" fill="#111" />
<polygon points="637.4,392.2 637.4,391.5 638.7,391.5 638.7,391.2 640.0,391.2 640.0,391.2 641.3,391.2 641.3,391.5 642.6,391.5 642.6,392.2" fill="#111" />
<polygon points="660.8,392.2 660.8,391.7 662.1,391.7 662.1,391.3 663.4,391.3 663.4,391.2 664.7,391.2 664.7,391.4 666.0,391.4 666.0,391.7 667.3,391.7 667.3,392.2" fill="#111" />
<line x1="536.00" y1="407.37" x2="671.80" y2="407.37" stroke="#222" stroke-width="1.0" />
<line x1="578.00" y1="407.37" x2="583.00" y2="407.37" stroke="#F67EF6" stroke-width="1.1" />
<line x1="620.00" y1="407.37" x2="650.00" y2="407.37" stroke="#F67EF6" stroke-width="1.1" />
<line x1="655.00" y1="407.37" x2="672.00" y2="407.37" stroke="#F67EF6" stroke-width="1.1" />
<polygon points="542.5,407.7 542.5,407.1 543.8,407.1 543.8,406.8 545.1,406.8 545.1,406.4 546.4,406.4 546.4,406.2 547.7,406.2 547.7,406.2 549.0,406.2 549.0,406.3 550.3,406.3 550.3,406.6 551.6,406.6 551.6,406.9 552.9,406.9 552.9,407.2 554.2,407.2 554.2,407.7" fill="#111" />
<polygon points="562.0,407.7 562.0,407.1 563.3,407.1 563.3,406.5 564.6,406.5 564.6,405.6 565.9,405.6 565.9,404.6 567.2,404.6 567.2,403.5 568.5,403.5 568.5,402.8 569.8,402.8 569.8,402.7 571.1,402.7 571.1,403.2 572.4,403.2 572.4,404.2 573.7,404.2 573.7,405.3 575.0,405.3 575.0,406.3 576.3,406.3 576.3,406.9 577.6,406.9 577.6,407.7" fill="#111" />
<polygon points="584.1,407.7 584.1,407.2 585.4,407.2 585.4,406.7 586.7,406.7 586.7,406.2 588.0,406.2 588.0,406.2 589.3,406.2 589.3,406.7 590.6,406.7 590.6,407.2 591.9,407.2 591.9,407.7" fill="#111" />
<polygon points="597.1,407.7 597.1,407.0 598.4,407.0 598.4,406.2 599.7,406.2 599.7,404.9 601.0,404.9 601.0,403.0 602.3,403.0 602.3,400.7 603.6,400.7 603.6,398.3 604.9,398.3 604.9,396.5 606.2,396.5 606.2,395.7 607.5,395.7 607.5,396.2 608.8,396.2 608.8,397.8 610.1,397.8 610.1,400.1 611.4,400.1 611.4,402.5 612.7,402.5 612.7,404.5 614.0,404.5 614.0,405.9 615.3,405.9 615.3,406.8 616.6,406.8 616.6,407.3 617.9,407.3 617.9,407.7" fill="#111" />
<polygon points="634.8,407.7 634.8,407.3 636.1,407.3 636.1,406.9 637.4,406.9 637.4,406.5 638.7,406.5 638.7,406.2 640.0,406.2 640.0,406.2 641.3,406.2 641.3,406.5 642.6,406.5 642.6,406.9 643.9,406.9 643.9,407.3 645.2,407.3 645.2,407.7" fill="#111" />
<line x1="536.00" y1="423.26" x2="671.80" y2="423.26" stroke="#F67EF6" stroke-width="1.2" />
<polygon points="538.6,423.2 538.6,422.7 539.9,422.7 539.9,422.5 541.2,422.5 541.2,422.1 542.5,422.1 542.5,421.8 543.8,421.8 543.8,421.5 545.1,421.5 545.1,421.2 546.4,421.2 546.4,421.0 547.7,421.0 547.7,420.9 549.0,420.9 549.0,421.0 550.3,421.0 550.3,421.1 551.6,421.1 551.6,421.2 552.9,421.2 552.9,421.1 554.2,421.1 554.2,420.8 555.5,420.8 555.5,420.4 556.8,420.4 556.8,420.1 558.1,420.1 558.1,420.0 559.4,420.0 559.4,420.2 560.7,420.2 560.7,420.7 562.0,420.7 562.0,421.4 563.3,421.4 563.3,422.0 564.6,422.0 564.6,422.5 565.9,422.5 565.9,423.2" fill="#F7806E" />
<polygon points="624.4,423.2 624.4,422.5 625.7,422.5 625.7,422.0 627.0,422.0 627.0,421.4 628.3,421.4 628.3,420.8 629.6,420.8 629.6,420.4 630.9,420.4 630.9,420.4 632.2,420.4 632.2,420.7 633.5,420.7 633.5,421.3 634.8,421.3 634.8,421.8 636.1,421.8 636.1,422.2 637.4,422.2 637.4,422.4 638.7,422.4 638.7,422.3 640.0,422.3 640.0,422.2 641.3,422.2 641.3,422.1 642.6,422.1 642.6,422.2 643.9,422.2 643.9,422.5 645.2,422.5 645.2,422.8 646.5,422.8 646.5,423.2" fill="#F7806E" />
<line x1="536.00" y1="438.75" x2="671.80" y2="438.75" stroke="#F67EF6" stroke-width="1.2" />
<polygon points="543.8,438.6 543.8,438.1 545.1,438.1 545.1,437.8 546.4,437.8 546.4,437.6 547.7,437.6 547.7,437.3 549.0,437.3 549.0,437.2 550.3,437.2 550.3,437.1 551.6,437.1 551.6,437.0 552.9,437.0 552.9,436.8 554.2,436.8 554.2,436.5 555.5,436.5 555.5,436.1 556.8,436.1 556.8,435.8 558.1,435.8 558.1,435.6 559.4,435.6 559.4,435.7 560.7,435.7 560.7,436.1 562.0,436.1 562.0,436.6 563.3,436.6 563.3,437.1 564.6,437.1 564.6,437.6 565.9,437.6 565.9,438.0 567.2,438.0 567.2,438.6" fill="#F7806E" />
<polygon points="612.7,438.6 612.7,438.1 614.0,438.1 614.0,437.8 615.3,437.8 615.3,437.5 616.6,437.5 616.6,437.5 617.9,437.5 617.9,437.6 619.2,437.6 619.2,437.9 620.5,437.9 620.5,438.2 621.8,438.2 621.8,438.6" fill="#F7806E" />
<polygon points="630.9,438.6 630.9,438.3 632.2,438.3 632.2,438.0 633.5,438.0 633.5,437.8 634.8,437.8 634.8,437.6 636.1,437.6 636.1,437.5 637.4,437.5 637.4,437.5 638.7,437.5 638.7,437.7 640.0,437.7 640.0,437.9 641.3,437.9 641.3,438.2 642.6,438.2 642.6,438.6" fill="#F7806E" />
<line x1="536.00" y1="454.24" x2="671.80" y2="454.24" stroke="#F67EF6" stroke-width="1.2" />
<polygon points="536.0,454.1 536.0,453.1 537.3,453.1 537.3,452.6 538.6,452.6 538.6,452.0 539.9,452.0 539.9,451.4 541.2,451.4 541.2,451.1 542.5,451.1 542.5,450.9 543.8,450.9 543.8,451.1 545.1,451.1 545.1,451.5 546.4,451.5 546.4,452.1 547.7,452.1 547.7,452.7 549.0,452.7 549.0,453.2 550.3,453.2 550.3,453.6 551.6,453.6 551.6,453.8 552.9,453.8 552.9,453.7 554.2,453.7 554.2,453.4 555.5,453.4 555.5,452.7 556.8,452.7 556.8,451.8 558.1,451.8 558.1,451.0 559.4,451.0 559.4,450.6 560.7,450.6 560.7,451.0 562.0,451.0 562.0,451.9 563.3,451.9 563.3,452.8 564.6,452.8 564.6,453.5 565.9,453.5 565.9,454.1" fill="#F7806E" />
<polygon points="611.4,454.1 611.4,453.7 612.7,453.7 612.7,453.3 614.0,453.3 614.0,452.7 615.3,452.7 615.3,452.3 616.6,452.3 616.6,452.1 617.9,452.1 617.9,452.4 619.2,452.4 619.2,452.9 620.5,452.9 620.5,453.5 621.8,453.5 621.8,454.1" fill="#F7806E" />
<polygon points="633.5,454.1 633.5,453.8 634.8,453.8 634.8,453.3 636.1,453.3 636.1,452.6 637.4,452.6 637.4,451.8 638.7,451.8 638.7,451.2 640.0,451.2 640.0,451.2 641.3,451.2 641.3,451.8 642.6,451.8 642.6,452.6 643.9,452.6 643.9,453.3 645.2,453.3 645.2,453.8 646.5,453.8 646.5,454.1" fill="#F7806E" />
<line x1="536.00" y1="469.73" x2="671.80" y2="469.73" stroke="#F67EF6" stroke-width="1.2" />
<polygon points="536.0,469.6 536.0,468.9 537.3,468.9 537.3,468.2 538.6,468.2 538.6,467.6 539.9,467.6 539.9,467.2 541.2,467.2 541.2,467.2 542.5,467.2 542.5,467.8 543.8,467.8 543.8,468.4 545.1,468.4 545.1,469.0 546.4,469.0 546.4,469.6" fill="#F7806E" />
<polygon points="551.6,469.6 551.6,469.0 552.9,469.0 552.9,468.0 554.2,468.0 554.2,466.7 555.5,466.7 555.5,465.3 556.8,465.3 556.8,464.4 558.1,464.4 558.1,464.1 559.4,464.1 559.4,464.2 560.7,464.2 560.7,464.9 562.0,464.9 562.0,466.1 563.3,466.1 563.3,467.6 564.6,467.6 564.6,468.7 565.9,468.7 565.9,469.6" fill="#F7806E" />
<polygon points="602.3,469.6 602.3,469.2 603.6,469.2 603.6,468.9 604.9,468.9 604.9,468.6 606.2,468.6 606.2,468.4 607.5,468.4 607.5,468.5 608.8,468.5 608.8,468.8 610.1,468.8 610.1,469.1 611.4,469.1 611.4,469.6" fill="#F7806E" />
<polygon points="623.1,469.6 623.1,469.1 624.4,469.1 624.4,468.9 625.7,468.9 625.7,468.6 627.0,468.6 627.0,468.3 628.3,468.3 628.3,468.2 629.6,468.2 629.6,468.1 630.9,468.1 630.9,468.2 632.2,468.2 632.2,468.4 633.5,468.4 633.5,468.7 634.8,468.7 634.8,469.0 636.1,469.0 636.1,469.2 637.4,469.2 637.4,469.6" fill="#F7806E" />
<polygon points="538.6,485.1 538.6,484.5 539.9,484.5 539.9,484.0 541.2,484.0 541.2,483.4 542.5,483.4 542.5,482.9 543.8,482.9 543.8,482.6 545.1,482.6 545.1,482.7 546.4,482.7 546.4,483.0 547.7,483.0 547.7,483.5 549.0,483.5 549.0,484.0 550.3,484.0 550.3,484.4 551.6,484.4 551.6,484.5 552.9,484.5 552.9,484.3 554.2,484.3 554.2,483.9 555.5,483.9 555.5,483.2 556.8,483.2 556.8,482.4 558.1,482.4 558.1,481.8 559.4,481.8 559.4,481.6 560.7,481.6 560.7,481.9 562.0,481.9 562.0,482.5 563.3,482.5 563.3,483.2 564.6,483.2 564.6,484.0 565.9,484.0 565.9,484.5 567.2,484.5 567.2,485.1" fill="#F7806E" />
<polygon points="624.4,485.1 624.4,484.5 625.7,484.5 625.7,484.1 627.0,484.1 627.0,483.5 628.3,483.5 628.3,483.0 629.6,483.0 629.6,482.7 630.9,482.7 630.9,482.7 632.2,482.7 632.2,482.9 633.5,482.9 633.5,483.4 634.8,483.4 634.8,484.0 636.1,484.0 636.1,484.5 637.4,484.5 637.4,485.1" fill="#F7806E" />
<g opacity="0.62">
<polygon points="539.9,485.1 539.9,484.7 541.2,484.7 541.2,484.3 542.5,484.3 542.5,483.9 543.8,483.9 543.8,483.6 545.1,483.6 545.1,483.7 546.4,483.7 546.4,484.0 547.7,484.0 547.7,484.4 549.0,484.4 549.0,484.7 550.3,484.7 550.3,485.1" fill="#000" />
<polygon points="551.6,485.1 551.6,484.7 552.9,484.7 552.9,484.3 554.2,484.3 554.2,483.7 555.5,483.7 555.5,482.9 556.8,482.9 556.8,482.0 558.1,482.0 558.1,481.4 559.4,481.4 559.4,481.1 560.7,481.1 560.7,481.4 562.0,481.4 562.0,482.0 563.3,482.0 563.3,482.7 564.6,482.7 564.6,483.2 565.9,483.2 565.9,483.4 567.2,483.4 567.2,483.4 568.5,483.4 568.5,483.5 569.8,483.5 569.8,483.8 571.1,483.8 571.1,484.2 572.4,484.2 572.4,484.6 573.7,484.6 573.7,485.1" fill="#000" />
<polygon points="582.8,485.1 582.8,484.5 584.1,484.5 584.1,484.0 585.4,484.0 585.4,483.4 586.7,483.4 586.7,483.0 588.0,483.0 588.0,483.0 589.3,483.0 589.3,483.4 590.6,483.4 590.6,483.9 591.9,483.9 591.9,484.4 593.2,484.4 593.2,484.7 594.5,484.7 594.5,484.7 595.8,484.7 595.8,484.5 597.1,484.5 597.1,484.2 598.4,484.2 598.4,483.7 599.7,483.7 599.7,482.9 601.0,482.9 601.0,481.9 602.3,481.9 602.3,480.7 603.6,480.7 603.6,479.2 604.9,479.2 604.9,477.6 606.2,477.6 606.2,476.3 607.5,476.3 607.5,475.6 608.8,475.6 608.8,476.6 610.1,476.6 610.1,478.0 611.4,478.0 611.4,479.5 612.7,479.5 612.7,481.0 614.0,481.0 614.0,482.2 615.3,482.2 615.3,483.1 616.6,483.1 616.6,483.8 617.9,483.8 617.9,484.3 619.2,484.3 619.2,484.6 620.5,484.6 620.5,485.1" fill="#000" />
</g>
<line x1="59.30" y1="495.80" x2="184.00" y2="495.80" stroke="#222" stroke-width="1.1" stroke-dasharray="3.2,2.4"/>
<polygon points="190.5,495.8 180.0,491.3 183.5,495.8 180.0,500.3" fill="#222" />
<line x1="382.00" y1="495.40" x2="510.80" y2="495.40" stroke="#222" stroke-width="1.1" stroke-dasharray="3.2,2.4"/>
<polygon points="376.3,495.4 386.8,490.9 383.3,495.4 386.8,499.9" fill="#222" />
<line x1="543.00" y1="495.70" x2="671.00" y2="495.70" stroke="#222" stroke-width="1.1" stroke-dasharray="3.2,2.4"/>
<polygon points="537.3,495.7 547.8,491.2 544.3,495.7 547.8,500.2" fill="#222" />
<text x="126.00" y="507.80" font-size="9" text-anchor="middle" fill="#222" font-style="italic">Ppig</text>
<text x="291.70" y="507.80" font-size="9" text-anchor="middle" fill="#222" font-style="italic">intergenic</text>
<text x="442.50" y="507.80" font-size="9" text-anchor="middle" fill="#222" font-style="italic">Rbm47</text>
<text x="604.30" y="507.80" font-size="9" text-anchor="middle" fill="#222" font-style="italic">Car5a</text>
<text x="125.50" y="520.60" font-size="9" text-anchor="middle" fill="#222" >chr2:69,734,916-69,737,026</text>
<text x="291.70" y="520.60" font-size="9" text-anchor="middle" fill="#222" >chr10:93,108,606-93,112,595</text>
<text x="442.50" y="520.60" font-size="9" text-anchor="middle" fill="#222" >chr5:66,067,806-66,071,795</text>
<text x="604.30" y="520.60" font-size="9" text-anchor="middle" fill="#222" >chr8:121,931,006-121,934,995</text>
<text x="0.30" y="552.20" font-size="20" text-anchor="start" fill="#111" >E</text>
<rect x="172.70" y="554.40" width="93.60" height="54.70" fill="#fff" stroke="#333" stroke-width="1.1" />
<rect x="266.30" y="554.40" width="8.90" height="54.70" fill="#D9D9D9" stroke="#333" stroke-width="1.1" />
<text font-size="8.8" text-anchor="middle" fill="#222" transform="translate(268.20 583.45) rotate(90)">hypo</text>
<line x1="170.70" y1="559.60" x2="172.70" y2="559.60" stroke="#333" stroke-width="0.8" />
<text x="170.40" y="562.20" font-size="9.0" text-anchor="end" fill="#333" >fatty acid metabolic process</text>
<line x1="170.70" y1="570.35" x2="172.70" y2="570.35" stroke="#333" stroke-width="0.8" />
<text x="170.40" y="572.95" font-size="9.0" text-anchor="end" fill="#333" >small molecule catabolic process</text>
<line x1="170.70" y1="581.10" x2="172.70" y2="581.10" stroke="#333" stroke-width="0.8" />
<text x="170.40" y="583.70" font-size="9.0" text-anchor="end" fill="#333" >steroid metabolic process</text>
<line x1="170.70" y1="591.85" x2="172.70" y2="591.85" stroke="#333" stroke-width="0.8" />
<text x="170.40" y="594.45" font-size="9.0" text-anchor="end" fill="#333" >monocarboxylic acid metabolic process</text>
<line x1="170.70" y1="602.60" x2="172.70" y2="602.60" stroke="#333" stroke-width="0.8" />
<text x="170.40" y="605.20" font-size="9.0" text-anchor="end" fill="#333" >alcohol metabolic process</text>
<rect x="172.70" y="612.60" width="93.60" height="54.50" fill="#fff" stroke="#333" stroke-width="1.1" />
<rect x="266.30" y="612.60" width="8.90" height="54.50" fill="#D9D9D9" stroke="#333" stroke-width="1.1" />
<text font-size="8.8" text-anchor="middle" fill="#222" transform="translate(268.20 639.85) rotate(90)">hyper</text>
<line x1="170.70" y1="618.00" x2="172.70" y2="618.00" stroke="#333" stroke-width="0.8" />
<text x="170.40" y="620.60" font-size="9.0" text-anchor="end" fill="#333" >fatty acid metabolic process</text>
<line x1="170.70" y1="628.75" x2="172.70" y2="628.75" stroke="#333" stroke-width="0.8" />
<text x="170.40" y="631.35" font-size="9.0" text-anchor="end" fill="#333" >small molecule catabolic process</text>
<line x1="170.70" y1="639.50" x2="172.70" y2="639.50" stroke="#333" stroke-width="0.8" />
<text x="170.40" y="642.10" font-size="9.0" text-anchor="end" fill="#333" >monocarboxylic acid metabolic process</text>
<line x1="170.70" y1="650.25" x2="172.70" y2="650.25" stroke="#333" stroke-width="0.8" />
<text x="170.40" y="652.85" font-size="9.0" text-anchor="end" fill="#333" >carboxylic acid metabolic process</text>
<line x1="170.70" y1="661.00" x2="172.70" y2="661.00" stroke="#333" stroke-width="0.8" />
<text x="170.40" y="663.60" font-size="9.0" text-anchor="end" fill="#333" >single−organism catabolic process</text>
<circle cx="234.20" cy="560.40" r="2.25" fill="#B40CC8" />
<circle cx="214.20" cy="571.30" r="1.80" fill="#7A1AE6" />
<circle cx="196.20" cy="581.90" r="1.10" fill="#2A22FF" />
<circle cx="191.70" cy="592.50" r="2.60" fill="#A810CC" />
<circle cx="191.00" cy="603.40" r="1.70" fill="#3C1EF5" />
<circle cx="262.50" cy="618.40" r="2.40" fill="#E4105E" />
<circle cx="252.30" cy="628.90" r="2.20" fill="#C010A8" />
<circle cx="225.70" cy="640.00" r="2.90" fill="#F2103C" />
<circle cx="182.40" cy="650.50" r="3.50" fill="#FF0505" />
<circle cx="177.00" cy="661.00" r="3.10" fill="#D21090" />
<line x1="194.70" y1="667.10" x2="194.70" y2="669.10" stroke="#333" stroke-width="0.8" />
<text x="194.70" y="676.60" font-size="8.8" text-anchor="middle" fill="#333" >2.2</text>
<line x1="217.50" y1="667.10" x2="217.50" y2="669.10" stroke="#333" stroke-width="0.8" />
<text x="217.50" y="676.60" font-size="8.8" text-anchor="middle" fill="#333" >2.4</text>
<line x1="240.60" y1="667.10" x2="240.60" y2="669.10" stroke="#333" stroke-width="0.8" />
<text x="240.60" y="676.60" font-size="8.8" text-anchor="middle" fill="#333" >2.6</text>
<line x1="263.40" y1="667.10" x2="263.40" y2="669.10" stroke="#333" stroke-width="0.8" />
<text x="263.40" y="676.60" font-size="8.8" text-anchor="middle" fill="#333" >2.8</text>
<text x="227.40" y="685.20" font-size="9" text-anchor="middle" fill="#222" >fold enrichment</text>
<text font-size="9" text-anchor="middle" fill="#222" transform="translate(8.9 610.5) rotate(-90)">GO biological process</text>
<rect x="277.75" y="551.70" width="58.00" height="53.50" fill="#fff" stroke="#222" stroke-width="1.1" />
<defs><linearGradient id="gE" x1="0" y1="1" x2="0" y2="0"><stop offset="0" stop-color="#2B00FF"/><stop offset="0.5" stop-color="#B800B8"/><stop offset="1" stop-color="#FF0020"/></linearGradient></defs>
<rect x="280.4" y="563.4" width="8.6" height="39.4" fill="url(#gE)"/>
<line x1="280.40" y1="573.90" x2="281.90" y2="573.90" stroke="#fff" stroke-width="0.8" />
<line x1="287.50" y1="573.90" x2="289.00" y2="573.90" stroke="#fff" stroke-width="0.8" />
<line x1="280.40" y1="587.60" x2="281.90" y2="587.60" stroke="#fff" stroke-width="0.8" />
<line x1="287.50" y1="587.60" x2="289.00" y2="587.60" stroke="#fff" stroke-width="0.8" />
<line x1="280.40" y1="601.00" x2="281.90" y2="601.00" stroke="#fff" stroke-width="0.8" />
<line x1="287.50" y1="601.00" x2="289.00" y2="601.00" stroke="#fff" stroke-width="0.8" />
<text x="281" y="561" font-size="9" fill="#222">−log<tspan font-size="6" dy="2">10</tspan><tspan dy="-2">(FDR)</tspan></text>
<text x="291.80" y="576.70" font-size="8.8" text-anchor="start" fill="#222" >150</text>
<text x="291.80" y="590.30" font-size="8.8" text-anchor="start" fill="#222" >100</text>
<text x="291.80" y="603.70" font-size="8.8" text-anchor="start" fill="#222" >50</text>
<rect x="277.75" y="608.40" width="58.00" height="62.00" fill="#fff" stroke="#222" stroke-width="1.1" />
<text x="280.80" y="618.00" font-size="9" text-anchor="start" fill="#222" >regions</text>
<circle cx="284.80" cy="623.90" r="1.80" fill="#000" />
<text x="291.30" y="627.00" font-size="8.8" text-anchor="start" fill="#222" >500</text>
<circle cx="284.80" cy="631.50" r="2.30" fill="#000" />
<text x="291.30" y="634.60" font-size="8.8" text-anchor="start" fill="#222" >750</text>
<circle cx="284.80" cy="639.50" r="2.70" fill="#000" />
<text x="291.30" y="642.60" font-size="8.8" text-anchor="start" fill="#222" >1000</text>
<circle cx="284.80" cy="647.30" r="3.10" fill="#000" />
<text x="291.30" y="650.40" font-size="8.8" text-anchor="start" fill="#222" >1250</text>
<circle cx="284.80" cy="654.90" r="3.40" fill="#000" />
<text x="291.30" y="658.00" font-size="8.8" text-anchor="start" fill="#222" >1500</text>
<circle cx="284.80" cy="662.80" r="3.80" fill="#000" />
<text x="291.30" y="665.90" font-size="8.8" text-anchor="start" fill="#222" >1750</text>
<text x="352.70" y="552.20" font-size="20" text-anchor="start" fill="#111" >F</text>
<text x="495.50" y="549.20" font-size="9" text-anchor="middle" fill="#111" >liver hypo DHMRs</text>
<line x1="371.00" y1="553.90" x2="620.00" y2="553.90" stroke="#222" stroke-width="1.4" />
<text x="495.50" y="690.60" font-size="9" text-anchor="middle" fill="#111" >liver hyper DHMRs</text>
<line x1="371.00" y1="695.00" x2="620.00" y2="695.00" stroke="#222" stroke-width="1.4" />
<path d="M392.10,623.00 L392.10,582.00 A41,41 0 0 1 417.84,591.08 Z" fill="#7B4F9B" stroke="#fff" stroke-width="0.9" stroke-linejoin="round"/>
<path d="M392.10,623.00 L417.84,591.08 A41,41 0 0 1 428.86,604.85 Z" fill="#E8557A" stroke="#fff" stroke-width="0.9" stroke-linejoin="round"/>
<path d="M392.10,623.00 L428.86,604.85 A41,41 0 0 1 430.59,608.87 Z" fill="#F5A623" stroke="#fff" stroke-width="0.9" stroke-linejoin="round"/>
<path d="M392.10,623.00 L430.59,608.87 A41,41 0 1 1 392.10,582.00 Z" fill="#0B3A5A" stroke="#fff" stroke-width="0.9" stroke-linejoin="round"/>
<path d="M577.70,623.20 L577.70,582.20 A41,41 0 0 1 593.98,585.57 Z" fill="#F47A3C" stroke="#fff" stroke-width="0.9" stroke-linejoin="round"/>
<path d="M577.70,623.20 L593.98,585.57 A41,41 0 0 1 613.38,603.00 Z" fill="#6A4C91" stroke="#fff" stroke-width="0.9" stroke-linejoin="round"/>
<path d="M577.70,623.20 L613.38,603.00 A41,41 0 0 1 560.48,660.41 Z" fill="#0B3A5A" stroke="#fff" stroke-width="0.9" stroke-linejoin="round"/>
<path d="M577.70,623.20 L560.48,660.41 A41,41 0 0 1 538.79,636.11 Z" fill="#D1528B" stroke="#fff" stroke-width="0.9" stroke-linejoin="round"/>
<path d="M577.70,623.20 L538.79,636.11 A41,41 0 0 1 540.82,605.28 Z" fill="#2E4577" stroke="#fff" stroke-width="0.9" stroke-linejoin="round"/>
<path d="M577.70,623.20 L540.82,605.28 A41,41 0 0 1 543.08,601.23 Z" fill="#F5A623" stroke="#fff" stroke-width="0.9" stroke-linejoin="round"/>
<path d="M577.70,623.20 L543.08,601.23 A41,41 0 0 1 547.46,595.51 Z" fill="#E8557A" stroke="#fff" stroke-width="0.9" stroke-linejoin="round"/>
<path d="M577.70,623.20 L547.46,595.51 A41,41 0 0 1 577.70,582.20 Z" fill="#9A4F93" stroke="#fff" stroke-width="0.9" stroke-linejoin="round"/>
<path d="M392.50,765.30 L392.50,724.30 A41,41 0 0 1 410.19,728.31 Z" fill="#7B4F9B" stroke="#fff" stroke-width="0.9" stroke-linejoin="round"/>
<path d="M392.50,765.30 L410.19,728.31 A41,41 0 0 1 424.58,739.77 Z" fill="#E8557A" stroke="#fff" stroke-width="0.9" stroke-linejoin="round"/>
<path d="M392.50,765.30 L424.58,739.77 A41,41 0 0 1 426.26,742.04 Z" fill="#F5A623" stroke="#fff" stroke-width="0.9" stroke-linejoin="round"/>
<path d="M392.50,765.30 L426.26,742.04 A41,41 0 1 1 392.50,724.30 Z" fill="#0B3A5A" stroke="#fff" stroke-width="0.9" stroke-linejoin="round"/>
<path d="M577.70,765.20 L577.70,724.20 A41,41 0 0 1 590.12,726.13 Z" fill="#F47A3C" stroke="#fff" stroke-width="0.9" stroke-linejoin="round"/>
<path d="M577.70,765.20 L590.12,726.13 A41,41 0 0 1 615.91,750.35 Z" fill="#6A4C91" stroke="#fff" stroke-width="0.9" stroke-linejoin="round"/>
<path d="M577.70,765.20 L615.91,750.35 A41,41 0 0 1 556.61,800.36 Z" fill="#0B3A5A" stroke="#fff" stroke-width="0.9" stroke-linejoin="round"/>
<path d="M577.70,765.20 L556.61,800.36 A41,41 0 0 1 544.68,789.51 Z" fill="#D1528B" stroke="#fff" stroke-width="0.9" stroke-linejoin="round"/>
<path d="M577.70,765.20 L544.68,789.51 A41,41 0 0 1 540.28,748.45 Z" fill="#2E4577" stroke="#fff" stroke-width="0.9" stroke-linejoin="round"/>
<path d="M577.70,765.20 L540.28,748.45 A41,41 0 0 1 541.41,746.13 Z" fill="#F5A623" stroke="#fff" stroke-width="0.9" stroke-linejoin="round"/>
<path d="M577.70,765.20 L541.41,746.13 A41,41 0 0 1 550.20,734.79 Z" fill="#E8557A" stroke="#fff" stroke-width="0.9" stroke-linejoin="round"/>
<path d="M577.70,765.20 L550.20,734.79 A41,41 0 0 1 577.96,724.20 Z" fill="#9A4F93" stroke="#fff" stroke-width="0.9" stroke-linejoin="round"/>
<text x="417.70" y="571.40" font-size="9" text-anchor="middle" fill="#222" >CpG shore</text>
<text x="419.30" y="580.80" font-size="9" text-anchor="middle" fill="#222" >(10.8%)</text>
<text x="443.60" y="592.50" font-size="9" text-anchor="middle" fill="#222" >CpG shelf</text>
<text x="443.60" y="601.90" font-size="9" text-anchor="middle" fill="#222" >(6.9%)</text>
<text x="437.00" y="627.60" font-size="9" text-anchor="start" fill="#222" >CpG island</text>
<text x="458.50" y="637.00" font-size="9" text-anchor="middle" fill="#222" >(1.7%)</text>
<line x1="431.00" y1="607.30" x2="442.20" y2="620.00" stroke="#111" stroke-width="1.3" />
<text x="392.10" y="636.40" font-size="9" text-anchor="middle" fill="#fff" >inter-CGI</text>
<text x="392.10" y="645.80" font-size="9" text-anchor="middle" fill="#fff" >(80.6%)</text>
<text x="561.00" y="568.40" font-size="9" text-anchor="middle" fill="#222" >1-5kb</text>
<text x="559.50" y="577.80" font-size="9" text-anchor="middle" fill="#222" >(13.2%)</text>
<text x="597.10" y="568.40" font-size="9" text-anchor="middle" fill="#222" >promoter</text>
<text x="598.70" y="577.80" font-size="9" text-anchor="middle" fill="#222" >(6.5%)</text>
<text x="647.30" y="592.20" font-size="9" text-anchor="middle" fill="#222" >intron-exon border</text>
<text x="648.30" y="601.60" font-size="9" text-anchor="middle" fill="#222" >(10.3%)</text>
<text x="526.50" y="585.00" font-size="9" text-anchor="middle" fill="#222" >3’UTR</text>
<text x="526.50" y="594.40" font-size="9" text-anchor="middle" fill="#222" >(2.8%)</text>
<text x="505.20" y="604.80" font-size="9" text-anchor="middle" fill="#222" >5’UTR</text>
<text x="505.20" y="614.20" font-size="9" text-anchor="middle" fill="#222" >(1.8%)</text>
<line x1="519.60" y1="601.60" x2="539.70" y2="604.70" stroke="#111" stroke-width="1.3" />
<text x="515.50" y="627.40" font-size="9" text-anchor="middle" fill="#222" >exon</text>
<text x="515.50" y="636.80" font-size="9" text-anchor="middle" fill="#222" >(12.3%)</text>
<text x="592.40" y="633.60" font-size="9" text-anchor="middle" fill="#fff" >intron</text>
<text x="592.40" y="643.00" font-size="9" text-anchor="middle" fill="#fff" >(40.1%)</text>
<text x="525.00" y="660.30" font-size="9" text-anchor="middle" fill="#222" >intergenic</text>
<text x="525.00" y="669.70" font-size="9" text-anchor="middle" fill="#222" >(13%)</text>
<text x="408.00" y="712.20" font-size="9" text-anchor="middle" fill="#222" >CpG shore</text>
<text x="409.90" y="721.60" font-size="9" text-anchor="middle" fill="#222" >(7.1%)</text>
<text x="440.10" y="731.20" font-size="9" text-anchor="middle" fill="#222" >CpG shelf</text>
<text x="440.10" y="740.60" font-size="9" text-anchor="middle" fill="#222" >(7.2%)</text>
<text x="441.60" y="757.20" font-size="9" text-anchor="start" fill="#222" >CpG island</text>
<text x="463.60" y="766.60" font-size="9" text-anchor="middle" fill="#222" >(1.1%)</text>
<line x1="426.90" y1="741.30" x2="439.10" y2="751.90" stroke="#111" stroke-width="1.3" />
<text x="390.70" y="777.20" font-size="9" text-anchor="middle" fill="#fff" >inter-CGI</text>
<text x="390.70" y="786.60" font-size="9" text-anchor="middle" fill="#fff" >(84.6%)</text>
<text x="561.00" y="710.80" font-size="9" text-anchor="middle" fill="#222" >1-5kb</text>
<text x="562.60" y="720.20" font-size="9" text-anchor="middle" fill="#222" >(11.8%)</text>
<text x="594.90" y="710.80" font-size="9" text-anchor="middle" fill="#222" >promoter</text>
<text x="595.50" y="720.20" font-size="9" text-anchor="middle" fill="#222" >(4.9%)</text>
<text x="647.30" y="735.00" font-size="9" text-anchor="middle" fill="#222" >intron-exon border</text>
<text x="648.90" y="744.40" font-size="9" text-anchor="middle" fill="#222" >(14.2%)</text>
<text x="528.00" y="727.20" font-size="9" text-anchor="middle" fill="#222" >3’UTR</text>
<text x="528.00" y="736.60" font-size="9" text-anchor="middle" fill="#222" >(5.6%)</text>
<text x="501.40" y="746.00" font-size="9" text-anchor="middle" fill="#222" >5’UTR</text>
<text x="501.40" y="755.40" font-size="9" text-anchor="middle" fill="#222" >(1%)</text>
<line x1="517.00" y1="744.30" x2="538.40" y2="747.50" stroke="#111" stroke-width="1.3" />
<text x="517.10" y="768.60" font-size="9" text-anchor="middle" fill="#222" >exon</text>
<text x="517.10" y="778.00" font-size="9" text-anchor="middle" fill="#222" >(16.8%)</text>
<text x="590.80" y="780.50" font-size="9" text-anchor="middle" fill="#fff" >intron</text>
<text x="590.80" y="789.90" font-size="9" text-anchor="middle" fill="#fff" >(39.5%)</text>
<text x="526.50" y="801.80" font-size="9" text-anchor="middle" fill="#222" >intergenic</text>
<text x="526.50" y="811.20" font-size="9" text-anchor="middle" fill="#222" >(6.3%)</text>
<text x="0.20" y="702.60" font-size="20" text-anchor="start" fill="#111" >G</text>
<text x="136.00" y="692.60" font-size="9" text-anchor="middle" fill="#222" >liver</text>
<clipPath id="clipG"><rect x="33.9" y="698" width="207.1" height="151"/></clipPath>
<g clip-path="url(#clipG)">
<polyline points="33.3,782.7 34.0,783.8 34.7,783.6 35.4,784.2 36.1,784.6 36.8,785.0 37.5,785.8 38.2,785.4 38.9,786.2 39.6,786.5 40.3,787.1 41.0,787.5 41.7,787.7 42.4,787.3 43.1,786.3 43.8,785.3 44.5,784.0 45.2,782.6 45.9,780.9 46.6,780.2 47.3,779.2 48.0,778.4 48.7,777.8 49.4,777.6 50.1,777.7 50.8,777.2 51.5,776.6 52.2,776.1 52.9,775.8 53.6,776.4 54.3,776.5 55.0,777.0 55.7,776.4 56.4,775.7 57.1,775.2 57.8,774.8 58.5,774.7 59.2,774.3 59.9,774.1 60.6,774.4 61.3,773.8 62.0,774.1 62.7,773.4 63.4,773.5 64.1,772.7 64.8,772.4 65.5,772.3 66.2,772.4 66.9,772.0 67.6,772.0 68.3,772.0 69.0,771.8 69.7,770.7 70.4,769.8 71.1,770.0 71.8,771.1 72.5,772.6 73.2,773.5 73.9,774.1 74.6,775.5 75.3,777.4 76.0,779.6 76.7,782.0 77.4,784.6 78.1,787.5 78.8,790.6 79.5,793.8 80.2,797.1 80.9,800.5 81.6,803.8 82.3,807.3 83.0,810.4 83.7,813.7 84.4,816.6 85.1,819.5 85.8,822.2 86.5,825.1 87.2,827.9 87.9,830.5 88.6,832.7 89.3,833.8 90.0,832.7 90.7,830.0 91.4,825.9 92.1,821.3 92.8,816.6 93.5,811.7 94.2,806.8 94.9,802.5 95.6,798.6 96.3,794.9 97.0,791.3 97.7,788.2 98.4,785.5 99.1,783.0 99.8,780.9 100.5,779.4 101.2,777.7 101.9,775.8 102.6,774.8 103.3,774.0 104.0,773.5 104.7,773.2 105.4,772.7 106.1,772.7 106.8,772.5 107.5,772.6 108.2,772.1 108.9,771.9 109.6,772.0 110.3,772.7 111.0,772.7 111.7,772.5 112.4,772.0 113.1,772.0 113.8,771.7 114.5,772.0 115.2,771.5 115.9,772.0 116.6,772.2 117.3,772.7 118.0,772.3 118.7,771.5 119.4,771.3 120.1,771.6 120.8,771.8 121.5,771.0 122.2,771.1 122.9,770.5 123.6,770.8 124.3,769.8 125.0,770.3 125.7,769.9 126.4,770.0 127.1,769.3 127.8,769.0 128.5,768.7 129.2,768.5 129.9,768.5 130.6,768.5 131.3,768.2 132.0,767.7 132.7,767.4 133.4,767.4 134.1,767.6 134.8,767.4 135.5,767.8 136.2,767.2 136.9,767.4 137.6,767.1 138.3,766.8 139.0,765.7 139.7,765.4 140.4,766.3 141.1,766.1 141.8,766.0 142.5,765.6 143.2,766.3 143.9,766.4 144.6,765.7 145.3,765.0 146.0,764.4 146.7,764.1 147.4,763.7 148.1,763.9 148.8,763.5 149.5,763.8 150.2,763.9 150.9,764.2 151.6,764.0 152.3,763.5 153.0,763.5 153.7,763.7 154.4,763.7 155.1,763.0 155.8,762.5 156.5,761.7 157.2,762.1 157.9,761.9 158.6,762.1 159.3,761.6 160.0,761.6 160.7,761.5 161.4,762.0 162.1,762.1 162.8,761.8 163.5,761.5 164.2,761.1 164.9,760.4 165.6,759.7 166.3,759.7 167.0,760.5 167.7,760.4 168.4,759.9 169.1,759.1 169.8,759.4 170.5,759.4 171.2,759.7 171.9,759.5 172.6,759.1 173.3,759.4 174.0,759.2 174.7,758.6 175.4,758.3 176.1,758.8 176.8,759.6 177.5,759.8 178.2,759.9 178.9,761.3 179.6,761.9 180.3,762.7 181.0,763.1 181.7,764.2 182.4,763.4 183.1,762.1 183.8,759.2 184.5,756.5 185.2,754.0 185.9,754.0 186.6,755.8 187.3,758.3 188.0,759.2 188.7,761.2 189.4,762.7 190.1,763.7 190.8,764.7 191.5,765.7 192.2,766.9 192.9,767.3 193.6,767.9 194.3,768.3 195.0,767.9 195.7,768.2 196.4,768.5 197.1,768.3 197.8,767.9 198.5,767.0 199.2,766.8 199.9,767.1 200.6,767.6 201.3,768.1 202.0,767.5 202.7,768.3 203.4,768.4 204.1,769.5 204.8,770.3 205.5,771.4 206.2,771.7 206.9,771.2 207.6,770.8 208.3,770.5 209.0,770.8 209.7,770.3 210.4,769.6 211.1,768.4 211.8,767.4 212.5,766.0 213.2,764.1 213.9,762.5 214.6,761.6 215.3,761.7 216.0,763.2 216.7,765.2 217.4,766.9 218.1,769.6 218.8,770.7 219.5,769.5 220.2,766.8 220.9,764.2 221.6,763.0 222.3,760.8 223.0,760.1 223.7,760.6 224.4,761.8 225.1,763.1 225.8,764.6 226.5,765.7 227.2,767.5 227.9,767.7 228.6,768.7 229.3,768.4 230.0,769.1 230.7,769.3 231.4,769.7 232.1,769.9 232.8,769.6 233.5,769.7 234.2,770.4 234.9,771.0 235.6,771.0 236.3,771.0 237.0,771.7 237.7,772.7 238.4,772.4 239.1,772.6 239.8,772.7 240.5,773.0 241.2,773.2" fill="none" stroke="#CCCCCC" stroke-width="1.25" stroke-linejoin="round" />
<polyline points="33.3,780.9 34.0,781.5 34.7,781.7 35.4,782.5 36.1,783.0 36.8,783.7 37.5,783.6 38.2,784.5 38.9,785.1 39.6,786.0 40.3,786.4 41.0,786.0 41.7,785.4 42.4,784.4 43.1,783.6 43.8,782.6 44.5,781.4 45.2,779.9 45.9,778.6 46.6,778.7 47.3,777.9 48.0,778.3 48.7,776.5 49.4,776.3 50.1,775.1 50.8,775.0 51.5,775.1 52.2,774.7 52.9,774.5 53.6,774.5 54.3,774.8 55.0,774.9 55.7,774.9 56.4,774.5 57.1,774.9 57.8,773.4 58.5,773.1 59.2,772.3 59.9,772.9 60.6,772.9 61.3,772.6 62.0,772.8 62.7,772.4 63.4,771.9 64.1,770.9 64.8,770.7 65.5,770.4 66.2,770.6 66.9,770.2 67.6,770.2 68.3,769.6 69.0,769.1 69.7,768.7 70.4,768.5 71.1,769.2 71.8,769.6 72.5,770.5 73.2,771.7 73.9,773.5 74.6,774.8 75.3,776.6 76.0,778.4 76.7,780.8 77.4,783.3 78.1,786.3 78.8,789.4 79.5,792.8 80.2,796.2 80.9,799.4 81.6,802.7 82.3,806.1 83.0,809.3 83.7,812.4 84.4,815.6 85.1,818.5 85.8,821.3 86.5,823.8 87.2,826.6 87.9,829.0 88.6,831.1 89.3,832.4 90.0,831.7 90.7,829.2 91.4,824.4 92.1,819.3 92.8,814.4 93.5,809.6 94.2,804.9 94.9,800.5 95.6,796.6 96.3,792.8 97.0,789.4 97.7,786.2 98.4,783.5 99.1,780.9 99.8,778.8 100.5,776.0 101.2,775.0 101.9,773.5 102.6,772.5 103.3,771.9 104.0,771.3 104.7,771.4 105.4,771.4 106.1,770.7 106.8,770.9 107.5,770.6 108.2,771.0 108.9,770.0 109.6,769.6 110.3,769.7 111.0,770.0 111.7,769.8 112.4,769.7 113.1,769.7 113.8,769.6 114.5,768.7 115.2,768.4 115.9,768.8 116.6,769.5 117.3,770.0 118.0,770.7 118.7,770.3 119.4,769.5 120.1,769.3 120.8,769.4 121.5,769.4 122.2,769.2 122.9,769.3 123.6,769.2 124.3,768.8 125.0,768.3 125.7,768.5 126.4,768.2 127.1,768.2 127.8,767.3 128.5,766.8 129.2,767.0 129.9,767.6 130.6,767.7 131.3,766.6 132.0,766.4 132.7,765.6 133.4,765.6 134.1,765.2 134.8,765.8 135.5,765.4 136.2,765.1 136.9,763.8 137.6,763.6 138.3,763.6 139.0,764.1 139.7,764.5 140.4,764.4 141.1,764.7 141.8,764.3 142.5,763.4 143.2,762.5 143.9,761.9 144.6,762.0 145.3,761.8 146.0,762.0 146.7,761.6 147.4,762.0 148.1,761.5 148.8,761.5 149.5,760.6 150.2,760.3 150.9,760.3 151.6,760.5 152.3,760.6 153.0,760.4 153.7,760.5 154.4,760.2 155.1,759.6 155.8,759.4 156.5,759.5 157.2,759.7 157.9,759.5 158.6,759.5 159.3,759.6 160.0,759.5 160.7,759.6 161.4,759.4 162.1,758.9 162.8,758.3 163.5,758.2 164.2,758.2 164.9,759.1 165.6,758.3 166.3,757.6 167.0,756.4 167.7,757.2 168.4,758.0 169.1,757.7 169.8,757.0 170.5,756.8 171.2,756.8 171.9,756.7 172.6,756.4 173.3,756.5 174.0,756.2 174.7,756.1 175.4,756.0 176.1,756.7 176.8,756.4 177.5,756.6 178.2,757.3 178.9,758.8 179.6,759.5 180.3,758.3 181.0,758.8 181.7,759.8 182.4,760.9 183.1,760.1 183.8,757.5 184.5,755.0 185.2,752.0 185.9,751.3 186.6,751.8 187.3,754.4 188.0,756.5 188.7,758.3 189.4,759.6 190.1,760.6 190.8,761.5 191.5,762.8 192.2,763.4 192.9,764.0 193.6,764.4 194.3,764.8 195.0,765.3 195.7,765.5 196.4,764.9 197.1,764.6 197.8,764.5 198.5,765.1 199.2,765.6 199.9,765.5 200.6,765.4 201.3,764.5 202.0,764.7 202.7,765.1 203.4,766.3 204.1,766.8 204.8,767.0 205.5,767.9 206.2,768.4 206.9,768.9 207.6,769.2 208.3,769.2 209.0,768.4 209.7,767.6 210.4,767.7 211.1,766.9 211.8,765.2 212.5,763.0 213.2,761.7 213.9,760.5 214.6,759.4 215.3,759.1 216.0,760.5 216.7,762.9 217.4,765.1 218.1,767.2 218.8,768.2 219.5,767.2 220.2,765.3 220.9,762.8 221.6,760.7 222.3,758.3 223.0,757.0 223.7,757.8 224.4,758.1 225.1,760.0 225.8,761.2 226.5,763.5 227.2,764.7 227.9,765.6 228.6,766.2 229.3,766.3 230.0,766.7 230.7,766.9 231.4,767.1 232.1,767.6 232.8,768.3 233.5,768.8 234.2,769.0 234.9,768.8 235.6,768.8 236.3,768.9 237.0,768.9 237.7,769.9 238.4,770.4 239.1,770.9 239.8,771.0 240.5,771.0 241.2,771.3" fill="none" stroke="#969696" stroke-width="1.25" stroke-linejoin="round" />
<polyline points="33.3,788.7 34.0,788.8 34.7,788.6 35.4,789.0 36.1,789.2 36.8,790.6 37.5,791.3 38.2,792.6 38.9,792.8 39.6,792.6 40.3,792.4 41.0,792.5 41.7,792.0 42.4,791.3 43.1,790.1 43.8,790.1 44.5,789.2 45.2,788.6 45.9,787.8 46.6,787.2 47.3,785.9 48.0,784.8 48.7,784.4 49.4,784.2 50.1,783.9 50.8,783.7 51.5,783.9 52.2,783.8 52.9,783.3 53.6,783.3 54.3,783.1 55.0,782.9 55.7,782.7 56.4,783.1 57.1,782.9 57.8,782.4 58.5,782.0 59.2,782.3 59.9,782.5 60.6,782.3 61.3,782.8 62.0,781.7 62.7,781.4 63.4,780.0 64.1,779.7 64.8,778.9 65.5,778.7 66.2,779.4 66.9,779.3 67.6,778.9 68.3,778.1 69.0,778.0 69.7,778.2 70.4,778.1 71.1,778.1 71.8,778.2 72.5,779.2 73.2,780.2 73.9,781.5 74.6,783.3 75.3,784.9 76.0,786.8 76.7,788.9 77.4,791.3 78.1,793.8 78.8,796.7 79.5,799.7 80.2,803.0 80.9,806.0 81.6,808.9 82.3,811.8 83.0,814.5 83.7,817.2 84.4,819.7 85.1,822.1 85.8,824.5 86.5,826.8 87.2,828.7 87.9,830.6 88.6,832.2 89.3,833.8 90.0,835.2 90.7,835.3 91.4,833.7 92.1,830.2 92.8,825.5 93.5,821.1 94.2,816.6 94.9,812.2 95.6,808.1 96.3,804.4 97.0,800.8 97.7,797.4 98.4,794.4 99.1,791.7 99.8,789.5 100.5,787.6 101.2,785.5 101.9,783.8 102.6,782.0 103.3,780.2 104.0,779.1 104.7,778.1 105.4,778.6 106.1,778.5 106.8,778.4 107.5,778.0 108.2,777.6 108.9,777.8 109.6,777.5 110.3,777.1 111.0,776.6 111.7,776.7 112.4,777.3 113.1,777.3 113.8,777.4 114.5,776.9 115.2,776.4 115.9,776.5 116.6,776.6 117.3,777.0 118.0,776.5 118.7,776.7 119.4,777.0 120.1,777.5 120.8,777.0 121.5,776.1 122.2,775.5 122.9,775.0 123.6,775.0 124.3,775.7 125.0,775.6 125.7,776.0 126.4,775.0 127.1,775.2 127.8,774.2 128.5,774.3 129.2,773.6 129.9,774.0 130.6,773.8 131.3,774.4 132.0,774.6 132.7,774.4 133.4,774.1 134.1,773.4 134.8,773.3 135.5,773.1 136.2,772.8 136.9,773.0 137.6,772.7 138.3,773.1 139.0,772.7 139.7,772.7 140.4,772.1 141.1,771.7 141.8,771.5 142.5,771.9 143.2,771.6 143.9,771.4 144.6,770.8 145.3,770.8 146.0,770.8 146.7,771.1 147.4,771.4 148.1,770.1 148.8,769.2 149.5,768.8 150.2,769.8 150.9,770.3 151.6,770.0 152.3,770.2 153.0,769.6 153.7,769.1 154.4,768.8 155.1,768.7 155.8,769.3 156.5,768.9 157.2,769.0 157.9,768.2 158.6,768.1 159.3,767.9 160.0,767.9 160.7,767.9 161.4,767.8 162.1,768.1 162.8,767.9 163.5,767.3 164.2,766.9 164.9,766.6 165.6,766.5 166.3,766.4 167.0,765.6 167.7,765.2 168.4,764.7 169.1,765.3 169.8,765.4 170.5,765.7 171.2,766.1 171.9,766.0 172.6,765.0 173.3,764.1 174.0,764.4 174.7,764.9 175.4,764.8 176.1,764.9 176.8,765.7 177.5,767.4 178.2,768.3 178.9,769.1 179.6,769.5 180.3,769.9 181.0,769.3 181.7,769.0 182.4,768.5 183.1,768.5 183.8,765.9 184.5,762.4 185.2,759.2 185.9,758.7 186.6,760.5 187.3,762.8 188.0,764.3 188.7,765.9 189.4,767.9 190.1,769.5 190.8,770.0 191.5,770.4 192.2,770.6 192.9,771.4 193.6,771.9 194.3,772.4 195.0,773.4 195.7,773.4 196.4,773.5 197.1,772.6 197.8,772.6 198.5,772.2 199.2,771.6 199.9,771.8 200.6,772.5 201.3,773.5 202.0,773.7 202.7,774.2 203.4,774.9 204.1,776.3 204.8,777.2 205.5,777.7 206.2,777.5 206.9,778.0 207.6,777.7 208.3,778.1 209.0,777.1 209.7,776.7 210.4,775.4 211.1,774.0 211.8,772.3 212.5,770.4 213.2,768.8 213.9,767.0 214.6,766.4 215.3,766.2 216.0,768.2 216.7,770.8 217.4,772.5 218.1,774.0 218.8,775.2 219.5,775.4 220.2,774.3 220.9,772.1 221.6,768.9 222.3,765.5 223.0,763.1 223.7,763.8 224.4,765.2 225.1,767.8 225.8,769.4 226.5,771.4 227.2,772.5 227.9,773.4 228.6,773.4 229.3,773.5 230.0,774.0 230.7,775.4 231.4,776.2 232.1,776.5 232.8,775.7 233.5,775.3 234.2,775.9 234.9,776.1 235.6,776.9 236.3,777.4 237.0,778.3 237.7,778.4 238.4,778.1 239.1,777.8 239.8,777.9 240.5,778.4 241.2,778.8" fill="none" stroke="#636363" stroke-width="1.25" stroke-linejoin="round" />
<polyline points="33.3,794.3 34.0,794.7 34.7,795.4 35.4,795.7 36.1,796.4 36.8,796.5 37.5,796.9 38.2,797.3 38.9,797.7 39.6,797.2 40.3,797.2 41.0,797.6 41.7,798.1 42.4,797.4 43.1,796.0 43.8,795.2 44.5,795.0 45.2,794.0 45.9,793.0 46.6,791.4 47.3,791.1 48.0,790.9 48.7,790.5 49.4,790.4 50.1,789.5 50.8,789.8 51.5,789.5 52.2,789.5 52.9,789.2 53.6,789.3 54.3,789.4 55.0,789.4 55.7,788.4 56.4,787.8 57.1,787.1 57.8,787.2 58.5,787.1 59.2,787.7 59.9,787.8 60.6,788.0 61.3,787.3 62.0,787.2 62.7,787.0 63.4,786.5 64.1,785.8 64.8,784.5 65.5,784.3 66.2,784.3 66.9,784.9 67.6,784.4 68.3,783.3 69.0,782.6 69.7,782.6 70.4,782.9 71.1,782.4 71.8,782.7 72.5,783.0 73.2,784.8 73.9,786.0 74.6,787.8 75.3,789.7 76.0,791.7 76.7,794.0 77.4,796.4 78.1,799.3 78.8,802.4 79.5,805.7 80.2,808.9 80.9,811.7 81.6,814.4 82.3,817.1 83.0,819.8 83.7,822.2 84.4,824.7 85.1,826.9 85.8,829.2 86.5,831.5 87.2,834.0 87.9,836.2 88.6,838.3 89.3,839.9 90.0,841.4 90.7,842.6 91.4,841.6 92.1,838.7 92.8,834.9 93.5,830.6 94.2,826.5 94.9,822.0 95.6,817.2 96.3,812.4 97.0,808.1 97.7,804.3 98.4,800.8 99.1,798.1 99.8,795.8 100.5,794.3 101.2,792.3 101.9,790.4 102.6,789.8 103.3,788.2 104.0,787.4 104.7,786.8 105.4,786.4 106.1,786.0 106.8,785.9 107.5,785.5 108.2,785.6 108.9,785.3 109.6,785.4 110.3,785.2 111.0,785.1 111.7,785.1 112.4,784.9 113.1,785.0 113.8,784.9 114.5,785.1 115.2,784.9 115.9,785.2 116.6,785.0 117.3,785.0 118.0,785.2 118.7,785.2 119.4,785.5 120.1,784.6 120.8,784.6 121.5,784.6 122.2,785.0 122.9,784.6 123.6,784.4 124.3,784.1 125.0,784.9 125.7,784.6 126.4,784.8 127.1,784.1 127.8,783.5 128.5,783.5 129.2,783.7 129.9,783.9 130.6,783.8 131.3,783.2 132.0,783.2 132.7,782.5 133.4,782.5 134.1,782.6 134.8,783.3 135.5,783.2 136.2,782.7 136.9,782.3 137.6,782.2 138.3,782.5 139.0,782.6 139.7,782.7 140.4,782.8 141.1,782.6 141.8,782.3 142.5,782.0 143.2,781.8 143.9,781.9 144.6,782.1 145.3,782.1 146.0,782.5 146.7,782.4 147.4,782.2 148.1,781.8 148.8,781.8 149.5,781.2 150.2,780.8 150.9,780.8 151.6,781.5 152.3,781.3 153.0,780.6 153.7,780.1 154.4,780.3 155.1,780.6 155.8,780.5 156.5,779.9 157.2,779.8 157.9,779.8 158.6,779.6 159.3,779.0 160.0,779.1 160.7,779.2 161.4,779.4 162.1,779.1 162.8,779.1 163.5,779.2 164.2,779.3 164.9,779.2 165.6,778.9 166.3,778.4 167.0,777.6 167.7,777.1 168.4,776.9 169.1,777.5 169.8,778.0 170.5,777.8 171.2,778.2 171.9,778.3 172.6,778.3 173.3,777.8 174.0,777.9 174.7,778.0 175.4,778.3 176.1,777.9 176.8,778.8 177.5,780.0 178.2,781.9 178.9,782.9 179.6,783.6 180.3,783.5 181.0,784.1 181.7,783.7 182.4,783.6 183.1,781.2 183.8,778.6 184.5,776.0 185.2,773.1 185.9,772.5 186.6,772.1 187.3,774.3 188.0,776.2 188.7,778.4 189.4,780.5 190.1,782.1 190.8,783.4 191.5,783.7 192.2,783.8 192.9,783.9 193.6,783.9 194.3,784.0 195.0,784.0 195.7,784.2 196.4,783.9 197.1,783.6 197.8,783.2 198.5,783.3 199.2,783.3 199.9,783.5 200.6,783.4 201.3,783.5 202.0,783.9 202.7,783.7 203.4,784.8 204.1,785.7 204.8,786.1 205.5,785.5 206.2,785.3 206.9,785.4 207.6,786.1 208.3,786.0 209.0,786.1 209.7,785.7 210.4,784.8 211.1,783.3 211.8,781.2 212.5,779.6 213.2,778.5 213.9,776.9 214.6,776.2 215.3,775.6 216.0,778.2 216.7,779.6 217.4,781.5 218.1,782.5 218.8,783.8 219.5,783.3 220.2,782.2 220.9,780.9 221.6,779.3 222.3,776.4 223.0,774.8 223.7,774.9 224.4,776.4 225.1,777.7 225.8,779.2 226.5,780.5 227.2,781.6 227.9,782.2 228.6,782.0 229.3,781.5 230.0,781.1 230.7,781.8 231.4,782.2 232.1,782.9 232.8,783.1 233.5,783.7 234.2,783.7 234.9,783.7 235.6,783.6 236.3,784.0 237.0,784.5 237.7,785.1 238.4,785.5 239.1,785.8 239.8,785.6 240.5,785.8 241.2,785.6" fill="none" stroke="#252525" stroke-width="1.25" stroke-linejoin="round" />
<polyline points="33.3,769.0 34.0,770.2 34.7,771.3 35.4,772.4 36.1,772.1 36.8,771.0 37.5,771.3 38.2,771.6 38.9,772.6 39.6,772.3 40.3,773.1 41.0,773.5 41.7,773.4 42.4,773.0 43.1,772.3 43.8,772.3 44.5,771.4 45.2,770.1 45.9,769.3 46.6,768.7 47.3,768.0 48.0,767.3 48.7,767.0 49.4,767.4 50.1,767.3 50.8,766.5 51.5,765.9 52.2,766.2 52.9,766.2 53.6,765.8 54.3,765.1 55.0,765.6 55.7,765.4 56.4,765.4 57.1,765.3 57.8,765.4 58.5,765.3 59.2,764.9 59.9,764.6 60.6,764.8 61.3,764.5 62.0,764.2 62.7,763.5 63.4,762.9 64.1,763.1 64.8,762.1 65.5,761.9 66.2,761.6 66.9,761.6 67.6,761.3 68.3,761.0 69.0,760.9 69.7,760.9 70.4,760.1 71.1,760.0 71.8,760.5 72.5,760.8 73.2,762.4 73.9,763.6 74.6,766.1 75.3,768.6 76.0,771.2 76.7,773.5 77.4,776.0 78.1,778.4 78.8,780.7 79.5,783.1 80.2,785.9 80.9,788.9 81.6,792.0 82.3,795.0 83.0,798.2 83.7,801.5 84.4,804.9 85.1,808.4 85.8,811.9 86.5,814.7 87.2,817.1 87.9,818.2 88.6,816.4 89.3,813.9 90.0,810.7 90.7,807.1 91.4,802.3 92.1,796.8 92.8,791.0 93.5,785.4 94.2,780.7 94.9,776.5 95.6,772.7 96.3,769.1 97.0,765.8 97.7,763.1 98.4,761.0 99.1,759.5 99.8,758.5 100.5,758.7 101.2,757.1 101.9,755.4 102.6,755.0 103.3,755.5 104.0,755.8 104.7,756.4 105.4,756.1 106.1,755.4 106.8,754.5 107.5,754.1 108.2,753.8 108.9,754.1 109.6,753.7 110.3,753.8 111.0,752.6 111.7,752.6 112.4,752.1 113.1,752.4 113.8,752.2 114.5,751.6 115.2,750.4 115.9,749.8 116.6,750.1 117.3,750.6 118.0,750.7 118.7,750.6 119.4,749.7 120.1,749.1 120.8,749.2 121.5,749.6 122.2,749.7 122.9,749.1 123.6,749.1 124.3,748.9 125.0,748.6 125.7,748.3 126.4,748.4 127.1,748.5 127.8,748.1 128.5,747.3 129.2,747.4 129.9,746.7 130.6,746.8 131.3,745.8 132.0,746.3 132.7,746.3 133.4,746.0 134.1,745.2 134.8,744.8 135.5,744.7 136.2,745.3 136.9,744.9 137.6,745.0 138.3,744.7 139.0,743.8 139.7,743.3 140.4,742.9 141.1,743.1 141.8,742.8 142.5,742.2 143.2,741.7 143.9,741.2 144.6,741.0 145.3,740.5 146.0,739.8 146.7,739.4 147.4,740.2 148.1,740.1 148.8,740.9 149.5,740.4 150.2,740.2 150.9,738.3 151.6,737.5 152.3,737.4 153.0,737.4 153.7,736.7 154.4,735.8 155.1,735.5 155.8,735.7 156.5,735.4 157.2,734.4 157.9,733.6 158.6,733.4 159.3,733.8 160.0,733.1 160.7,732.2 161.4,731.1 162.1,730.2 162.8,730.0 163.5,729.8 164.2,729.5 164.9,728.8 165.6,727.4 166.3,726.9 167.0,726.3 167.7,726.0 168.4,725.2 169.1,724.3 169.8,723.8 170.5,722.6 171.2,722.3 171.9,721.9 172.6,721.6 173.3,721.2 174.0,720.7 174.7,720.7 175.4,719.4 176.1,718.3 176.8,717.6 177.5,717.2 178.2,717.0 178.9,716.4 179.6,715.5 180.3,714.0 181.0,713.1 181.7,713.2 182.4,713.7 183.1,713.6 183.8,713.5 184.5,714.0 185.2,714.9 185.9,716.0 186.6,717.7 187.3,719.3 188.0,721.8 188.7,723.3 189.4,725.3 190.1,726.8 190.8,729.1 191.5,730.3 192.2,731.3 192.9,731.1 193.6,732.4 194.3,733.7 195.0,735.4 195.7,735.1 196.4,734.7 197.1,734.6 197.8,735.3 198.5,736.0 199.2,736.1 199.9,735.5 200.6,735.1 201.3,734.8 202.0,735.7 202.7,736.4 203.4,737.2 204.1,737.0 204.8,737.5 205.5,738.0 206.2,738.9 206.9,739.1 207.6,738.7 208.3,738.6 209.0,737.8 209.7,738.4 210.4,737.9 211.1,738.0 211.8,736.5 212.5,735.8 213.2,734.5 213.9,734.2 214.6,734.7 215.3,734.8 216.0,735.8 216.7,736.9 217.4,738.6 218.1,739.8 218.8,740.2 219.5,739.2 220.2,737.6 220.9,735.5 221.6,734.2 222.3,732.2 223.0,731.7 223.7,732.0 224.4,733.3 225.1,734.7 225.8,736.3 226.5,737.3 227.2,738.1 227.9,739.1 228.6,739.9 229.3,740.6 230.0,741.0 230.7,740.9 231.4,741.3 232.1,741.9 232.8,742.9 233.5,743.1 234.2,742.8 234.9,742.2 235.6,742.8 236.3,743.8 237.0,745.0 237.7,745.1 238.4,745.1 239.1,745.1 239.8,744.9 240.5,744.7 241.2,745.6" fill="none" stroke="#FCAE91" stroke-width="1.25" stroke-linejoin="round" />
<polyline points="33.3,769.4 34.0,769.6 34.7,769.3 35.4,769.4 36.1,769.8 36.8,770.9 37.5,771.3 38.2,771.8 38.9,771.4 39.6,771.4 40.3,771.4 41.0,771.3 41.7,771.5 42.4,771.6 43.1,770.8 43.8,769.7 44.5,769.0 45.2,768.3 45.9,767.9 46.6,767.4 47.3,767.2 48.0,766.3 48.7,765.8 49.4,766.4 50.1,766.1 50.8,765.5 51.5,764.2 52.2,764.3 52.9,764.4 53.6,764.3 54.3,763.7 55.0,764.3 55.7,764.7 56.4,764.8 57.1,764.1 57.8,764.3 58.5,764.3 59.2,764.6 59.9,764.7 60.6,764.6 61.3,763.9 62.0,763.6 62.7,763.0 63.4,762.5 64.1,762.0 64.8,761.7 65.5,761.6 66.2,760.9 66.9,760.6 67.6,760.4 68.3,760.2 69.0,760.3 69.7,759.5 70.4,758.7 71.1,758.6 71.8,758.7 72.5,759.6 73.2,760.8 73.9,763.2 74.6,765.0 75.3,767.5 76.0,769.9 76.7,772.4 77.4,774.6 78.1,776.9 78.8,779.2 79.5,782.0 80.2,784.9 80.9,788.2 81.6,791.4 82.3,794.7 83.0,798.0 83.7,801.5 84.4,805.2 85.1,808.9 85.8,812.7 86.5,816.1 87.2,819.1 87.9,820.3 88.6,818.6 89.3,815.6 90.0,812.3 90.7,807.9 91.4,802.8 92.1,796.9 92.8,791.0 93.5,785.4 94.2,780.7 94.9,776.2 95.6,772.0 96.3,768.2 97.0,765.2 97.7,762.7 98.4,760.7 99.1,759.1 99.8,758.0 100.5,756.7 101.2,757.1 101.9,757.5 102.6,757.5 103.3,757.0 104.0,756.2 104.7,755.8 105.4,755.1 106.1,755.2 106.8,754.8 107.5,754.3 108.2,753.8 108.9,753.7 109.6,754.1 110.3,754.4 111.0,754.7 111.7,754.5 112.4,753.9 113.1,753.2 113.8,753.2 114.5,753.2 115.2,753.0 115.9,752.4 116.6,752.3 117.3,752.0 118.0,751.4 118.7,751.0 119.4,750.7 120.1,751.0 120.8,751.0 121.5,751.6 122.2,751.0 122.9,750.6 123.6,749.3 124.3,749.1 125.0,749.1 125.7,749.0 126.4,749.0 127.1,748.7 127.8,748.8 128.5,748.7 129.2,748.7 129.9,748.3 130.6,747.5 131.3,747.5 132.0,747.9 132.7,748.3 133.4,747.4 134.1,746.6 134.8,745.9 135.5,745.7 136.2,745.0 136.9,745.5 137.6,745.3 138.3,745.6 139.0,745.4 139.7,745.1 140.4,744.4 141.1,742.9 141.8,743.6 142.5,744.1 143.2,744.3 143.9,742.7 144.6,741.9 145.3,741.8 146.0,742.0 146.7,741.6 147.4,741.7 148.1,741.7 148.8,741.3 149.5,740.4 150.2,739.4 150.9,739.1 151.6,738.8 152.3,738.6 153.0,738.5 153.7,738.2 154.4,737.6 155.1,736.8 155.8,735.9 156.5,735.4 157.2,734.5 157.9,735.1 158.6,734.8 159.3,735.3 160.0,734.4 160.7,733.5 161.4,731.6 162.1,731.2 162.8,731.0 163.5,731.7 164.2,731.4 164.9,731.1 165.6,729.9 166.3,728.8 167.0,728.5 167.7,728.0 168.4,727.6 169.1,726.4 169.8,725.9 170.5,724.4 171.2,724.0 171.9,722.2 172.6,721.6 173.3,720.8 174.0,721.0 174.7,720.4 175.4,719.5 176.1,719.0 176.8,718.8 177.5,718.9 178.2,718.1 178.9,717.7 179.6,716.9 180.3,716.2 181.0,716.1 181.7,715.8 182.4,715.3 183.1,715.1 183.8,715.4 184.5,716.8 185.2,717.6 185.9,719.1 186.6,720.4 187.3,721.3 188.0,723.1 188.7,725.4 189.4,728.2 190.1,730.4 190.8,731.9 191.5,732.9 192.2,733.7 192.9,734.0 193.6,735.4 194.3,735.9 195.0,736.9 195.7,736.6 196.4,736.4 197.1,736.5 197.8,737.0 198.5,737.6 199.2,738.0 199.9,738.6 200.6,738.4 201.3,738.3 202.0,738.5 202.7,738.9 203.4,738.9 204.1,738.8 204.8,739.6 205.5,740.2 206.2,740.7 206.9,740.4 207.6,740.6 208.3,740.4 209.0,740.1 209.7,739.7 210.4,739.8 211.1,739.2 211.8,738.7 212.5,737.5 213.2,737.3 213.9,736.8 214.6,736.4 215.3,736.1 216.0,737.5 216.7,739.1 217.4,740.4 218.1,742.4 218.8,743.3 219.5,742.5 220.2,739.4 220.9,737.8 221.6,736.6 222.3,734.9 223.0,733.7 223.7,734.6 224.4,735.6 225.1,737.4 225.8,738.7 226.5,740.3 227.2,741.4 227.9,742.5 228.6,743.4 229.3,744.0 230.0,744.4 230.7,744.6 231.4,744.1 232.1,744.3 232.8,745.1 233.5,746.0 234.2,746.3 234.9,745.8 235.6,746.3 236.3,746.8 237.0,747.2 237.7,747.3 238.4,748.0 239.1,748.6 239.8,749.3 240.5,750.1 241.2,751.0" fill="none" stroke="#FB6A4A" stroke-width="1.25" stroke-linejoin="round" />
<polyline points="33.3,768.7 34.0,769.0 34.7,769.1 35.4,770.0 36.1,769.5 36.8,769.7 37.5,769.7 38.2,770.3 38.9,770.6 39.6,770.5 40.3,770.8 41.0,771.0 41.7,770.8 42.4,770.7 43.1,770.2 43.8,769.2 44.5,767.8 45.2,767.1 45.9,767.2 46.6,766.2 47.3,765.2 48.0,764.5 48.7,764.6 49.4,764.2 50.1,763.6 50.8,763.4 51.5,763.6 52.2,763.5 52.9,763.3 53.6,763.6 54.3,763.4 55.0,764.0 55.7,764.3 56.4,763.9 57.1,763.2 57.8,762.1 58.5,762.0 59.2,762.1 59.9,762.4 60.6,762.3 61.3,761.4 62.0,761.0 62.7,760.5 63.4,760.2 64.1,760.3 64.8,760.6 65.5,760.3 66.2,759.7 66.9,758.8 67.6,759.0 68.3,759.2 69.0,758.8 69.7,758.6 70.4,758.3 71.1,758.8 71.8,758.0 72.5,757.6 73.2,759.5 73.9,761.9 74.6,764.4 75.3,767.2 76.0,770.1 76.7,772.8 77.4,775.4 78.1,778.1 78.8,780.8 79.5,783.8 80.2,786.8 80.9,790.5 81.6,794.2 82.3,798.2 83.0,802.0 83.7,805.5 84.4,808.9 85.1,812.4 85.8,816.1 86.5,819.5 87.2,822.3 87.9,824.7 88.6,825.3 89.3,823.2 90.0,818.8 90.7,812.6 91.4,806.5 92.1,800.6 92.8,794.6 93.5,788.9 94.2,783.4 94.9,778.3 95.6,773.3 96.3,768.9 97.0,765.0 97.7,762.0 98.4,759.8 99.1,758.0 99.8,756.8 100.5,755.8 101.2,754.9 101.9,754.4 102.6,754.2 103.3,754.3 104.0,754.2 104.7,753.9 105.4,753.5 106.1,753.3 106.8,753.3 107.5,753.5 108.2,752.8 108.9,752.2 109.6,751.4 110.3,751.7 111.0,751.6 111.7,751.1 112.4,750.6 113.1,750.3 113.8,750.7 114.5,750.6 115.2,750.6 115.9,750.0 116.6,750.1 117.3,750.0 118.0,750.1 118.7,749.9 119.4,750.0 120.1,749.4 120.8,748.6 121.5,748.4 122.2,748.1 122.9,748.0 123.6,747.7 124.3,748.1 125.0,747.6 125.7,746.9 126.4,746.4 127.1,746.8 127.8,746.7 128.5,746.7 129.2,745.8 129.9,745.6 130.6,745.1 131.3,745.4 132.0,745.4 132.7,745.0 133.4,745.3 134.1,745.0 134.8,745.3 135.5,744.5 136.2,743.9 136.9,743.6 137.6,742.7 138.3,742.6 139.0,741.7 139.7,741.5 140.4,741.7 141.1,741.1 141.8,741.3 142.5,739.7 143.2,739.1 143.9,737.5 144.6,737.5 145.3,738.0 146.0,737.9 146.7,738.1 147.4,737.3 148.1,736.8 148.8,736.0 149.5,735.6 150.2,735.3 150.9,734.6 151.6,733.9 152.3,734.1 153.0,733.4 153.7,733.6 154.4,732.5 155.1,732.3 155.8,731.5 156.5,731.3 157.2,730.7 157.9,730.1 158.6,729.5 159.3,729.3 160.0,728.5 160.7,727.7 161.4,727.0 162.1,726.3 162.8,725.9 163.5,725.5 164.2,725.3 164.9,724.9 165.6,724.0 166.3,723.8 167.0,722.9 167.7,722.7 168.4,722.0 169.1,721.2 169.8,720.6 170.5,719.6 171.2,719.1 171.9,718.1 172.6,717.7 173.3,716.9 174.0,716.6 174.7,715.7 175.4,715.0 176.1,713.8 176.8,713.4 177.5,712.9 178.2,711.7 178.9,710.8 179.6,710.5 180.3,710.1 181.0,708.5 181.7,706.4 182.4,705.4 183.1,705.1 183.8,706.1 184.5,707.3 185.2,708.8 185.9,709.3 186.6,710.5 187.3,712.2 188.0,714.7 188.7,717.8 189.4,720.4 190.1,723.4 190.8,724.6 191.5,726.5 192.2,727.6 192.9,729.0 193.6,730.2 194.3,731.0 195.0,731.5 195.7,731.3 196.4,731.5 197.1,731.8 197.8,732.3 198.5,732.2 199.2,732.2 199.9,732.5 200.6,732.9 201.3,733.5 202.0,733.8 202.7,733.9 203.4,733.9 204.1,733.9 204.8,734.2 205.5,734.8 206.2,735.3 206.9,735.2 207.6,734.7 208.3,734.6 209.0,735.1 209.7,735.6 210.4,735.7 211.1,735.0 211.8,734.2 212.5,733.1 213.2,732.3 213.9,731.8 214.6,731.1 215.3,731.6 216.0,733.1 216.7,734.4 217.4,735.6 218.1,737.1 218.8,738.2 219.5,737.2 220.2,736.1 220.9,734.6 221.6,733.5 222.3,731.8 223.0,732.0 223.7,732.4 224.4,732.7 225.1,732.6 225.8,733.0 226.5,733.7 227.2,734.3 227.9,735.7 228.6,736.4 229.3,736.2 230.0,736.0 230.7,735.5 231.4,736.7 232.1,736.5 232.8,737.0 233.5,736.2 234.2,736.7 234.9,737.6 235.6,738.2 236.3,739.0 237.0,738.7 237.7,739.7 238.4,739.7 239.1,740.3 239.8,740.8 240.5,741.7 241.2,742.9" fill="none" stroke="#A50F15" stroke-width="1.25" stroke-linejoin="round" />
<polyline points="33.3,765.4 34.0,764.8 34.7,764.9 35.4,764.5 36.1,764.1 36.8,763.3 37.5,763.7 38.2,764.6 38.9,765.5 39.6,765.9 40.3,765.9 41.0,766.1 41.7,766.1 42.4,766.1 43.1,764.9 43.8,764.3 44.5,763.8 45.2,763.6 45.9,763.0 46.6,761.8 47.3,761.4 48.0,760.8 48.7,760.7 49.4,760.4 50.1,760.5 50.8,760.2 51.5,760.1 52.2,758.9 52.9,759.2 53.6,758.8 54.3,759.3 55.0,758.8 55.7,758.1 56.4,757.8 57.1,758.1 57.8,758.3 58.5,757.8 59.2,756.9 59.9,756.1 60.6,755.3 61.3,754.5 62.0,754.3 62.7,754.0 63.4,754.1 64.1,754.6 64.8,754.5 65.5,753.7 66.2,752.4 66.9,751.8 67.6,751.7 68.3,751.1 69.0,749.8 69.7,748.9 70.4,749.2 71.1,749.9 71.8,750.1 72.5,750.7 73.2,752.2 73.9,755.4 74.6,757.7 75.3,760.9 76.0,763.6 76.7,766.0 77.4,768.4 78.1,770.7 78.8,773.3 79.5,775.9 80.2,779.0 80.9,782.2 81.6,785.6 82.3,789.3 83.0,793.0 83.7,796.8 84.4,800.8 85.1,805.6 85.8,810.2 86.5,813.8 87.2,815.8 87.9,814.6 88.6,811.5 89.3,806.1 90.0,799.9 90.7,794.5 91.4,789.3 92.1,784.3 92.8,779.4 93.5,774.2 94.2,768.8 94.9,764.1 95.6,760.3 96.3,757.4 97.0,754.9 97.7,752.8 98.4,750.8 99.1,749.2 99.8,748.0 100.5,748.0 101.2,746.2 101.9,744.8 102.6,744.7 103.3,744.7 104.0,744.4 104.7,743.7 105.4,743.0 106.1,743.4 106.8,743.0 107.5,742.8 108.2,741.9 108.9,741.0 109.6,741.7 110.3,741.9 111.0,742.8 111.7,742.0 112.4,741.7 113.1,741.5 113.8,741.7 114.5,741.6 115.2,740.9 115.9,740.3 116.6,739.6 117.3,739.9 118.0,739.5 118.7,739.1 119.4,738.5 120.1,738.7 120.8,738.5 121.5,738.3 122.2,737.6 122.9,737.5 123.6,736.8 124.3,737.1 125.0,737.1 125.7,736.9 126.4,736.1 127.1,735.2 127.8,734.7 128.5,734.6 129.2,734.9 129.9,735.1 130.6,734.4 131.3,734.5 132.0,734.2 132.7,734.2 133.4,733.9 134.1,734.3 134.8,734.0 135.5,733.6 136.2,732.6 136.9,732.4 137.6,731.8 138.3,731.7 139.0,731.9 139.7,732.2 140.4,731.8 141.1,731.0 141.8,730.3 142.5,729.9 143.2,730.2 143.9,730.2 144.6,730.0 145.3,729.4 146.0,729.1 146.7,729.2 147.4,729.0 148.1,728.6 148.8,728.4 149.5,727.9 150.2,727.8 150.9,727.4 151.6,726.9 152.3,727.0 153.0,726.3 153.7,726.5 154.4,726.7 155.1,726.4 155.8,725.9 156.5,724.5 157.2,724.2 157.9,724.0 158.6,723.8 159.3,724.0 160.0,723.4 160.7,723.1 161.4,722.4 162.1,722.4 162.8,722.6 163.5,721.7 164.2,721.3 164.9,720.1 165.6,719.8 166.3,719.2 167.0,719.0 167.7,719.0 168.4,718.1 169.1,717.9 169.8,716.6 170.5,716.2 171.2,715.0 171.9,714.6 172.6,713.6 173.3,712.8 174.0,712.0 174.7,711.4 175.4,710.5 176.1,710.7 176.8,710.0 177.5,710.5 178.2,709.6 178.9,709.3 179.6,708.6 180.3,707.8 181.0,707.1 181.7,706.5 182.4,706.0 183.1,705.7 183.8,705.0 184.5,705.4 185.2,705.4 185.9,707.0 186.6,708.4 187.3,710.4 188.0,712.1 188.7,714.1 189.4,716.2 190.1,718.2 190.8,721.1 191.5,723.6 192.2,726.0 192.9,726.5 193.6,726.6 194.3,726.9 195.0,727.6 195.7,728.9 196.4,728.8 197.1,728.6 197.8,728.6 198.5,728.4 199.2,728.6 199.9,728.5 200.6,729.5 201.3,730.5 202.0,730.9 202.7,730.8 203.4,730.5 204.1,730.7 204.8,731.4 205.5,731.7 206.2,731.5 206.9,730.8 207.6,730.7 208.3,731.3 209.0,731.6 209.7,731.9 210.4,731.4 211.1,731.1 211.8,730.8 212.5,729.3 213.2,729.1 213.9,728.6 214.6,729.1 215.3,728.9 216.0,729.7 216.7,731.2 217.4,732.5 218.1,734.0 218.8,734.8 219.5,734.6 220.2,733.4 220.9,732.2 221.6,730.4 222.3,729.4 223.0,728.8 223.7,730.0 224.4,730.9 225.1,731.6 225.8,732.5 226.5,732.9 227.2,733.5 227.9,733.0 228.6,733.0 229.3,733.1 230.0,733.7 230.7,733.9 231.4,734.7 232.1,734.9 232.8,735.6 233.5,735.9 234.2,736.4 234.9,736.9 235.6,737.3 236.3,738.0 237.0,738.6 237.7,738.5 238.4,739.3 239.1,739.6 239.8,741.1 240.5,741.7 241.2,741.8" fill="none" stroke="#DE2D26" stroke-width="1.25" stroke-linejoin="round" />
</g>
<line x1="33.30" y1="697.40" x2="241.60" y2="697.40" stroke="#222" stroke-width="1.1" />
<line x1="241.60" y1="697.40" x2="241.60" y2="849.30" stroke="#222" stroke-width="1.1" />
<line x1="33.30" y1="696.90" x2="33.30" y2="849.30" stroke="#222" stroke-width="1.3" />
<line x1="33.30" y1="849.30" x2="242.10" y2="849.30" stroke="#222" stroke-width="1.3" />
<line x1="31.30" y1="698.80" x2="33.30" y2="698.80" stroke="#222" stroke-width="0.8" />
<text x="30.70" y="701.90" font-size="8.8" text-anchor="end" fill="#222" >2.5</text>
<line x1="31.30" y1="725.42" x2="33.30" y2="725.42" stroke="#222" stroke-width="0.8" />
<text x="30.70" y="728.52" font-size="8.8" text-anchor="end" fill="#222" >2.0</text>
<line x1="31.30" y1="752.04" x2="33.30" y2="752.04" stroke="#222" stroke-width="0.8" />
<text x="30.70" y="755.14" font-size="8.8" text-anchor="end" fill="#222" >1.5</text>
<line x1="31.30" y1="778.66" x2="33.30" y2="778.66" stroke="#222" stroke-width="0.8" />
<text x="30.70" y="781.76" font-size="8.8" text-anchor="end" fill="#222" >1.0</text>
<line x1="31.30" y1="805.28" x2="33.30" y2="805.28" stroke="#222" stroke-width="0.8" />
<text x="30.70" y="808.38" font-size="8.8" text-anchor="end" fill="#222" >0.5</text>
<line x1="31.30" y1="831.90" x2="33.30" y2="831.90" stroke="#222" stroke-width="0.8" />
<text x="30.70" y="835.00" font-size="8.8" text-anchor="end" fill="#222" >0.0</text>
<text x="36.60" y="859.60" font-size="9" text-anchor="middle" fill="#222" >-3kb</text>
<text x="90.90" y="859.60" font-size="9" text-anchor="middle" fill="#222" >TSS</text>
<text x="185.40" y="859.60" font-size="9" text-anchor="middle" fill="#222" >TES</text>
<text x="240.00" y="859.60" font-size="9" text-anchor="middle" fill="#222" >3kb</text>
<line x1="89.50" y1="849.30" x2="89.50" y2="851.30" stroke="#222" stroke-width="0.8" />
<line x1="185.00" y1="849.30" x2="185.00" y2="851.30" stroke="#222" stroke-width="0.8" />
<text x="238.10" y="845.20" font-size="9" text-anchor="end" fill="#222" >genome coverage</text>
<text font-size="9" text-anchor="middle" fill="#222" transform="translate(14.0 768.2) rotate(-90)">5hmC signal</text>
<line x1="36.80" y1="703.50" x2="43.30" y2="703.50" stroke="#CCCCCC" stroke-width="1.8" />
<text x="46.00" y="706.30" font-size="9" text-anchor="start" fill="#222" >young</text>
<line x1="82.80" y1="703.50" x2="89.90" y2="703.50" stroke="#FCAE91" stroke-width="1.8" />
<text x="91.60" y="706.30" font-size="9" text-anchor="start" fill="#222" >old</text>
<line x1="36.80" y1="712.30" x2="43.30" y2="712.30" stroke="#969696" stroke-width="1.8" />
<text x="46.00" y="715.10" font-size="9" text-anchor="start" fill="#222" >young</text>
<line x1="82.80" y1="712.30" x2="89.90" y2="712.30" stroke="#FB6A4A" stroke-width="1.8" />
<text x="91.60" y="715.10" font-size="9" text-anchor="start" fill="#222" >old</text>
<line x1="36.80" y1="721.10" x2="43.30" y2="721.10" stroke="#636363" stroke-width="1.8" />
<text x="46.00" y="723.90" font-size="9" text-anchor="start" fill="#222" >young</text>
<line x1="82.80" y1="721.10" x2="89.90" y2="721.10" stroke="#DE2D26" stroke-width="1.8" />
<text x="91.60" y="723.90" font-size="9" text-anchor="start" fill="#222" >old</text>
<line x1="36.80" y1="729.90" x2="43.30" y2="729.90" stroke="#252525" stroke-width="1.8" />
<text x="46.00" y="732.70" font-size="9" text-anchor="start" fill="#222" >young</text>
<line x1="82.80" y1="729.90" x2="89.90" y2="729.90" stroke="#A50F15" stroke-width="1.8" />
<text x="91.60" y="732.70" font-size="9" text-anchor="start" fill="#222" >old</text>
<line x1="278.60" y1="734.80" x2="278.60" y2="800.10" stroke="#222" stroke-width="1.3" />
<line x1="278.60" y1="800.10" x2="322.30" y2="800.10" stroke="#222" stroke-width="1.3" />
<line x1="276.20" y1="800.10" x2="278.60" y2="800.10" stroke="#222" stroke-width="0.9" />
<text x="275.20" y="803.20" font-size="8.8" text-anchor="end" fill="#222" >0</text>
<line x1="276.20" y1="783.90" x2="278.60" y2="783.90" stroke="#222" stroke-width="0.9" />
<text x="275.20" y="787.00" font-size="8.8" text-anchor="end" fill="#222" >1</text>
<line x1="276.20" y1="767.70" x2="278.60" y2="767.70" stroke="#222" stroke-width="0.9" />
<text x="275.20" y="770.80" font-size="8.8" text-anchor="end" fill="#222" >2</text>
<line x1="276.20" y1="751.50" x2="278.60" y2="751.50" stroke="#222" stroke-width="0.9" />
<text x="275.20" y="754.60" font-size="8.8" text-anchor="end" fill="#222" >3</text>
<line x1="276.20" y1="735.30" x2="278.60" y2="735.30" stroke="#222" stroke-width="0.9" />
<text x="275.20" y="738.40" font-size="8.8" text-anchor="end" fill="#222" >4</text>
<line x1="291.40" y1="800.10" x2="291.40" y2="802.10" stroke="#222" stroke-width="0.9" />
<line x1="309.80" y1="800.10" x2="309.80" y2="802.10" stroke="#222" stroke-width="0.9" />
<text x="286.90" y="810.40" font-size="8.6" text-anchor="middle" fill="#222" >young</text>
<text x="311.50" y="810.40" font-size="8.6" text-anchor="middle" fill="#222" >old</text>
<text font-size="9" text-anchor="middle" fill="#222" transform="translate(266.2 767.3) rotate(-90)">5hmC signal</text>
<text x="300.7" y="735.2" font-size="8" text-anchor="middle" fill="#333"><tspan font-style="italic">p</tspan>&lt;0.001</text>
<polyline points="291.4,768.6 291.4,739.4 309.8,739.4 309.8,743.0" fill="none" stroke="#111" stroke-width="1.1" stroke-linejoin="round" stroke-linejoin="miter"/>
<line x1="291.20" y1="771.60" x2="291.20" y2="783.30" stroke="#111" stroke-width="1.1" />
<rect x="285.60" y="773.90" width="11.20" height="6.50" fill="#fff" stroke="#111" stroke-width="1.3" />
<line x1="285.60" y1="775.60" x2="296.80" y2="775.60" stroke="#111" stroke-width="1.2" />
<circle cx="288.00" cy="773.50" r="1.50" fill="#111" />
<circle cx="291.20" cy="772.60" r="1.50" fill="#111" />
<circle cx="294.00" cy="773.80" r="1.50" fill="#111" />
<circle cx="291.20" cy="783.20" r="1.50" fill="#111" />
<circle cx="290.00" cy="774.20" r="1.50" fill="#111" />
<line x1="309.80" y1="745.50" x2="309.80" y2="754.00" stroke="#F47C6C" stroke-width="1.0" />
<rect x="304.00" y="747.80" width="11.60" height="4.30" fill="#F47C6C" stroke="#F47C6C" stroke-width="1.1" />
<line x1="305.50" y1="749.80" x2="314.00" y2="749.80" stroke="#fff" stroke-width="1.0" />
<circle cx="306.50" cy="748.50" r="1.40" fill="#F47C6C" />
<circle cx="309.80" cy="746.30" r="1.40" fill="#F47C6C" />
<circle cx="313.00" cy="748.50" r="1.40" fill="#F47C6C" />
<circle cx="309.80" cy="753.80" r="1.40" fill="#F47C6C" />
<circle cx="312.00" cy="751.00" r="1.40" fill="#F47C6C" />
</svg>
</body></html>
